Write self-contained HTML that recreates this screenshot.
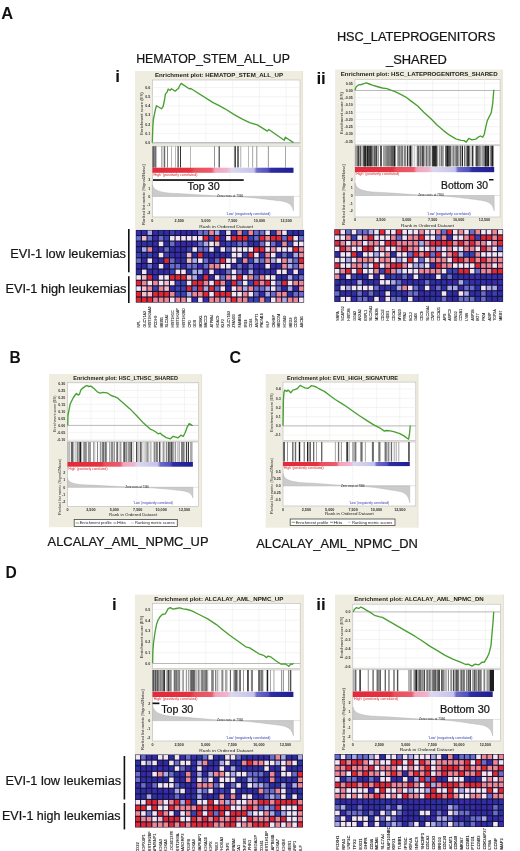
<!DOCTYPE html>
<html><head><meta charset="utf-8"><style>
html,body{margin:0;padding:0;background:#fff;}
body{width:520px;height:851px;overflow:hidden;}
svg{display:block;font-family:"Liberation Sans", sans-serif;filter:blur(0.35px);}
</style></head><body>
<svg width="520" height="851" viewBox="0 0 520 851" font-family='"Liberation Sans", sans-serif'>
<text x="1.3" y="18.8" font-size="16.5" text-anchor="start" font-weight="bold" fill="#111" textLength="11.9" lengthAdjust="spacingAndGlyphs">A</text>
<text x="9.6" y="363.0" font-size="16.5" text-anchor="start" font-weight="bold" fill="#111" textLength="11.2" lengthAdjust="spacingAndGlyphs">B</text>
<text x="229.6" y="363.0" font-size="16.5" text-anchor="start" font-weight="bold" fill="#111" textLength="11.6" lengthAdjust="spacingAndGlyphs">C</text>
<text x="5.4" y="577.9" font-size="16.5" text-anchor="start" font-weight="bold" fill="#111" textLength="11.3" lengthAdjust="spacingAndGlyphs">D</text>
<text x="115.2" y="82.1" font-size="17" text-anchor="start" font-weight="bold" fill="#111">i</text>
<text x="316.4" y="84.2" font-size="17" text-anchor="start" font-weight="bold" fill="#111">ii</text>
<text x="112.1" y="609.7" font-size="17" text-anchor="start" font-weight="bold" fill="#111">i</text>
<text x="316.2" y="609.6" font-size="17" text-anchor="start" font-weight="bold" fill="#111">ii</text>
<text x="136.2" y="62.9" font-size="12.5" text-anchor="start" font-weight="normal" fill="#151515" textLength="153.7" lengthAdjust="spacingAndGlyphs" stroke="#151515" stroke-width="0.22">HEMATOP_STEM_ALL_UP</text>
<text x="336.9" y="40.9" font-size="12.5" text-anchor="start" font-weight="normal" fill="#151515" textLength="158.5" lengthAdjust="spacingAndGlyphs" stroke="#151515" stroke-width="0.22">HSC_LATEPROGENITORS</text>
<text x="386.0" y="63.5" font-size="12.5" text-anchor="start" font-weight="normal" fill="#151515" textLength="60.9" lengthAdjust="spacingAndGlyphs" stroke="#151515" stroke-width="0.22">_SHARED</text>
<text x="47.6" y="546.0" font-size="13" text-anchor="start" font-weight="normal" fill="#151515" textLength="160.9" lengthAdjust="spacingAndGlyphs" stroke="#151515" stroke-width="0.22">ALCALAY_AML_NPMC_UP</text>
<text x="256.2" y="547.8" font-size="13" text-anchor="start" font-weight="normal" fill="#151515" textLength="161.6" lengthAdjust="spacingAndGlyphs" stroke="#151515" stroke-width="0.22">ALCALAY_AML_NPMC_DN</text>
<text x="10.2" y="257.8" font-size="12.5" text-anchor="start" font-weight="normal" fill="#151515" textLength="115.8" lengthAdjust="spacingAndGlyphs" stroke="#151515" stroke-width="0.22">EVI-1 low leukemias</text>
<text x="5.4" y="293.2" font-size="12.5" text-anchor="start" font-weight="normal" fill="#151515" textLength="121.1" lengthAdjust="spacingAndGlyphs" stroke="#151515" stroke-width="0.22">EVI-1 high leukemias</text>
<text x="5.4" y="785.0" font-size="12.5" text-anchor="start" font-weight="normal" fill="#151515" textLength="115.8" lengthAdjust="spacingAndGlyphs" stroke="#151515" stroke-width="0.22">EVI-1 low leukemias</text>
<text x="2.0" y="819.5" font-size="12.5" text-anchor="start" font-weight="normal" fill="#151515" textLength="118.5" lengthAdjust="spacingAndGlyphs" stroke="#151515" stroke-width="0.22">EVI-1 high leukemias</text>
<rect x="128.00" y="229.00" width="1.60" height="43.30" fill="#111"/>
<rect x="128.00" y="276.20" width="1.60" height="26.80" fill="#111"/>
<rect x="123.60" y="756.00" width="1.60" height="43.50" fill="#111"/>
<rect x="123.60" y="803.00" width="1.60" height="26.40" fill="#111"/>
<rect x="135.00" y="71.00" width="167.80" height="158.20" fill="#EFEDE0"/>
<line x1="302.40" y1="71.00" x2="302.40" y2="229.20" stroke="#e2dfd2" stroke-width="0.8"/>
<text x="155.0" y="77.3" font-size="6.2" text-anchor="start" font-weight="bold" fill="#1a1a1a" textLength="128.0" lengthAdjust="spacingAndGlyphs">Enrichment plot: HEMATOP_STEM_ALL_UP</text>
<rect x="152.40" y="80.00" width="147.60" height="63.80" fill="#ffffff" stroke="#b8b8b8" stroke-width="0.6"/>
<rect x="152.40" y="146.20" width="147.60" height="70.80" fill="#ffffff" stroke="#b8b8b8" stroke-width="0.6"/>
<line x1="179.15" y1="80.00" x2="179.15" y2="143.80" stroke="#ececec" stroke-width="0.6"/>
<line x1="205.90" y1="80.00" x2="205.90" y2="143.80" stroke="#ececec" stroke-width="0.6"/>
<line x1="232.65" y1="80.00" x2="232.65" y2="143.80" stroke="#ececec" stroke-width="0.6"/>
<line x1="259.40" y1="80.00" x2="259.40" y2="143.80" stroke="#ececec" stroke-width="0.6"/>
<line x1="286.15" y1="80.00" x2="286.15" y2="143.80" stroke="#ececec" stroke-width="0.6"/>
<line x1="152.40" y1="142.60" x2="300.00" y2="142.60" stroke="#ececec" stroke-width="0.6"/>
<line x1="152.40" y1="133.42" x2="300.00" y2="133.42" stroke="#ececec" stroke-width="0.6"/>
<line x1="152.40" y1="124.24" x2="300.00" y2="124.24" stroke="#ececec" stroke-width="0.6"/>
<line x1="152.40" y1="115.06" x2="300.00" y2="115.06" stroke="#ececec" stroke-width="0.6"/>
<line x1="152.40" y1="105.88" x2="300.00" y2="105.88" stroke="#ececec" stroke-width="0.6"/>
<line x1="152.40" y1="96.70" x2="300.00" y2="96.70" stroke="#ececec" stroke-width="0.6"/>
<line x1="152.40" y1="87.52" x2="300.00" y2="87.52" stroke="#ececec" stroke-width="0.6"/>
<line x1="152.40" y1="142.60" x2="300.00" y2="142.60" stroke="#a0a0a0" stroke-width="0.7"/>
<text x="150.2" y="143.9" font-size="3.6" text-anchor="end" font-weight="bold" fill="#333">0.0</text>
<text x="150.2" y="134.7" font-size="3.6" text-anchor="end" font-weight="bold" fill="#333">0.1</text>
<text x="150.2" y="125.5" font-size="3.6" text-anchor="end" font-weight="bold" fill="#333">0.2</text>
<text x="150.2" y="116.4" font-size="3.6" text-anchor="end" font-weight="bold" fill="#333">0.3</text>
<text x="150.2" y="107.2" font-size="3.6" text-anchor="end" font-weight="bold" fill="#333">0.4</text>
<text x="150.2" y="98.0" font-size="3.6" text-anchor="end" font-weight="bold" fill="#333">0.5</text>
<text x="150.2" y="88.8" font-size="3.6" text-anchor="end" font-weight="bold" fill="#333">0.6</text>
<text x="0" y="0" font-size="4.4" fill="#2a2a2a" textLength="42.4" lengthAdjust="spacingAndGlyphs" transform="translate(142.6,134.8) rotate(-90)">Enrichment score (ES)</text>
<text x="0" y="0" font-size="4.4" fill="#2a2a2a" textLength="61.0" lengthAdjust="spacingAndGlyphs" transform="translate(144.6,225.0) rotate(-90)">Ranked list metric (Signal2Noise)</text>
<path d="M152.3,142.6 L152.8,127.2 L153.4,119.5 L154.6,113.4 L155.4,109.5 L156.5,105.7 L161.5,108.8 L163.1,106.5 L164.6,99.5 L165.4,94.2 L167.2,91.8 L168.2,89.1 L170.0,90.3 L171.5,88.8 L173.8,90.3 L175.4,91.1 L176.9,89.5 L178.5,88.5 L179.2,86.5 L181.2,83.4 L189.2,88.8 L190.8,88.5 L213.1,102.6 L219.2,105.7 L225.0,108.8 L234.2,114.6 L241.9,118.8 L249.6,122.6 L257.3,124.9 L267.3,131.1 L268.8,129.5 L284.2,140.3 L285.3,137.2 L293.5,142.6" fill="none" stroke="#48a030" stroke-width="1.35" stroke-linejoin="round"/>
<rect x="152.30" y="146.20" width="4.20" height="21.40" fill="#828282"/>
<rect x="152.80" y="146.20" width="0.80" height="21.40" fill="#505050"/>
<rect x="155.00" y="146.20" width="0.70" height="21.40" fill="#696969"/>
<rect x="161.50" y="146.20" width="0.80" height="21.40" fill="#696969"/>
<rect x="163.70" y="146.20" width="1.50" height="21.40" fill="#696969"/>
<rect x="167.00" y="146.20" width="0.80" height="21.40" fill="#696969"/>
<rect x="171.10" y="146.20" width="0.70" height="21.40" fill="#9b9b9b"/>
<rect x="175.00" y="146.20" width="0.70" height="21.40" fill="#9b9b9b"/>
<rect x="177.40" y="146.20" width="1.50" height="21.40" fill="#696969"/>
<rect x="180.00" y="146.20" width="0.90" height="21.40" fill="#1e1e1e"/>
<rect x="190.10" y="146.20" width="0.70" height="21.40" fill="#9b9b9b"/>
<rect x="214.30" y="146.20" width="0.70" height="21.40" fill="#696969"/>
<rect x="218.50" y="146.20" width="1.50" height="21.40" fill="#696969"/>
<rect x="233.90" y="146.20" width="0.80" height="21.40" fill="#9b9b9b"/>
<rect x="234.70" y="146.20" width="1.20" height="21.40" fill="#1e1e1e"/>
<rect x="235.90" y="146.20" width="0.40" height="21.40" fill="#ffffff"/>
<rect x="237.20" y="146.20" width="1.60" height="21.40" fill="#505050"/>
<rect x="240.40" y="146.20" width="0.80" height="21.40" fill="#9b9b9b"/>
<rect x="248.30" y="146.20" width="0.70" height="21.40" fill="#9b9b9b"/>
<rect x="252.40" y="146.20" width="0.70" height="21.40" fill="#828282"/>
<rect x="256.50" y="146.20" width="0.70" height="21.40" fill="#696969"/>
<rect x="267.90" y="146.20" width="0.70" height="21.40" fill="#696969"/>
<rect x="285.10" y="146.20" width="0.70" height="21.40" fill="#828282"/>
<defs><linearGradient id="g1" x1="0" x2="1" y1="0" y2="0"><stop offset="0" stop-color="#e22a3c"/><stop offset="0.27" stop-color="#e4323f"/><stop offset="0.30" stop-color="#e9505e"/><stop offset="0.42" stop-color="#ec5a6a"/><stop offset="0.445" stop-color="#f0a4bc"/><stop offset="0.53" stop-color="#f0b4cc"/><stop offset="0.56" stop-color="#dcd6f0"/><stop offset="0.72" stop-color="#c4c2ec"/><stop offset="0.74" stop-color="#6c6ac8"/><stop offset="0.82" stop-color="#5250bc"/><stop offset="0.84" stop-color="#2e2ca2"/><stop offset="1" stop-color="#201e92"/></linearGradient></defs>
<rect x="152.40" y="167.70" width="141.10" height="5.10" fill="url(#g1)"/>
<text x="152.9" y="175.6" font-size="3.2" text-anchor="start" font-weight="normal" fill="#d42020" textLength="44.5" lengthAdjust="spacingAndGlyphs">'High' (positively correlated)</text>
<path d="M152.4,196.4 L152.4,185.0 C153.9,190.1 158.4,192.1 170.4,193.2 C192.4,194.1 210.0,195.7 230.0,196.4 C255.0,197.3 265.5,199.3 279.5,200.8 C288.5,201.9 292.0,204.4 293.5,211.0 L293.5,196.4 Z" fill="#cbcbcb" stroke="#a8a8a8" stroke-width="0.35"/>
<line x1="152.40" y1="196.40" x2="300.00" y2="196.40" stroke="#bdbdbd" stroke-width="0.4"/>
<line x1="230.00" y1="173.00" x2="230.00" y2="217.00" stroke="#d0d0d0" stroke-width="0.4" stroke-dasharray="1,1"/>
<text x="217.0" y="197.2" font-size="3.0" text-anchor="start" font-weight="normal" fill="#1a1a1a" textLength="26.2" lengthAdjust="spacingAndGlyphs">Zero cross at 7366</text>
<text x="226.0" y="214.8" font-size="3.2" text-anchor="start" font-weight="normal" fill="#2838b0" textLength="44.4" lengthAdjust="spacingAndGlyphs">'Low' (negatively correlated)</text>
<text x="150.2" y="181.3" font-size="3.6" text-anchor="end" font-weight="bold" fill="#333">3</text>
<text x="150.2" y="189.5" font-size="3.6" text-anchor="end" font-weight="bold" fill="#333">1</text>
<text x="150.2" y="197.7" font-size="3.6" text-anchor="end" font-weight="bold" fill="#333">0</text>
<text x="150.2" y="205.9" font-size="3.6" text-anchor="end" font-weight="bold" fill="#333">-1</text>
<text x="150.2" y="214.1" font-size="3.6" text-anchor="end" font-weight="bold" fill="#333">-2</text>
<text x="152.4" y="221.6" font-size="3.7" text-anchor="middle" font-weight="bold" fill="#2a2a2a">0</text>
<text x="179.2" y="221.6" font-size="3.7" text-anchor="middle" font-weight="bold" fill="#2a2a2a">2,500</text>
<text x="205.9" y="221.6" font-size="3.7" text-anchor="middle" font-weight="bold" fill="#2a2a2a">5,000</text>
<text x="232.7" y="221.6" font-size="3.7" text-anchor="middle" font-weight="bold" fill="#2a2a2a">7,500</text>
<text x="259.4" y="221.6" font-size="3.7" text-anchor="middle" font-weight="bold" fill="#2a2a2a">10,000</text>
<text x="286.1" y="221.6" font-size="3.7" text-anchor="middle" font-weight="bold" fill="#2a2a2a">12,500</text>
<text x="199.2" y="227.6" font-size="4.0" text-anchor="start" font-weight="normal" fill="#1a1a1a" textLength="54.0" lengthAdjust="spacingAndGlyphs">Rank in Ordered Dataset</text>
<rect x="153.00" y="179.20" width="90.70" height="1.70" fill="#111"/>
<text x="187.4" y="189.9" font-size="10.4" text-anchor="start" font-weight="normal" fill="#151515" textLength="32.3" lengthAdjust="spacingAndGlyphs" stroke="#151515" stroke-width="0.22">Top 30</text>
<rect x="335.20" y="69.60" width="167.40" height="159.60" fill="#EFEDE0"/>
<line x1="502.20" y1="69.60" x2="502.20" y2="229.20" stroke="#e2dfd2" stroke-width="0.8"/>
<text x="340.7" y="76.2" font-size="6.2" text-anchor="start" font-weight="bold" fill="#1a1a1a" textLength="156.9" lengthAdjust="spacingAndGlyphs">Enrichment plot: HSC_LATEPROGENITORS_SHARED</text>
<rect x="355.00" y="79.30" width="145.10" height="65.50" fill="#ffffff" stroke="#b8b8b8" stroke-width="0.6"/>
<rect x="355.00" y="145.80" width="145.10" height="71.20" fill="#ffffff" stroke="#b8b8b8" stroke-width="0.6"/>
<line x1="380.90" y1="79.30" x2="380.90" y2="144.80" stroke="#ececec" stroke-width="0.6"/>
<line x1="406.80" y1="79.30" x2="406.80" y2="144.80" stroke="#ececec" stroke-width="0.6"/>
<line x1="432.70" y1="79.30" x2="432.70" y2="144.80" stroke="#ececec" stroke-width="0.6"/>
<line x1="458.60" y1="79.30" x2="458.60" y2="144.80" stroke="#ececec" stroke-width="0.6"/>
<line x1="484.50" y1="79.30" x2="484.50" y2="144.80" stroke="#ececec" stroke-width="0.6"/>
<line x1="355.00" y1="83.25" x2="500.10" y2="83.25" stroke="#ececec" stroke-width="0.6"/>
<line x1="355.00" y1="90.50" x2="500.10" y2="90.50" stroke="#ececec" stroke-width="0.6"/>
<line x1="355.00" y1="97.75" x2="500.10" y2="97.75" stroke="#ececec" stroke-width="0.6"/>
<line x1="355.00" y1="105.00" x2="500.10" y2="105.00" stroke="#ececec" stroke-width="0.6"/>
<line x1="355.00" y1="112.25" x2="500.10" y2="112.25" stroke="#ececec" stroke-width="0.6"/>
<line x1="355.00" y1="119.50" x2="500.10" y2="119.50" stroke="#ececec" stroke-width="0.6"/>
<line x1="355.00" y1="126.75" x2="500.10" y2="126.75" stroke="#ececec" stroke-width="0.6"/>
<line x1="355.00" y1="134.00" x2="500.10" y2="134.00" stroke="#ececec" stroke-width="0.6"/>
<line x1="355.00" y1="141.25" x2="500.10" y2="141.25" stroke="#ececec" stroke-width="0.6"/>
<line x1="355.00" y1="90.50" x2="500.10" y2="90.50" stroke="#a0a0a0" stroke-width="0.7"/>
<text x="352.8" y="84.5" font-size="3.6" text-anchor="end" font-weight="bold" fill="#333">0.05</text>
<text x="352.8" y="91.8" font-size="3.6" text-anchor="end" font-weight="bold" fill="#333">0.00</text>
<text x="352.8" y="99.0" font-size="3.6" text-anchor="end" font-weight="bold" fill="#333">-0.05</text>
<text x="352.8" y="106.3" font-size="3.6" text-anchor="end" font-weight="bold" fill="#333">-0.10</text>
<text x="352.8" y="113.5" font-size="3.6" text-anchor="end" font-weight="bold" fill="#333">-0.15</text>
<text x="352.8" y="120.8" font-size="3.6" text-anchor="end" font-weight="bold" fill="#333">-0.20</text>
<text x="352.8" y="128.1" font-size="3.6" text-anchor="end" font-weight="bold" fill="#333">-0.25</text>
<text x="352.8" y="135.3" font-size="3.6" text-anchor="end" font-weight="bold" fill="#333">-0.30</text>
<text x="352.8" y="142.6" font-size="3.6" text-anchor="end" font-weight="bold" fill="#333">-0.35</text>
<text x="0" y="0" font-size="4.4" fill="#2a2a2a" textLength="42.0" lengthAdjust="spacingAndGlyphs" transform="translate(343.1,134.0) rotate(-90)">Enrichment score (ES)</text>
<text x="0" y="0" font-size="4.4" fill="#2a2a2a" textLength="61.0" lengthAdjust="spacingAndGlyphs" transform="translate(345.1,225.0) rotate(-90)">Ranked list metric (Signal2Noise)</text>
<path d="M354.9,90.2 L356.2,86.8 L358.5,84.9 L361.5,84.5 L363.8,83.7 L366.2,82.9 L369.2,84.0 L372.3,85.2 L376.9,86.5 L382.3,88.0 L386.9,88.6 L390.8,90.2 L394.6,91.4 L399.2,93.7 L405.4,96.8 L411.5,101.4 L417.7,106.0 L423.8,112.2 L431.2,119.1 L437.3,125.2 L443.5,130.6 L449.6,135.2 L455.8,138.8 L461.2,140.3 L464.2,140.6 L466.2,142.2 L468.8,138.3 L471.9,139.8 L475.8,139.1 L478.8,136.8 L480.4,136.0 L482.7,137.2 L484.2,134.5 L485.8,126.8 L487.3,120.6 L489.6,116.0 L491.2,112.9 L492.7,103.7 L493.8,89.8" fill="none" stroke="#48a030" stroke-width="1.35" stroke-linejoin="round"/>
<rect x="355.20" y="145.80" width="0.60" height="20.60" fill="#8e8e8e"/>
<rect x="355.80" y="145.80" width="0.80" height="20.60" fill="#5c5c5c"/>
<rect x="356.60" y="145.80" width="0.80" height="20.60" fill="#a7a7a7"/>
<rect x="357.40" y="145.80" width="0.80" height="20.60" fill="#2a2a2a"/>
<rect x="358.20" y="145.80" width="1.00" height="20.60" fill="#1e1e1e"/>
<rect x="359.20" y="145.80" width="0.60" height="20.60" fill="#a7a7a7"/>
<rect x="359.80" y="145.80" width="1.00" height="20.60" fill="#2a2a2a"/>
<rect x="360.80" y="145.80" width="0.70" height="20.60" fill="#757575"/>
<rect x="362.50" y="145.80" width="0.60" height="20.60" fill="#757575"/>
<rect x="363.10" y="145.80" width="0.80" height="20.60" fill="#434343"/>
<rect x="363.90" y="145.80" width="0.80" height="20.60" fill="#1e1e1e"/>
<rect x="364.70" y="145.80" width="1.00" height="20.60" fill="#434343"/>
<rect x="365.70" y="145.80" width="1.20" height="20.60" fill="#757575"/>
<rect x="366.90" y="145.80" width="1.20" height="20.60" fill="#1e1e1e"/>
<rect x="368.10" y="145.80" width="0.80" height="20.60" fill="#1e1e1e"/>
<rect x="368.90" y="145.80" width="1.20" height="20.60" fill="#434343"/>
<rect x="370.10" y="145.80" width="1.20" height="20.60" fill="#1e1e1e"/>
<rect x="371.30" y="145.80" width="1.20" height="20.60" fill="#1e1e1e"/>
<rect x="372.50" y="145.80" width="1.00" height="20.60" fill="#757575"/>
<rect x="373.50" y="145.80" width="0.10" height="20.60" fill="#1e1e1e"/>
<rect x="374.60" y="145.80" width="1.20" height="20.60" fill="#5c5c5c"/>
<rect x="375.80" y="145.80" width="1.20" height="20.60" fill="#434343"/>
<rect x="377.00" y="145.80" width="0.60" height="20.60" fill="#434343"/>
<rect x="377.60" y="145.80" width="0.80" height="20.60" fill="#ffffff"/>
<rect x="378.40" y="145.80" width="0.60" height="20.60" fill="#5c5c5c"/>
<rect x="380.00" y="145.80" width="0.60" height="20.60" fill="#757575"/>
<rect x="380.60" y="145.80" width="0.80" height="20.60" fill="#5c5c5c"/>
<rect x="381.40" y="145.80" width="0.60" height="20.60" fill="#2a2a2a"/>
<rect x="383.00" y="145.80" width="0.60" height="20.60" fill="#a7a7a7"/>
<rect x="383.60" y="145.80" width="0.80" height="20.60" fill="#5c5c5c"/>
<rect x="384.40" y="145.80" width="0.60" height="20.60" fill="#8e8e8e"/>
<rect x="385.00" y="145.80" width="0.60" height="20.60" fill="#a7a7a7"/>
<rect x="385.60" y="145.80" width="0.60" height="20.60" fill="#434343"/>
<rect x="386.20" y="145.80" width="0.80" height="20.60" fill="#757575"/>
<rect x="387.00" y="145.80" width="0.60" height="20.60" fill="#2a2a2a"/>
<rect x="387.60" y="145.80" width="0.80" height="20.60" fill="#757575"/>
<rect x="388.40" y="145.80" width="0.60" height="20.60" fill="#434343"/>
<rect x="389.00" y="145.80" width="0.60" height="20.60" fill="#5c5c5c"/>
<rect x="389.60" y="145.80" width="0.60" height="20.60" fill="#5c5c5c"/>
<rect x="390.20" y="145.80" width="0.60" height="20.60" fill="#5c5c5c"/>
<rect x="390.80" y="145.80" width="0.80" height="20.60" fill="#1e1e1e"/>
<rect x="391.60" y="145.80" width="0.60" height="20.60" fill="#434343"/>
<rect x="392.20" y="145.80" width="0.60" height="20.60" fill="#1e1e1e"/>
<rect x="392.80" y="145.80" width="0.80" height="20.60" fill="#2a2a2a"/>
<rect x="393.60" y="145.80" width="1.00" height="20.60" fill="#757575"/>
<rect x="394.60" y="145.80" width="1.00" height="20.60" fill="#5c5c5c"/>
<rect x="395.60" y="145.80" width="0.30" height="20.60" fill="#a7a7a7"/>
<rect x="396.90" y="145.80" width="0.80" height="20.60" fill="#a7a7a7"/>
<rect x="397.70" y="145.80" width="0.80" height="20.60" fill="#757575"/>
<rect x="398.50" y="145.80" width="1.20" height="20.60" fill="#5c5c5c"/>
<rect x="399.70" y="145.80" width="0.60" height="20.60" fill="#5c5c5c"/>
<rect x="400.30" y="145.80" width="1.20" height="20.60" fill="#8e8e8e"/>
<rect x="401.50" y="145.80" width="0.80" height="20.60" fill="#434343"/>
<rect x="402.30" y="145.80" width="1.20" height="20.60" fill="#5c5c5c"/>
<rect x="403.50" y="145.80" width="0.60" height="20.60" fill="#ffffff"/>
<rect x="404.10" y="145.80" width="1.20" height="20.60" fill="#757575"/>
<rect x="405.30" y="145.80" width="0.60" height="20.60" fill="#5c5c5c"/>
<rect x="405.90" y="145.80" width="0.60" height="20.60" fill="#757575"/>
<rect x="406.50" y="145.80" width="0.60" height="20.60" fill="#ffffff"/>
<rect x="407.10" y="145.80" width="1.20" height="20.60" fill="#1e1e1e"/>
<rect x="409.30" y="145.80" width="1.20" height="20.60" fill="#5c5c5c"/>
<rect x="410.50" y="145.80" width="0.80" height="20.60" fill="#2a2a2a"/>
<rect x="411.30" y="145.80" width="0.60" height="20.60" fill="#a7a7a7"/>
<rect x="411.90" y="145.80" width="0.80" height="20.60" fill="#8e8e8e"/>
<rect x="412.70" y="145.80" width="1.20" height="20.60" fill="#ffffff"/>
<rect x="413.90" y="145.80" width="0.60" height="20.60" fill="#434343"/>
<rect x="414.50" y="145.80" width="1.00" height="20.60" fill="#ffffff"/>
<rect x="415.50" y="145.80" width="0.10" height="20.60" fill="#8e8e8e"/>
<rect x="416.60" y="145.80" width="0.80" height="20.60" fill="#a7a7a7"/>
<rect x="417.40" y="145.80" width="0.60" height="20.60" fill="#2a2a2a"/>
<rect x="418.00" y="145.80" width="1.20" height="20.60" fill="#5c5c5c"/>
<rect x="419.20" y="145.80" width="0.60" height="20.60" fill="#a7a7a7"/>
<rect x="419.80" y="145.80" width="1.00" height="20.60" fill="#5c5c5c"/>
<rect x="420.80" y="145.80" width="0.60" height="20.60" fill="#5c5c5c"/>
<rect x="421.40" y="145.80" width="0.80" height="20.60" fill="#8e8e8e"/>
<rect x="422.20" y="145.80" width="1.20" height="20.60" fill="#1e1e1e"/>
<rect x="423.40" y="145.80" width="1.00" height="20.60" fill="#2a2a2a"/>
<rect x="425.40" y="145.80" width="1.00" height="20.60" fill="#8e8e8e"/>
<rect x="426.40" y="145.80" width="1.00" height="20.60" fill="#2a2a2a"/>
<rect x="427.40" y="145.80" width="0.60" height="20.60" fill="#a7a7a7"/>
<rect x="428.00" y="145.80" width="1.20" height="20.60" fill="#a7a7a7"/>
<rect x="429.20" y="145.80" width="1.20" height="20.60" fill="#5c5c5c"/>
<rect x="430.40" y="145.80" width="0.40" height="20.60" fill="#757575"/>
<rect x="431.80" y="145.80" width="1.00" height="20.60" fill="#1e1e1e"/>
<rect x="432.80" y="145.80" width="1.20" height="20.60" fill="#2a2a2a"/>
<rect x="434.00" y="145.80" width="1.00" height="20.60" fill="#2a2a2a"/>
<rect x="435.00" y="145.80" width="1.20" height="20.60" fill="#5c5c5c"/>
<rect x="436.20" y="145.80" width="0.60" height="20.60" fill="#8e8e8e"/>
<rect x="436.80" y="145.80" width="0.80" height="20.60" fill="#757575"/>
<rect x="437.60" y="145.80" width="0.60" height="20.60" fill="#8e8e8e"/>
<rect x="439.20" y="145.80" width="0.60" height="20.60" fill="#757575"/>
<rect x="439.80" y="145.80" width="0.60" height="20.60" fill="#5c5c5c"/>
<rect x="441.40" y="145.80" width="1.00" height="20.60" fill="#1e1e1e"/>
<rect x="442.40" y="145.80" width="1.00" height="20.60" fill="#8e8e8e"/>
<rect x="443.40" y="145.80" width="0.60" height="20.60" fill="#8e8e8e"/>
<rect x="445.00" y="145.80" width="0.80" height="20.60" fill="#5c5c5c"/>
<rect x="445.80" y="145.80" width="0.80" height="20.60" fill="#1e1e1e"/>
<rect x="446.60" y="145.80" width="0.80" height="20.60" fill="#2a2a2a"/>
<rect x="447.40" y="145.80" width="1.00" height="20.60" fill="#757575"/>
<rect x="448.40" y="145.80" width="0.60" height="20.60" fill="#2a2a2a"/>
<rect x="449.00" y="145.80" width="0.80" height="20.60" fill="#2a2a2a"/>
<rect x="449.80" y="145.80" width="1.20" height="20.60" fill="#5c5c5c"/>
<rect x="451.00" y="145.80" width="0.30" height="20.60" fill="#1e1e1e"/>
<rect x="452.30" y="145.80" width="1.00" height="20.60" fill="#8e8e8e"/>
<rect x="453.30" y="145.80" width="0.80" height="20.60" fill="#5c5c5c"/>
<rect x="454.10" y="145.80" width="1.20" height="20.60" fill="#a7a7a7"/>
<rect x="455.30" y="145.80" width="1.20" height="20.60" fill="#757575"/>
<rect x="456.50" y="145.80" width="0.60" height="20.60" fill="#2a2a2a"/>
<rect x="457.10" y="145.80" width="1.20" height="20.60" fill="#5c5c5c"/>
<rect x="458.30" y="145.80" width="0.30" height="20.60" fill="#2a2a2a"/>
<rect x="459.60" y="145.80" width="0.80" height="20.60" fill="#5c5c5c"/>
<rect x="460.40" y="145.80" width="0.80" height="20.60" fill="#1e1e1e"/>
<rect x="461.20" y="145.80" width="0.80" height="20.60" fill="#a7a7a7"/>
<rect x="462.00" y="145.80" width="1.00" height="20.60" fill="#1e1e1e"/>
<rect x="464.00" y="145.80" width="0.80" height="20.60" fill="#1e1e1e"/>
<rect x="464.80" y="145.80" width="0.60" height="20.60" fill="#ffffff"/>
<rect x="465.40" y="145.80" width="1.20" height="20.60" fill="#8e8e8e"/>
<rect x="466.60" y="145.80" width="1.20" height="20.60" fill="#434343"/>
<rect x="467.80" y="145.80" width="1.20" height="20.60" fill="#a7a7a7"/>
<rect x="469.00" y="145.80" width="1.00" height="20.60" fill="#757575"/>
<rect x="470.00" y="145.80" width="0.30" height="20.60" fill="#5c5c5c"/>
<rect x="471.30" y="145.80" width="0.80" height="20.60" fill="#a7a7a7"/>
<rect x="472.10" y="145.80" width="1.20" height="20.60" fill="#1e1e1e"/>
<rect x="473.30" y="145.80" width="0.70" height="20.60" fill="#a7a7a7"/>
<rect x="475.00" y="145.80" width="1.20" height="20.60" fill="#a7a7a7"/>
<rect x="476.20" y="145.80" width="1.20" height="20.60" fill="#1e1e1e"/>
<rect x="477.40" y="145.80" width="1.00" height="20.60" fill="#1e1e1e"/>
<rect x="478.40" y="145.80" width="1.20" height="20.60" fill="#5c5c5c"/>
<rect x="479.60" y="145.80" width="1.00" height="20.60" fill="#5c5c5c"/>
<rect x="480.60" y="145.80" width="0.00" height="20.60" fill="#2a2a2a"/>
<rect x="481.60" y="145.80" width="0.60" height="20.60" fill="#5c5c5c"/>
<rect x="482.20" y="145.80" width="0.80" height="20.60" fill="#8e8e8e"/>
<rect x="483.00" y="145.80" width="0.50" height="20.60" fill="#1e1e1e"/>
<rect x="484.50" y="145.80" width="1.00" height="20.60" fill="#a7a7a7"/>
<rect x="485.50" y="145.80" width="0.60" height="20.60" fill="#2a2a2a"/>
<rect x="486.10" y="145.80" width="0.80" height="20.60" fill="#434343"/>
<rect x="486.90" y="145.80" width="1.00" height="20.60" fill="#1e1e1e"/>
<rect x="487.90" y="145.80" width="1.20" height="20.60" fill="#1e1e1e"/>
<rect x="489.10" y="145.80" width="0.20" height="20.60" fill="#757575"/>
<rect x="490.30" y="145.80" width="1.20" height="20.60" fill="#5c5c5c"/>
<rect x="491.50" y="145.80" width="1.00" height="20.60" fill="#757575"/>
<rect x="492.50" y="145.80" width="0.80" height="20.60" fill="#1e1e1e"/>
<rect x="493.30" y="145.80" width="0.50" height="20.60" fill="#757575"/>
<rect x="364.40" y="145.80" width="1.50" height="20.60" fill="#1e1e1e"/>
<rect x="373.90" y="145.80" width="0.70" height="20.60" fill="#1e1e1e"/>
<rect x="380.50" y="145.80" width="0.70" height="20.60" fill="#1e1e1e"/>
<rect x="393.70" y="145.80" width="1.40" height="20.60" fill="#1e1e1e"/>
<rect x="409.70" y="145.80" width="1.50" height="20.60" fill="#1e1e1e"/>
<rect x="435.20" y="145.80" width="1.50" height="20.60" fill="#1e1e1e"/>
<rect x="446.90" y="145.80" width="1.50" height="20.60" fill="#1e1e1e"/>
<rect x="467.40" y="145.80" width="1.50" height="20.60" fill="#1e1e1e"/>
<rect x="484.50" y="145.80" width="1.90" height="20.60" fill="#1e1e1e"/>
<rect x="491.50" y="145.80" width="1.50" height="20.60" fill="#1e1e1e"/>
<defs><linearGradient id="g2" x1="0" x2="1" y1="0" y2="0"><stop offset="0" stop-color="#e22a3c"/><stop offset="0.27" stop-color="#e4323f"/><stop offset="0.30" stop-color="#e9505e"/><stop offset="0.42" stop-color="#ec5a6a"/><stop offset="0.445" stop-color="#f0a4bc"/><stop offset="0.53" stop-color="#f0b4cc"/><stop offset="0.56" stop-color="#dcd6f0"/><stop offset="0.72" stop-color="#c4c2ec"/><stop offset="0.74" stop-color="#6c6ac8"/><stop offset="0.82" stop-color="#5250bc"/><stop offset="0.84" stop-color="#2e2ca2"/><stop offset="1" stop-color="#201e92"/></linearGradient></defs>
<rect x="355.00" y="167.00" width="139.20" height="5.20" fill="url(#g2)"/>
<text x="355.5" y="175.0" font-size="3.2" text-anchor="start" font-weight="normal" fill="#d42020" textLength="43.7" lengthAdjust="spacingAndGlyphs">'High' (positively correlated)</text>
<path d="M355.0,195.5 L355.0,183.0 C356.5,188.6 360.9,190.8 372.7,192.0 C394.3,193.0 411.3,194.8 431.0,195.5 C455.6,196.4 466.7,198.6 480.4,200.2 C489.3,201.4 492.7,204.0 494.2,211.0 L494.2,195.5 Z" fill="#cbcbcb" stroke="#a8a8a8" stroke-width="0.35"/>
<line x1="355.00" y1="195.50" x2="500.10" y2="195.50" stroke="#bdbdbd" stroke-width="0.4"/>
<line x1="431.00" y1="173.00" x2="431.00" y2="217.00" stroke="#d0d0d0" stroke-width="0.4" stroke-dasharray="1,1"/>
<text x="418.2" y="196.3" font-size="3.0" text-anchor="start" font-weight="normal" fill="#1a1a1a" textLength="25.8" lengthAdjust="spacingAndGlyphs">Zero cross at 7366</text>
<text x="427.1" y="214.8" font-size="3.2" text-anchor="start" font-weight="normal" fill="#2838b0" textLength="43.6" lengthAdjust="spacingAndGlyphs">'Low' (negatively correlated)</text>
<text x="352.8" y="181.3" font-size="3.6" text-anchor="end" font-weight="bold" fill="#333">2</text>
<text x="352.8" y="189.0" font-size="3.6" text-anchor="end" font-weight="bold" fill="#333">1</text>
<text x="352.8" y="196.8" font-size="3.6" text-anchor="end" font-weight="bold" fill="#333">0</text>
<text x="352.8" y="204.6" font-size="3.6" text-anchor="end" font-weight="bold" fill="#333">-1</text>
<text x="352.8" y="212.3" font-size="3.6" text-anchor="end" font-weight="bold" fill="#333">-2</text>
<text x="355.0" y="221.3" font-size="3.7" text-anchor="middle" font-weight="bold" fill="#2a2a2a">0</text>
<text x="380.9" y="221.3" font-size="3.7" text-anchor="middle" font-weight="bold" fill="#2a2a2a">2,500</text>
<text x="406.8" y="221.3" font-size="3.7" text-anchor="middle" font-weight="bold" fill="#2a2a2a">5,000</text>
<text x="432.7" y="221.3" font-size="3.7" text-anchor="middle" font-weight="bold" fill="#2a2a2a">7,500</text>
<text x="458.6" y="221.3" font-size="3.7" text-anchor="middle" font-weight="bold" fill="#2a2a2a">10,000</text>
<text x="484.5" y="221.3" font-size="3.7" text-anchor="middle" font-weight="bold" fill="#2a2a2a">12,500</text>
<text x="401.0" y="226.8" font-size="4.0" text-anchor="start" font-weight="normal" fill="#1a1a1a" textLength="53.1" lengthAdjust="spacingAndGlyphs">Rank in Ordered Dataset</text>
<rect x="489.00" y="179.00" width="4.50" height="1.50" fill="#111"/>
<text x="441.0" y="188.8" font-size="10.4" text-anchor="start" font-weight="normal" fill="#151515" textLength="47.1" lengthAdjust="spacingAndGlyphs" stroke="#151515" stroke-width="0.22">Bottom 30</text>
<rect x="49.00" y="374.00" width="153.00" height="153.20" fill="#EFEDE0"/>
<line x1="201.60" y1="374.00" x2="201.60" y2="527.20" stroke="#e2dfd2" stroke-width="0.8"/>
<text x="73.3" y="380.3" font-size="6.2" text-anchor="start" font-weight="bold" fill="#1a1a1a" textLength="104.6" lengthAdjust="spacingAndGlyphs">Enrichment plot: HSC_LTHSC_SHARED</text>
<rect x="67.50" y="382.50" width="131.10" height="58.50" fill="#ffffff" stroke="#b8b8b8" stroke-width="0.6"/>
<rect x="67.50" y="442.00" width="131.10" height="64.40" fill="#ffffff" stroke="#b8b8b8" stroke-width="0.6"/>
<line x1="90.90" y1="382.50" x2="90.90" y2="441.00" stroke="#ececec" stroke-width="0.6"/>
<line x1="114.30" y1="382.50" x2="114.30" y2="441.00" stroke="#ececec" stroke-width="0.6"/>
<line x1="137.70" y1="382.50" x2="137.70" y2="441.00" stroke="#ececec" stroke-width="0.6"/>
<line x1="161.10" y1="382.50" x2="161.10" y2="441.00" stroke="#ececec" stroke-width="0.6"/>
<line x1="184.50" y1="382.50" x2="184.50" y2="441.00" stroke="#ececec" stroke-width="0.6"/>
<line x1="67.50" y1="383.40" x2="198.60" y2="383.40" stroke="#ececec" stroke-width="0.6"/>
<line x1="67.50" y1="390.40" x2="198.60" y2="390.40" stroke="#ececec" stroke-width="0.6"/>
<line x1="67.50" y1="397.40" x2="198.60" y2="397.40" stroke="#ececec" stroke-width="0.6"/>
<line x1="67.50" y1="404.40" x2="198.60" y2="404.40" stroke="#ececec" stroke-width="0.6"/>
<line x1="67.50" y1="411.40" x2="198.60" y2="411.40" stroke="#ececec" stroke-width="0.6"/>
<line x1="67.50" y1="418.40" x2="198.60" y2="418.40" stroke="#ececec" stroke-width="0.6"/>
<line x1="67.50" y1="425.40" x2="198.60" y2="425.40" stroke="#ececec" stroke-width="0.6"/>
<line x1="67.50" y1="432.40" x2="198.60" y2="432.40" stroke="#ececec" stroke-width="0.6"/>
<line x1="67.50" y1="439.40" x2="198.60" y2="439.40" stroke="#ececec" stroke-width="0.6"/>
<line x1="67.50" y1="425.40" x2="198.60" y2="425.40" stroke="#a0a0a0" stroke-width="0.7"/>
<text x="65.3" y="384.7" font-size="3.6" text-anchor="end" font-weight="bold" fill="#333">0.30</text>
<text x="65.3" y="391.7" font-size="3.6" text-anchor="end" font-weight="bold" fill="#333">0.25</text>
<text x="65.3" y="398.7" font-size="3.6" text-anchor="end" font-weight="bold" fill="#333">0.20</text>
<text x="65.3" y="405.7" font-size="3.6" text-anchor="end" font-weight="bold" fill="#333">0.15</text>
<text x="65.3" y="412.7" font-size="3.6" text-anchor="end" font-weight="bold" fill="#333">0.10</text>
<text x="65.3" y="419.7" font-size="3.6" text-anchor="end" font-weight="bold" fill="#333">0.05</text>
<text x="65.3" y="426.7" font-size="3.6" text-anchor="end" font-weight="bold" fill="#333">0.00</text>
<text x="65.3" y="433.7" font-size="3.6" text-anchor="end" font-weight="bold" fill="#333">-0.05</text>
<text x="65.3" y="440.7" font-size="3.6" text-anchor="end" font-weight="bold" fill="#333">-0.10</text>
<text x="0" y="0" font-size="4.4" fill="#2a2a2a" textLength="36.2" lengthAdjust="spacingAndGlyphs" transform="translate(56.2,431.8) rotate(-90)">Enrichment score (ES)</text>
<text x="0" y="0" font-size="4.4" fill="#2a2a2a" textLength="55.9" lengthAdjust="spacingAndGlyphs" transform="translate(61.1,514.9) rotate(-90)">Ranked list metric (Signal2Noise)</text>
<path d="M67.8,425.4 L67.9,420.0 L68.0,415.0 L69.1,409.6 L70.1,404.2 L71.4,401.5 L73.4,397.5 L74.8,395.5 L76.4,393.5 L78.1,395.1 L79.5,394.1 L80.8,390.1 L82.8,388.1 L85.5,386.1 L86.9,385.7 L88.9,386.5 L90.9,386.1 L94.3,388.7 L97.6,392.1 L100.3,393.1 L103.0,392.4 L107.1,392.8 L111.1,395.5 L115.1,396.8 L117.8,398.2 L124.6,404.2 L130.0,408.9 L136.7,415.7 L143.5,423.1 L150.2,429.1 L153.6,430.5 L158.3,433.8 L160.3,433.2 L162.3,435.2 L166.3,437.6 L170.4,438.8 L173.1,436.3 L175.8,437.2 L177.8,437.9 L180.9,435.2 L183.2,436.5 L185.2,432.5 L187.2,427.1 L189.2,423.7 L190.6,424.4 L192.6,425.8" fill="none" stroke="#48a030" stroke-width="1.35" stroke-linejoin="round"/>
<rect x="67.60" y="442.00" width="0.80" height="20.00" fill="#9b9b9b"/>
<rect x="68.40" y="442.00" width="1.20" height="20.00" fill="#b4b4b4"/>
<rect x="69.60" y="442.00" width="0.30" height="20.00" fill="#828282"/>
<rect x="70.90" y="442.00" width="0.80" height="20.00" fill="#373737"/>
<rect x="71.70" y="442.00" width="1.20" height="20.00" fill="#505050"/>
<rect x="72.90" y="442.00" width="0.80" height="20.00" fill="#828282"/>
<rect x="73.70" y="442.00" width="0.80" height="20.00" fill="#cdcdcd"/>
<rect x="75.50" y="442.00" width="0.60" height="20.00" fill="#9b9b9b"/>
<rect x="76.10" y="442.00" width="0.30" height="20.00" fill="#828282"/>
<rect x="77.40" y="442.00" width="1.00" height="20.00" fill="#373737"/>
<rect x="79.40" y="442.00" width="1.20" height="20.00" fill="#505050"/>
<rect x="80.60" y="442.00" width="1.20" height="20.00" fill="#9b9b9b"/>
<rect x="81.80" y="442.00" width="0.50" height="20.00" fill="#cdcdcd"/>
<rect x="83.30" y="442.00" width="0.80" height="20.00" fill="#828282"/>
<rect x="84.10" y="442.00" width="1.20" height="20.00" fill="#828282"/>
<rect x="85.30" y="442.00" width="1.20" height="20.00" fill="#696969"/>
<rect x="86.50" y="442.00" width="0.40" height="20.00" fill="#828282"/>
<rect x="87.90" y="442.00" width="0.60" height="20.00" fill="#828282"/>
<rect x="88.50" y="442.00" width="0.80" height="20.00" fill="#696969"/>
<rect x="89.30" y="442.00" width="0.60" height="20.00" fill="#828282"/>
<rect x="89.90" y="442.00" width="1.00" height="20.00" fill="#828282"/>
<rect x="90.90" y="442.00" width="0.60" height="20.00" fill="#ffffff"/>
<rect x="93.50" y="442.00" width="0.60" height="20.00" fill="#505050"/>
<rect x="94.10" y="442.00" width="0.60" height="20.00" fill="#828282"/>
<rect x="94.70" y="442.00" width="1.20" height="20.00" fill="#ffffff"/>
<rect x="95.90" y="442.00" width="0.10" height="20.00" fill="#505050"/>
<rect x="97.00" y="442.00" width="1.00" height="20.00" fill="#828282"/>
<rect x="98.00" y="442.00" width="0.60" height="20.00" fill="#ffffff"/>
<rect x="99.60" y="442.00" width="0.60" height="20.00" fill="#cdcdcd"/>
<rect x="100.20" y="442.00" width="1.20" height="20.00" fill="#828282"/>
<rect x="101.40" y="442.00" width="0.80" height="20.00" fill="#cdcdcd"/>
<rect x="102.20" y="442.00" width="1.00" height="20.00" fill="#696969"/>
<rect x="103.20" y="442.00" width="0.80" height="20.00" fill="#505050"/>
<rect x="104.00" y="442.00" width="1.20" height="20.00" fill="#b4b4b4"/>
<rect x="105.20" y="442.00" width="1.00" height="20.00" fill="#505050"/>
<rect x="106.20" y="442.00" width="0.80" height="20.00" fill="#828282"/>
<rect x="107.00" y="442.00" width="0.10" height="20.00" fill="#828282"/>
<rect x="109.10" y="442.00" width="0.60" height="20.00" fill="#505050"/>
<rect x="109.70" y="442.00" width="1.00" height="20.00" fill="#cdcdcd"/>
<rect x="110.70" y="442.00" width="0.80" height="20.00" fill="#cdcdcd"/>
<rect x="111.50" y="442.00" width="1.00" height="20.00" fill="#373737"/>
<rect x="112.50" y="442.00" width="1.00" height="20.00" fill="#828282"/>
<rect x="113.50" y="442.00" width="0.60" height="20.00" fill="#cdcdcd"/>
<rect x="114.10" y="442.00" width="0.60" height="20.00" fill="#696969"/>
<rect x="114.70" y="442.00" width="0.30" height="20.00" fill="#828282"/>
<rect x="116.00" y="442.00" width="1.00" height="20.00" fill="#9b9b9b"/>
<rect x="117.00" y="442.00" width="1.00" height="20.00" fill="#696969"/>
<rect x="118.00" y="442.00" width="0.20" height="20.00" fill="#828282"/>
<rect x="119.20" y="442.00" width="0.60" height="20.00" fill="#cdcdcd"/>
<rect x="119.80" y="442.00" width="0.80" height="20.00" fill="#828282"/>
<rect x="120.60" y="442.00" width="1.00" height="20.00" fill="#828282"/>
<rect x="121.60" y="442.00" width="0.60" height="20.00" fill="#ffffff"/>
<rect x="123.20" y="442.00" width="1.00" height="20.00" fill="#696969"/>
<rect x="124.20" y="442.00" width="0.80" height="20.00" fill="#373737"/>
<rect x="125.00" y="442.00" width="0.80" height="20.00" fill="#b4b4b4"/>
<rect x="125.80" y="442.00" width="0.80" height="20.00" fill="#373737"/>
<rect x="126.60" y="442.00" width="0.10" height="20.00" fill="#cdcdcd"/>
<rect x="127.70" y="442.00" width="0.80" height="20.00" fill="#696969"/>
<rect x="128.50" y="442.00" width="0.80" height="20.00" fill="#828282"/>
<rect x="129.30" y="442.00" width="0.60" height="20.00" fill="#696969"/>
<rect x="129.90" y="442.00" width="1.20" height="20.00" fill="#828282"/>
<rect x="131.10" y="442.00" width="1.00" height="20.00" fill="#373737"/>
<rect x="132.10" y="442.00" width="0.10" height="20.00" fill="#828282"/>
<rect x="133.20" y="442.00" width="1.20" height="20.00" fill="#cdcdcd"/>
<rect x="134.40" y="442.00" width="0.80" height="20.00" fill="#ffffff"/>
<rect x="135.20" y="442.00" width="1.20" height="20.00" fill="#ffffff"/>
<rect x="136.40" y="442.00" width="1.20" height="20.00" fill="#828282"/>
<rect x="137.60" y="442.00" width="0.80" height="20.00" fill="#b4b4b4"/>
<rect x="138.40" y="442.00" width="1.00" height="20.00" fill="#b4b4b4"/>
<rect x="139.40" y="442.00" width="0.60" height="20.00" fill="#cdcdcd"/>
<rect x="140.00" y="442.00" width="0.80" height="20.00" fill="#505050"/>
<rect x="140.80" y="442.00" width="0.60" height="20.00" fill="#373737"/>
<rect x="141.40" y="442.00" width="0.80" height="20.00" fill="#828282"/>
<rect x="142.20" y="442.00" width="0.60" height="20.00" fill="#ffffff"/>
<rect x="142.80" y="442.00" width="0.40" height="20.00" fill="#696969"/>
<rect x="144.20" y="442.00" width="1.20" height="20.00" fill="#cdcdcd"/>
<rect x="145.40" y="442.00" width="0.80" height="20.00" fill="#b4b4b4"/>
<rect x="146.20" y="442.00" width="0.60" height="20.00" fill="#9b9b9b"/>
<rect x="146.80" y="442.00" width="1.00" height="20.00" fill="#9b9b9b"/>
<rect x="147.80" y="442.00" width="0.60" height="20.00" fill="#373737"/>
<rect x="148.40" y="442.00" width="0.40" height="20.00" fill="#cdcdcd"/>
<rect x="149.80" y="442.00" width="0.80" height="20.00" fill="#828282"/>
<rect x="150.60" y="442.00" width="1.20" height="20.00" fill="#cdcdcd"/>
<rect x="151.80" y="442.00" width="0.60" height="20.00" fill="#cdcdcd"/>
<rect x="152.40" y="442.00" width="0.60" height="20.00" fill="#ffffff"/>
<rect x="153.00" y="442.00" width="1.20" height="20.00" fill="#cdcdcd"/>
<rect x="154.20" y="442.00" width="0.60" height="20.00" fill="#373737"/>
<rect x="154.80" y="442.00" width="1.00" height="20.00" fill="#b4b4b4"/>
<rect x="155.80" y="442.00" width="1.20" height="20.00" fill="#828282"/>
<rect x="157.00" y="442.00" width="0.80" height="20.00" fill="#696969"/>
<rect x="157.80" y="442.00" width="0.00" height="20.00" fill="#cdcdcd"/>
<rect x="158.80" y="442.00" width="1.20" height="20.00" fill="#b4b4b4"/>
<rect x="160.00" y="442.00" width="0.60" height="20.00" fill="#696969"/>
<rect x="160.60" y="442.00" width="0.60" height="20.00" fill="#cdcdcd"/>
<rect x="162.20" y="442.00" width="1.20" height="20.00" fill="#cdcdcd"/>
<rect x="163.40" y="442.00" width="1.20" height="20.00" fill="#696969"/>
<rect x="164.60" y="442.00" width="1.20" height="20.00" fill="#ffffff"/>
<rect x="165.80" y="442.00" width="0.80" height="20.00" fill="#828282"/>
<rect x="166.60" y="442.00" width="0.60" height="20.00" fill="#505050"/>
<rect x="167.20" y="442.00" width="0.80" height="20.00" fill="#cdcdcd"/>
<rect x="168.00" y="442.00" width="1.00" height="20.00" fill="#828282"/>
<rect x="169.00" y="442.00" width="0.60" height="20.00" fill="#505050"/>
<rect x="169.60" y="442.00" width="1.00" height="20.00" fill="#b4b4b4"/>
<rect x="170.60" y="442.00" width="0.60" height="20.00" fill="#373737"/>
<rect x="171.20" y="442.00" width="1.20" height="20.00" fill="#cdcdcd"/>
<rect x="172.40" y="442.00" width="0.60" height="20.00" fill="#505050"/>
<rect x="173.00" y="442.00" width="0.60" height="20.00" fill="#696969"/>
<rect x="173.60" y="442.00" width="0.10" height="20.00" fill="#cdcdcd"/>
<rect x="174.70" y="442.00" width="1.10" height="20.00" fill="#828282"/>
<rect x="176.80" y="442.00" width="0.60" height="20.00" fill="#cdcdcd"/>
<rect x="177.40" y="442.00" width="0.80" height="20.00" fill="#b4b4b4"/>
<rect x="178.20" y="442.00" width="0.60" height="20.00" fill="#cdcdcd"/>
<rect x="178.80" y="442.00" width="0.80" height="20.00" fill="#b4b4b4"/>
<rect x="179.60" y="442.00" width="0.40" height="20.00" fill="#828282"/>
<rect x="181.00" y="442.00" width="1.20" height="20.00" fill="#828282"/>
<rect x="182.20" y="442.00" width="1.20" height="20.00" fill="#696969"/>
<rect x="183.40" y="442.00" width="0.60" height="20.00" fill="#505050"/>
<rect x="184.00" y="442.00" width="0.80" height="20.00" fill="#9b9b9b"/>
<rect x="185.80" y="442.00" width="1.20" height="20.00" fill="#9b9b9b"/>
<rect x="187.00" y="442.00" width="0.80" height="20.00" fill="#ffffff"/>
<rect x="187.80" y="442.00" width="1.20" height="20.00" fill="#373737"/>
<rect x="190.00" y="442.00" width="0.80" height="20.00" fill="#9b9b9b"/>
<rect x="190.80" y="442.00" width="0.80" height="20.00" fill="#9b9b9b"/>
<rect x="191.60" y="442.00" width="0.80" height="20.00" fill="#828282"/>
<rect x="79.70" y="442.00" width="1.30" height="20.00" fill="#1e1e1e"/>
<rect x="136.30" y="442.00" width="0.70" height="20.00" fill="#1e1e1e"/>
<rect x="159.20" y="442.00" width="0.70" height="20.00" fill="#1e1e1e"/>
<rect x="168.60" y="442.00" width="0.70" height="20.00" fill="#1e1e1e"/>
<rect x="171.30" y="442.00" width="0.70" height="20.00" fill="#1e1e1e"/>
<rect x="186.00" y="442.00" width="0.70" height="20.00" fill="#1e1e1e"/>
<defs><linearGradient id="g3" x1="0" x2="1" y1="0" y2="0"><stop offset="0" stop-color="#e22a3c"/><stop offset="0.27" stop-color="#e4323f"/><stop offset="0.30" stop-color="#e9505e"/><stop offset="0.42" stop-color="#ec5a6a"/><stop offset="0.445" stop-color="#f0a4bc"/><stop offset="0.53" stop-color="#f0b4cc"/><stop offset="0.56" stop-color="#dcd6f0"/><stop offset="0.72" stop-color="#c4c2ec"/><stop offset="0.74" stop-color="#6c6ac8"/><stop offset="0.82" stop-color="#5250bc"/><stop offset="0.84" stop-color="#2e2ca2"/><stop offset="1" stop-color="#201e92"/></linearGradient></defs>
<rect x="67.50" y="462.00" width="125.40" height="4.70" fill="url(#g3)"/>
<text x="68.0" y="469.5" font-size="3.2" text-anchor="start" font-weight="normal" fill="#d42020" textLength="39.5" lengthAdjust="spacingAndGlyphs">'High' (positively correlated)</text>
<path d="M67.5,487.3 L67.5,478.5 C68.8,482.5 72.8,484.0 83.5,484.8 C103.0,485.5 119.2,486.8 137.0,487.3 C159.2,487.9 168.0,489.4 180.5,490.5 C188.5,491.4 191.6,493.2 192.9,498.0 L192.9,487.3 Z" fill="#cbcbcb" stroke="#a8a8a8" stroke-width="0.35"/>
<line x1="67.50" y1="487.30" x2="198.60" y2="487.30" stroke="#bdbdbd" stroke-width="0.4"/>
<line x1="137.00" y1="467.00" x2="137.00" y2="506.40" stroke="#d0d0d0" stroke-width="0.4" stroke-dasharray="1,1"/>
<text x="125.5" y="488.1" font-size="3.0" text-anchor="start" font-weight="normal" fill="#1a1a1a" textLength="23.3" lengthAdjust="spacingAndGlyphs">Zero cross at 7366</text>
<text x="133.4" y="504.4" font-size="3.2" text-anchor="start" font-weight="normal" fill="#2838b0" textLength="39.4" lengthAdjust="spacingAndGlyphs">'Low' (negatively correlated)</text>
<text x="65.3" y="474.3" font-size="3.6" text-anchor="end" font-weight="bold" fill="#333">2</text>
<text x="65.3" y="481.3" font-size="3.6" text-anchor="end" font-weight="bold" fill="#333">1</text>
<text x="65.3" y="488.6" font-size="3.6" text-anchor="end" font-weight="bold" fill="#333">0</text>
<text x="65.3" y="495.8" font-size="3.6" text-anchor="end" font-weight="bold" fill="#333">-1</text>
<text x="65.3" y="502.8" font-size="3.6" text-anchor="end" font-weight="bold" fill="#333">-2</text>
<text x="67.5" y="511.0" font-size="3.7" text-anchor="middle" font-weight="bold" fill="#2a2a2a">0</text>
<text x="90.9" y="511.0" font-size="3.7" text-anchor="middle" font-weight="bold" fill="#2a2a2a">2,500</text>
<text x="114.3" y="511.0" font-size="3.7" text-anchor="middle" font-weight="bold" fill="#2a2a2a">5,000</text>
<text x="137.7" y="511.0" font-size="3.7" text-anchor="middle" font-weight="bold" fill="#2a2a2a">7,500</text>
<text x="161.1" y="511.0" font-size="3.7" text-anchor="middle" font-weight="bold" fill="#2a2a2a">10,000</text>
<text x="184.5" y="511.0" font-size="3.7" text-anchor="middle" font-weight="bold" fill="#2a2a2a">12,500</text>
<text x="109.1" y="515.8" font-size="4.0" text-anchor="start" font-weight="normal" fill="#1a1a1a" textLength="48.0" lengthAdjust="spacingAndGlyphs">Rank in Ordered Dataset</text>
<rect x="74.20" y="519.60" width="103.10" height="6.80" fill="#ffffff" stroke="#444" stroke-width="0.8"/>
<line x1="75.70" y1="523.00" x2="79.20" y2="523.00" stroke="#4e9c32" stroke-width="0.8"/>
<text x="79.7" y="524.2" font-size="3.4" text-anchor="start" font-weight="normal" fill="#222" textLength="32.0" lengthAdjust="spacingAndGlyphs">Enrichment profile</text>
<line x1="113.38" y1="523.00" x2="116.38" y2="523.00" stroke="#333" stroke-width="0.6"/>
<text x="116.9" y="524.2" font-size="3.4" text-anchor="start" font-weight="normal" fill="#222" textLength="8.8" lengthAdjust="spacingAndGlyphs">Hits</text>
<line x1="130.91" y1="523.00" x2="133.91" y2="523.00" stroke="#aaa" stroke-width="0.6"/>
<text x="135.0" y="524.2" font-size="3.4" text-anchor="start" font-weight="normal" fill="#222" textLength="39.7" lengthAdjust="spacingAndGlyphs">Ranking metric scores</text>
<rect x="265.70" y="374.00" width="152.60" height="153.70" fill="#EFEDE0"/>
<line x1="417.90" y1="374.00" x2="417.90" y2="527.70" stroke="#e2dfd2" stroke-width="0.8"/>
<text x="287.0" y="379.6" font-size="6.2" text-anchor="start" font-weight="bold" fill="#1a1a1a" textLength="111.0" lengthAdjust="spacingAndGlyphs">Enrichment plot: EVI1_HIGH_SIGNATURE</text>
<rect x="283.00" y="382.10" width="132.80" height="58.50" fill="#ffffff" stroke="#b8b8b8" stroke-width="0.6"/>
<rect x="283.00" y="442.00" width="132.80" height="64.00" fill="#ffffff" stroke="#b8b8b8" stroke-width="0.6"/>
<line x1="306.35" y1="382.10" x2="306.35" y2="440.60" stroke="#ececec" stroke-width="0.6"/>
<line x1="329.70" y1="382.10" x2="329.70" y2="440.60" stroke="#ececec" stroke-width="0.6"/>
<line x1="353.05" y1="382.10" x2="353.05" y2="440.60" stroke="#ececec" stroke-width="0.6"/>
<line x1="376.40" y1="382.10" x2="376.40" y2="440.60" stroke="#ececec" stroke-width="0.6"/>
<line x1="399.75" y1="382.10" x2="399.75" y2="440.60" stroke="#ececec" stroke-width="0.6"/>
<line x1="283.00" y1="389.10" x2="415.80" y2="389.10" stroke="#ececec" stroke-width="0.6"/>
<line x1="283.00" y1="398.30" x2="415.80" y2="398.30" stroke="#ececec" stroke-width="0.6"/>
<line x1="283.00" y1="407.50" x2="415.80" y2="407.50" stroke="#ececec" stroke-width="0.6"/>
<line x1="283.00" y1="416.70" x2="415.80" y2="416.70" stroke="#ececec" stroke-width="0.6"/>
<line x1="283.00" y1="425.90" x2="415.80" y2="425.90" stroke="#ececec" stroke-width="0.6"/>
<line x1="283.00" y1="435.10" x2="415.80" y2="435.10" stroke="#ececec" stroke-width="0.6"/>
<line x1="283.00" y1="425.90" x2="415.80" y2="425.90" stroke="#a0a0a0" stroke-width="0.7"/>
<text x="280.8" y="390.4" font-size="3.6" text-anchor="end" font-weight="bold" fill="#333">0.4</text>
<text x="280.8" y="399.6" font-size="3.6" text-anchor="end" font-weight="bold" fill="#333">0.3</text>
<text x="280.8" y="408.8" font-size="3.6" text-anchor="end" font-weight="bold" fill="#333">0.2</text>
<text x="280.8" y="418.0" font-size="3.6" text-anchor="end" font-weight="bold" fill="#333">0.1</text>
<text x="280.8" y="427.2" font-size="3.6" text-anchor="end" font-weight="bold" fill="#333">0.0</text>
<text x="280.8" y="436.4" font-size="3.6" text-anchor="end" font-weight="bold" fill="#333">-0.1</text>
<text x="0" y="0" font-size="4.4" fill="#2a2a2a" textLength="38.6" lengthAdjust="spacingAndGlyphs" transform="translate(273.0,431.8) rotate(-90)">Enrichment score (ES)</text>
<text x="0" y="0" font-size="4.4" fill="#2a2a2a" textLength="56.0" lengthAdjust="spacingAndGlyphs" transform="translate(273.0,514.0) rotate(-90)">Ranked list metric (Signal2Noise)</text>
<path d="M283.0,425.8 L283.4,400.2 L284.0,392.1 L284.7,390.1 L286.7,391.4 L288.1,390.1 L290.8,392.8 L292.8,390.1 L295.5,389.4 L297.5,388.3 L300.2,385.4 L302.2,386.5 L304.9,387.8 L307.6,388.3 L309.6,387.4 L311.2,385.7 L313.6,386.1 L316.3,387.0 L319.0,388.7 L321.7,390.1 L324.4,391.4 L329.8,395.5 L335.2,399.5 L341.9,403.6 L346.0,406.2 L352.7,411.0 L359.5,415.7 L366.2,420.1 L372.9,424.4 L379.6,427.8 L384.4,431.1 L386.4,430.5 L390.4,430.9 L394.5,431.8 L399.8,433.6 L403.9,435.9 L408.6,439.2 L409.5,433.8 L410.3,425.5" fill="none" stroke="#48a030" stroke-width="1.35" stroke-linejoin="round"/>
<rect x="283.40" y="442.00" width="1.30" height="19.60" fill="#1e1e1e"/>
<rect x="287.10" y="442.00" width="0.70" height="19.60" fill="#696969"/>
<rect x="292.10" y="442.00" width="1.40" height="19.60" fill="#696969"/>
<rect x="294.80" y="442.00" width="1.40" height="19.60" fill="#696969"/>
<rect x="298.80" y="442.00" width="1.40" height="19.60" fill="#1e1e1e"/>
<rect x="303.60" y="442.00" width="1.30" height="19.60" fill="#828282"/>
<rect x="306.20" y="442.00" width="0.80" height="19.60" fill="#ffffff"/>
<rect x="307.00" y="442.00" width="1.20" height="19.60" fill="#1e1e1e"/>
<rect x="308.20" y="442.00" width="0.60" height="19.60" fill="#9b9b9b"/>
<rect x="308.80" y="442.00" width="1.00" height="19.60" fill="#9b9b9b"/>
<rect x="309.80" y="442.00" width="1.00" height="19.60" fill="#505050"/>
<rect x="310.80" y="442.00" width="0.20" height="19.60" fill="#505050"/>
<rect x="313.00" y="442.00" width="1.30" height="19.60" fill="#696969"/>
<rect x="316.00" y="442.00" width="0.70" height="19.60" fill="#828282"/>
<rect x="321.00" y="442.00" width="1.40" height="19.60" fill="#696969"/>
<rect x="334.90" y="442.00" width="0.70" height="19.60" fill="#828282"/>
<rect x="337.90" y="442.00" width="1.30" height="19.60" fill="#696969"/>
<rect x="340.90" y="442.00" width="0.70" height="19.60" fill="#696969"/>
<rect x="346.30" y="442.00" width="1.70" height="19.60" fill="#373737"/>
<rect x="348.70" y="442.00" width="0.70" height="19.60" fill="#696969"/>
<rect x="352.40" y="442.00" width="0.60" height="19.60" fill="#828282"/>
<rect x="353.00" y="442.00" width="0.80" height="19.60" fill="#9b9b9b"/>
<rect x="353.80" y="442.00" width="1.00" height="19.60" fill="#b4b4b4"/>
<rect x="354.80" y="442.00" width="1.00" height="19.60" fill="#505050"/>
<rect x="355.80" y="442.00" width="0.60" height="19.60" fill="#828282"/>
<rect x="359.80" y="442.00" width="0.60" height="19.60" fill="#ffffff"/>
<rect x="360.40" y="442.00" width="1.00" height="19.60" fill="#696969"/>
<rect x="361.40" y="442.00" width="0.80" height="19.60" fill="#373737"/>
<rect x="362.20" y="442.00" width="0.30" height="19.60" fill="#373737"/>
<rect x="364.90" y="442.00" width="0.70" height="19.60" fill="#828282"/>
<rect x="371.90" y="442.00" width="2.00" height="19.60" fill="#696969"/>
<rect x="378.00" y="442.00" width="0.80" height="19.60" fill="#696969"/>
<rect x="378.80" y="442.00" width="0.60" height="19.60" fill="#ffffff"/>
<rect x="379.40" y="442.00" width="1.00" height="19.60" fill="#1e1e1e"/>
<rect x="380.40" y="442.00" width="0.30" height="19.60" fill="#ffffff"/>
<rect x="384.70" y="442.00" width="0.80" height="19.60" fill="#373737"/>
<rect x="385.50" y="442.00" width="1.00" height="19.60" fill="#505050"/>
<rect x="386.50" y="442.00" width="1.00" height="19.60" fill="#828282"/>
<rect x="387.50" y="442.00" width="0.60" height="19.60" fill="#cdcdcd"/>
<rect x="388.10" y="442.00" width="1.00" height="19.60" fill="#828282"/>
<rect x="389.10" y="442.00" width="0.30" height="19.60" fill="#828282"/>
<rect x="390.80" y="442.00" width="1.30" height="19.60" fill="#696969"/>
<rect x="393.80" y="442.00" width="0.70" height="19.60" fill="#828282"/>
<rect x="395.80" y="442.00" width="0.70" height="19.60" fill="#828282"/>
<rect x="398.50" y="442.00" width="0.70" height="19.60" fill="#828282"/>
<rect x="408.30" y="442.00" width="1.30" height="19.60" fill="#1e1e1e"/>
<defs><linearGradient id="g4" x1="0" x2="1" y1="0" y2="0"><stop offset="0" stop-color="#e22a3c"/><stop offset="0.27" stop-color="#e4323f"/><stop offset="0.30" stop-color="#e9505e"/><stop offset="0.42" stop-color="#ec5a6a"/><stop offset="0.445" stop-color="#f0a4bc"/><stop offset="0.53" stop-color="#f0b4cc"/><stop offset="0.56" stop-color="#dcd6f0"/><stop offset="0.72" stop-color="#c4c2ec"/><stop offset="0.74" stop-color="#6c6ac8"/><stop offset="0.82" stop-color="#5250bc"/><stop offset="0.84" stop-color="#2e2ca2"/><stop offset="1" stop-color="#201e92"/></linearGradient></defs>
<rect x="283.00" y="462.00" width="126.80" height="4.10" fill="url(#g4)"/>
<text x="283.5" y="468.9" font-size="3.2" text-anchor="start" font-weight="normal" fill="#d42020" textLength="40.0" lengthAdjust="spacingAndGlyphs">'High' (positively correlated)</text>
<path d="M283.0,485.8 L283.0,473.5 C284.3,479.0 288.4,481.1 299.2,482.4 C319.0,483.3 334.8,485.1 352.8,485.8 C375.3,486.8 384.6,489.2 397.2,491.0 C405.3,492.3 408.5,495.3 409.8,503.0 L409.8,485.8 Z" fill="#cbcbcb" stroke="#a8a8a8" stroke-width="0.35"/>
<line x1="283.00" y1="485.80" x2="415.80" y2="485.80" stroke="#bdbdbd" stroke-width="0.4"/>
<line x1="352.80" y1="467.00" x2="352.80" y2="506.00" stroke="#d0d0d0" stroke-width="0.4" stroke-dasharray="1,1"/>
<text x="341.1" y="486.6" font-size="3.0" text-anchor="start" font-weight="normal" fill="#1a1a1a" textLength="23.6" lengthAdjust="spacingAndGlyphs">Zero cross at 7366</text>
<text x="349.2" y="504.0" font-size="3.2" text-anchor="start" font-weight="normal" fill="#2838b0" textLength="39.9" lengthAdjust="spacingAndGlyphs">'Low' (negatively correlated)</text>
<text x="280.8" y="473.3" font-size="3.6" text-anchor="end" font-weight="bold" fill="#333">0.5</text>
<text x="280.8" y="480.3" font-size="3.6" text-anchor="end" font-weight="bold" fill="#333">0.25</text>
<text x="280.8" y="487.1" font-size="3.6" text-anchor="end" font-weight="bold" fill="#333">0.0</text>
<text x="280.8" y="494.0" font-size="3.6" text-anchor="end" font-weight="bold" fill="#333">-0.25</text>
<text x="280.8" y="500.8" font-size="3.6" text-anchor="end" font-weight="bold" fill="#333">-0.5</text>
<text x="283.0" y="510.6" font-size="3.7" text-anchor="middle" font-weight="bold" fill="#2a2a2a">0</text>
<text x="306.4" y="510.6" font-size="3.7" text-anchor="middle" font-weight="bold" fill="#2a2a2a">2,500</text>
<text x="329.7" y="510.6" font-size="3.7" text-anchor="middle" font-weight="bold" fill="#2a2a2a">5,000</text>
<text x="353.1" y="510.6" font-size="3.7" text-anchor="middle" font-weight="bold" fill="#2a2a2a">7,500</text>
<text x="376.4" y="510.6" font-size="3.7" text-anchor="middle" font-weight="bold" fill="#2a2a2a">10,000</text>
<text x="399.8" y="510.6" font-size="3.7" text-anchor="middle" font-weight="bold" fill="#2a2a2a">12,500</text>
<text x="325.1" y="515.3" font-size="4.0" text-anchor="start" font-weight="normal" fill="#1a1a1a" textLength="48.6" lengthAdjust="spacingAndGlyphs">Rank in Ordered Dataset</text>
<rect x="290.20" y="519.00" width="104.80" height="6.60" fill="#ffffff" stroke="#444" stroke-width="0.8"/>
<line x1="291.70" y1="522.30" x2="295.20" y2="522.30" stroke="#4e9c32" stroke-width="0.8"/>
<text x="295.7" y="523.5" font-size="3.4" text-anchor="start" font-weight="normal" fill="#222" textLength="32.5" lengthAdjust="spacingAndGlyphs">Enrichment profile</text>
<line x1="330.02" y1="522.30" x2="333.02" y2="522.30" stroke="#333" stroke-width="0.6"/>
<text x="333.5" y="523.5" font-size="3.4" text-anchor="start" font-weight="normal" fill="#222" textLength="8.9" lengthAdjust="spacingAndGlyphs">Hits</text>
<line x1="347.84" y1="522.30" x2="350.84" y2="522.30" stroke="#aaa" stroke-width="0.6"/>
<text x="352.0" y="523.5" font-size="3.4" text-anchor="start" font-weight="normal" fill="#222" textLength="40.3" lengthAdjust="spacingAndGlyphs">Ranking metric scores</text>
<rect x="134.90" y="594.60" width="168.60" height="159.40" fill="#EFEDE0"/>
<line x1="303.10" y1="594.60" x2="303.10" y2="754.00" stroke="#e2dfd2" stroke-width="0.8"/>
<text x="154.2" y="601.3" font-size="6.2" text-anchor="start" font-weight="bold" fill="#1a1a1a" textLength="129.1" lengthAdjust="spacingAndGlyphs">Enrichment plot: ALCALAY_AML_NPMC_UP</text>
<rect x="152.50" y="603.50" width="147.70" height="65.10" fill="#ffffff" stroke="#b8b8b8" stroke-width="0.6"/>
<rect x="152.50" y="670.00" width="147.70" height="71.00" fill="#ffffff" stroke="#b8b8b8" stroke-width="0.6"/>
<line x1="179.10" y1="603.50" x2="179.10" y2="668.60" stroke="#ececec" stroke-width="0.6"/>
<line x1="205.70" y1="603.50" x2="205.70" y2="668.60" stroke="#ececec" stroke-width="0.6"/>
<line x1="232.30" y1="603.50" x2="232.30" y2="668.60" stroke="#ececec" stroke-width="0.6"/>
<line x1="258.90" y1="603.50" x2="258.90" y2="668.60" stroke="#ececec" stroke-width="0.6"/>
<line x1="285.50" y1="603.50" x2="285.50" y2="668.60" stroke="#ececec" stroke-width="0.6"/>
<line x1="152.50" y1="663.50" x2="300.20" y2="663.50" stroke="#ececec" stroke-width="0.6"/>
<line x1="152.50" y1="652.70" x2="300.20" y2="652.70" stroke="#ececec" stroke-width="0.6"/>
<line x1="152.50" y1="641.90" x2="300.20" y2="641.90" stroke="#ececec" stroke-width="0.6"/>
<line x1="152.50" y1="631.10" x2="300.20" y2="631.10" stroke="#ececec" stroke-width="0.6"/>
<line x1="152.50" y1="620.30" x2="300.20" y2="620.30" stroke="#ececec" stroke-width="0.6"/>
<line x1="152.50" y1="609.50" x2="300.20" y2="609.50" stroke="#ececec" stroke-width="0.6"/>
<line x1="152.50" y1="663.50" x2="300.20" y2="663.50" stroke="#a0a0a0" stroke-width="0.7"/>
<text x="150.3" y="664.8" font-size="3.6" text-anchor="end" font-weight="bold" fill="#333">0.0</text>
<text x="150.3" y="654.0" font-size="3.6" text-anchor="end" font-weight="bold" fill="#333">0.1</text>
<text x="150.3" y="643.2" font-size="3.6" text-anchor="end" font-weight="bold" fill="#333">0.2</text>
<text x="150.3" y="632.4" font-size="3.6" text-anchor="end" font-weight="bold" fill="#333">0.3</text>
<text x="150.3" y="621.6" font-size="3.6" text-anchor="end" font-weight="bold" fill="#333">0.4</text>
<text x="150.3" y="610.8" font-size="3.6" text-anchor="end" font-weight="bold" fill="#333">0.5</text>
<text x="0" y="0" font-size="4.4" fill="#2a2a2a" textLength="42.3" lengthAdjust="spacingAndGlyphs" transform="translate(142.6,658.2) rotate(-90)">Enrichment score (ES)</text>
<text x="0" y="0" font-size="4.4" fill="#2a2a2a" textLength="61.0" lengthAdjust="spacingAndGlyphs" transform="translate(144.1,750.0) rotate(-90)">Ranked list metric (Signal2Noise)</text>
<path d="M152.6,663.3 L152.9,650.6 L153.6,642.0 L155.1,631.9 L156.5,624.6 L157.9,620.3 L160.1,616.7 L162.3,614.5 L165.2,613.8 L166.6,611.7 L168.0,608.8 L170.2,607.6 L173.1,609.1 L176.0,608.5 L179.6,607.8 L183.2,608.8 L187.5,609.5 L191.8,610.9 L199.1,614.5 L207.7,618.9 L216.4,624.6 L222.0,629.2 L229.7,635.3 L237.4,640.7 L245.8,646.8 L249.7,647.9 L258.9,653.8 L263.5,655.3 L266.6,657.6 L268.2,656.1 L271.2,657.2 L275.8,660.7 L281.2,664.2 L285.1,663.8 L287.4,665.3 L288.9,666.4 L290.9,663.8 L292.0,664.5 L293.5,663.3" fill="none" stroke="#48a030" stroke-width="1.35" stroke-linejoin="round"/>
<rect x="152.60" y="670.00" width="1.00" height="21.40" fill="#1e1e1e"/>
<rect x="153.60" y="670.00" width="0.60" height="21.40" fill="#1e1e1e"/>
<rect x="154.20" y="670.00" width="0.80" height="21.40" fill="#828282"/>
<rect x="155.00" y="670.00" width="0.60" height="21.40" fill="#1e1e1e"/>
<rect x="155.60" y="670.00" width="0.80" height="21.40" fill="#1e1e1e"/>
<rect x="156.40" y="670.00" width="0.80" height="21.40" fill="#828282"/>
<rect x="157.20" y="670.00" width="0.80" height="21.40" fill="#373737"/>
<rect x="158.00" y="670.00" width="1.20" height="21.40" fill="#828282"/>
<rect x="159.20" y="670.00" width="0.60" height="21.40" fill="#828282"/>
<rect x="159.80" y="670.00" width="1.20" height="21.40" fill="#828282"/>
<rect x="161.00" y="670.00" width="0.60" height="21.40" fill="#696969"/>
<rect x="161.60" y="670.00" width="0.80" height="21.40" fill="#828282"/>
<rect x="162.40" y="670.00" width="0.80" height="21.40" fill="#696969"/>
<rect x="163.20" y="670.00" width="0.80" height="21.40" fill="#373737"/>
<rect x="164.00" y="670.00" width="1.00" height="21.40" fill="#373737"/>
<rect x="165.00" y="670.00" width="0.80" height="21.40" fill="#ffffff"/>
<rect x="165.80" y="670.00" width="1.00" height="21.40" fill="#b4b4b4"/>
<rect x="166.80" y="670.00" width="1.00" height="21.40" fill="#9b9b9b"/>
<rect x="167.80" y="670.00" width="1.00" height="21.40" fill="#1e1e1e"/>
<rect x="168.80" y="670.00" width="0.80" height="21.40" fill="#1e1e1e"/>
<rect x="169.60" y="670.00" width="0.80" height="21.40" fill="#b4b4b4"/>
<rect x="170.40" y="670.00" width="0.60" height="21.40" fill="#505050"/>
<rect x="171.00" y="670.00" width="0.40" height="21.40" fill="#373737"/>
<rect x="172.40" y="670.00" width="0.60" height="21.40" fill="#ffffff"/>
<rect x="173.00" y="670.00" width="0.80" height="21.40" fill="#ffffff"/>
<rect x="173.80" y="670.00" width="0.80" height="21.40" fill="#1e1e1e"/>
<rect x="174.60" y="670.00" width="1.00" height="21.40" fill="#696969"/>
<rect x="175.60" y="670.00" width="0.60" height="21.40" fill="#505050"/>
<rect x="176.20" y="670.00" width="0.60" height="21.40" fill="#373737"/>
<rect x="176.80" y="670.00" width="0.60" height="21.40" fill="#696969"/>
<rect x="177.40" y="670.00" width="1.00" height="21.40" fill="#828282"/>
<rect x="178.40" y="670.00" width="0.60" height="21.40" fill="#696969"/>
<rect x="179.00" y="670.00" width="1.00" height="21.40" fill="#828282"/>
<rect x="180.00" y="670.00" width="0.10" height="21.40" fill="#696969"/>
<rect x="181.10" y="670.00" width="0.80" height="21.40" fill="#ffffff"/>
<rect x="181.90" y="670.00" width="1.20" height="21.40" fill="#b4b4b4"/>
<rect x="183.10" y="670.00" width="0.60" height="21.40" fill="#696969"/>
<rect x="184.70" y="670.00" width="1.20" height="21.40" fill="#ffffff"/>
<rect x="185.90" y="670.00" width="0.60" height="21.40" fill="#373737"/>
<rect x="186.50" y="670.00" width="0.80" height="21.40" fill="#9b9b9b"/>
<rect x="187.30" y="670.00" width="0.80" height="21.40" fill="#ffffff"/>
<rect x="188.10" y="670.00" width="0.60" height="21.40" fill="#696969"/>
<rect x="189.70" y="670.00" width="1.20" height="21.40" fill="#828282"/>
<rect x="190.90" y="670.00" width="0.80" height="21.40" fill="#373737"/>
<rect x="191.70" y="670.00" width="1.00" height="21.40" fill="#373737"/>
<rect x="192.70" y="670.00" width="1.20" height="21.40" fill="#505050"/>
<rect x="193.90" y="670.00" width="0.60" height="21.40" fill="#505050"/>
<rect x="194.50" y="670.00" width="0.80" height="21.40" fill="#373737"/>
<rect x="195.30" y="670.00" width="0.80" height="21.40" fill="#b4b4b4"/>
<rect x="196.10" y="670.00" width="1.00" height="21.40" fill="#b4b4b4"/>
<rect x="197.10" y="670.00" width="1.00" height="21.40" fill="#cdcdcd"/>
<rect x="198.10" y="670.00" width="1.00" height="21.40" fill="#828282"/>
<rect x="199.10" y="670.00" width="0.50" height="21.40" fill="#828282"/>
<rect x="200.60" y="670.00" width="1.00" height="21.40" fill="#9b9b9b"/>
<rect x="201.60" y="670.00" width="0.60" height="21.40" fill="#373737"/>
<rect x="202.20" y="670.00" width="1.00" height="21.40" fill="#696969"/>
<rect x="203.20" y="670.00" width="1.20" height="21.40" fill="#828282"/>
<rect x="204.40" y="670.00" width="1.00" height="21.40" fill="#696969"/>
<rect x="205.40" y="670.00" width="1.00" height="21.40" fill="#505050"/>
<rect x="206.40" y="670.00" width="0.80" height="21.40" fill="#373737"/>
<rect x="207.20" y="670.00" width="1.00" height="21.40" fill="#9b9b9b"/>
<rect x="211.00" y="670.00" width="0.80" height="21.40" fill="#828282"/>
<rect x="211.80" y="670.00" width="1.20" height="21.40" fill="#828282"/>
<rect x="213.00" y="670.00" width="1.00" height="21.40" fill="#9b9b9b"/>
<rect x="215.00" y="670.00" width="1.20" height="21.40" fill="#828282"/>
<rect x="216.20" y="670.00" width="1.00" height="21.40" fill="#cdcdcd"/>
<rect x="217.20" y="670.00" width="1.10" height="21.40" fill="#9b9b9b"/>
<rect x="219.30" y="670.00" width="0.80" height="21.40" fill="#e6e6e6"/>
<rect x="220.10" y="670.00" width="0.80" height="21.40" fill="#ffffff"/>
<rect x="220.90" y="670.00" width="0.80" height="21.40" fill="#cdcdcd"/>
<rect x="221.70" y="670.00" width="0.80" height="21.40" fill="#505050"/>
<rect x="222.50" y="670.00" width="0.60" height="21.40" fill="#696969"/>
<rect x="223.10" y="670.00" width="1.20" height="21.40" fill="#cdcdcd"/>
<rect x="224.30" y="670.00" width="0.80" height="21.40" fill="#ffffff"/>
<rect x="225.10" y="670.00" width="1.20" height="21.40" fill="#9b9b9b"/>
<rect x="226.30" y="670.00" width="0.60" height="21.40" fill="#828282"/>
<rect x="226.90" y="670.00" width="0.90" height="21.40" fill="#cdcdcd"/>
<rect x="229.90" y="670.00" width="0.80" height="21.40" fill="#1e1e1e"/>
<rect x="233.50" y="670.00" width="1.00" height="21.40" fill="#828282"/>
<rect x="234.50" y="670.00" width="0.80" height="21.40" fill="#505050"/>
<rect x="235.30" y="670.00" width="1.00" height="21.40" fill="#373737"/>
<rect x="236.30" y="670.00" width="1.20" height="21.40" fill="#373737"/>
<rect x="237.50" y="670.00" width="0.80" height="21.40" fill="#b4b4b4"/>
<rect x="238.30" y="670.00" width="0.60" height="21.40" fill="#ffffff"/>
<rect x="238.90" y="670.00" width="0.80" height="21.40" fill="#696969"/>
<rect x="239.70" y="670.00" width="1.10" height="21.40" fill="#505050"/>
<rect x="243.30" y="670.00" width="0.70" height="21.40" fill="#696969"/>
<rect x="247.20" y="670.00" width="1.50" height="21.40" fill="#1e1e1e"/>
<rect x="250.90" y="670.00" width="2.10" height="21.40" fill="#828282"/>
<rect x="258.00" y="670.00" width="0.80" height="21.40" fill="#505050"/>
<rect x="258.80" y="670.00" width="1.20" height="21.40" fill="#696969"/>
<rect x="260.00" y="670.00" width="0.80" height="21.40" fill="#9b9b9b"/>
<rect x="260.80" y="670.00" width="1.00" height="21.40" fill="#505050"/>
<rect x="261.80" y="670.00" width="0.60" height="21.40" fill="#828282"/>
<rect x="262.40" y="670.00" width="1.00" height="21.40" fill="#505050"/>
<rect x="263.40" y="670.00" width="0.40" height="21.40" fill="#ffffff"/>
<rect x="266.70" y="670.00" width="1.50" height="21.40" fill="#1e1e1e"/>
<rect x="270.00" y="670.00" width="0.70" height="21.40" fill="#828282"/>
<rect x="273.60" y="670.00" width="0.70" height="21.40" fill="#828282"/>
<rect x="281.20" y="670.00" width="1.20" height="21.40" fill="#828282"/>
<rect x="282.40" y="670.00" width="0.80" height="21.40" fill="#ffffff"/>
<rect x="283.20" y="670.00" width="0.80" height="21.40" fill="#828282"/>
<rect x="288.10" y="670.00" width="0.70" height="21.40" fill="#696969"/>
<rect x="289.80" y="670.00" width="1.50" height="21.40" fill="#505050"/>
<defs><linearGradient id="g5" x1="0" x2="1" y1="0" y2="0"><stop offset="0" stop-color="#e22a3c"/><stop offset="0.27" stop-color="#e4323f"/><stop offset="0.30" stop-color="#e9505e"/><stop offset="0.42" stop-color="#ec5a6a"/><stop offset="0.445" stop-color="#f0a4bc"/><stop offset="0.53" stop-color="#f0b4cc"/><stop offset="0.56" stop-color="#dcd6f0"/><stop offset="0.72" stop-color="#c4c2ec"/><stop offset="0.74" stop-color="#6c6ac8"/><stop offset="0.82" stop-color="#5250bc"/><stop offset="0.84" stop-color="#2e2ca2"/><stop offset="1" stop-color="#201e92"/></linearGradient></defs>
<rect x="152.50" y="691.80" width="140.90" height="5.20" fill="url(#g5)"/>
<text x="153.0" y="699.8" font-size="3.2" text-anchor="start" font-weight="normal" fill="#d42020" textLength="44.5" lengthAdjust="spacingAndGlyphs">'High' (positively correlated)</text>
<path d="M152.5,720.6 L152.5,705.0 C154.0,712.0 158.5,714.7 170.5,716.2 C192.5,717.5 210.0,719.7 230.0,720.6 C255.0,721.5 265.4,723.7 279.4,725.2 C288.4,726.5 291.9,729.1 293.4,736.0 L293.4,720.6 Z" fill="#cbcbcb" stroke="#a8a8a8" stroke-width="0.35"/>
<line x1="152.50" y1="720.60" x2="300.20" y2="720.60" stroke="#bdbdbd" stroke-width="0.4"/>
<line x1="230.00" y1="697.50" x2="230.00" y2="741.00" stroke="#d0d0d0" stroke-width="0.4" stroke-dasharray="1,1"/>
<text x="217.0" y="721.4" font-size="3.0" text-anchor="start" font-weight="normal" fill="#1a1a1a" textLength="26.2" lengthAdjust="spacingAndGlyphs">Zero cross at 7366</text>
<text x="226.0" y="738.8" font-size="3.2" text-anchor="start" font-weight="normal" fill="#2838b0" textLength="44.4" lengthAdjust="spacingAndGlyphs">'Low' (negatively correlated)</text>
<text x="150.3" y="705.3" font-size="3.6" text-anchor="end" font-weight="bold" fill="#333">2</text>
<text x="150.3" y="713.6" font-size="3.6" text-anchor="end" font-weight="bold" fill="#333">1</text>
<text x="150.3" y="721.9" font-size="3.6" text-anchor="end" font-weight="bold" fill="#333">0</text>
<text x="150.3" y="730.3" font-size="3.6" text-anchor="end" font-weight="bold" fill="#333">-1</text>
<text x="150.3" y="738.6" font-size="3.6" text-anchor="end" font-weight="bold" fill="#333">-2</text>
<text x="152.5" y="745.6" font-size="3.7" text-anchor="middle" font-weight="bold" fill="#2a2a2a">0</text>
<text x="179.1" y="745.6" font-size="3.7" text-anchor="middle" font-weight="bold" fill="#2a2a2a">2,500</text>
<text x="205.7" y="745.6" font-size="3.7" text-anchor="middle" font-weight="bold" fill="#2a2a2a">5,000</text>
<text x="232.3" y="745.6" font-size="3.7" text-anchor="middle" font-weight="bold" fill="#2a2a2a">7,500</text>
<text x="258.9" y="745.6" font-size="3.7" text-anchor="middle" font-weight="bold" fill="#2a2a2a">10,000</text>
<text x="285.5" y="745.6" font-size="3.7" text-anchor="middle" font-weight="bold" fill="#2a2a2a">12,500</text>
<text x="199.3" y="752.0" font-size="4.0" text-anchor="start" font-weight="normal" fill="#1a1a1a" textLength="54.0" lengthAdjust="spacingAndGlyphs">Rank in Ordered Dataset</text>
<rect x="152.50" y="702.50" width="6.90" height="1.70" fill="#111"/>
<text x="161.2" y="713.0" font-size="10.4" text-anchor="start" font-weight="normal" fill="#151515" textLength="32.1" lengthAdjust="spacingAndGlyphs" stroke="#151515" stroke-width="0.22">Top 30</text>
<rect x="335.00" y="594.60" width="168.80" height="159.00" fill="#EFEDE0"/>
<line x1="503.40" y1="594.60" x2="503.40" y2="753.60" stroke="#e2dfd2" stroke-width="0.8"/>
<text x="354.2" y="601.3" font-size="6.2" text-anchor="start" font-weight="bold" fill="#1a1a1a" textLength="129.6" lengthAdjust="spacingAndGlyphs">Enrichment plot: ALCALAY_AML_NPMC_DN</text>
<rect x="352.80" y="604.20" width="147.80" height="64.60" fill="#ffffff" stroke="#b8b8b8" stroke-width="0.6"/>
<rect x="352.80" y="669.80" width="147.80" height="71.20" fill="#ffffff" stroke="#b8b8b8" stroke-width="0.6"/>
<line x1="379.30" y1="604.20" x2="379.30" y2="668.80" stroke="#ececec" stroke-width="0.6"/>
<line x1="405.80" y1="604.20" x2="405.80" y2="668.80" stroke="#ececec" stroke-width="0.6"/>
<line x1="432.30" y1="604.20" x2="432.30" y2="668.80" stroke="#ececec" stroke-width="0.6"/>
<line x1="458.80" y1="604.20" x2="458.80" y2="668.80" stroke="#ececec" stroke-width="0.6"/>
<line x1="485.30" y1="604.20" x2="485.30" y2="668.80" stroke="#ececec" stroke-width="0.6"/>
<line x1="352.80" y1="611.90" x2="500.60" y2="611.90" stroke="#ececec" stroke-width="0.6"/>
<line x1="352.80" y1="621.10" x2="500.60" y2="621.10" stroke="#ececec" stroke-width="0.6"/>
<line x1="352.80" y1="630.30" x2="500.60" y2="630.30" stroke="#ececec" stroke-width="0.6"/>
<line x1="352.80" y1="639.50" x2="500.60" y2="639.50" stroke="#ececec" stroke-width="0.6"/>
<line x1="352.80" y1="648.70" x2="500.60" y2="648.70" stroke="#ececec" stroke-width="0.6"/>
<line x1="352.80" y1="657.90" x2="500.60" y2="657.90" stroke="#ececec" stroke-width="0.6"/>
<line x1="352.80" y1="667.10" x2="500.60" y2="667.10" stroke="#ececec" stroke-width="0.6"/>
<line x1="352.80" y1="611.90" x2="500.60" y2="611.90" stroke="#a0a0a0" stroke-width="0.7"/>
<text x="350.6" y="613.2" font-size="3.6" text-anchor="end" font-weight="bold" fill="#333">0.0</text>
<text x="350.6" y="622.4" font-size="3.6" text-anchor="end" font-weight="bold" fill="#333">-0.1</text>
<text x="350.6" y="631.6" font-size="3.6" text-anchor="end" font-weight="bold" fill="#333">-0.2</text>
<text x="350.6" y="640.8" font-size="3.6" text-anchor="end" font-weight="bold" fill="#333">-0.3</text>
<text x="350.6" y="650.0" font-size="3.6" text-anchor="end" font-weight="bold" fill="#333">-0.4</text>
<text x="350.6" y="659.2" font-size="3.6" text-anchor="end" font-weight="bold" fill="#333">-0.5</text>
<text x="350.6" y="668.4" font-size="3.6" text-anchor="end" font-weight="bold" fill="#333">-0.6</text>
<text x="0" y="0" font-size="4.4" fill="#2a2a2a" textLength="41.4" lengthAdjust="spacingAndGlyphs" transform="translate(342.6,658.2) rotate(-90)">Enrichment score (ES)</text>
<text x="0" y="0" font-size="4.4" fill="#2a2a2a" textLength="62.0" lengthAdjust="spacingAndGlyphs" transform="translate(345.3,750.0) rotate(-90)">Ranked list metric (Signal2Noise)</text>
<path d="M353.2,611.9 L354.3,609.5 L356.5,607.6 L358.7,608.5 L360.8,607.0 L363.0,608.1 L365.9,609.9 L370.2,612.4 L374.5,615.3 L378.9,616.7 L382.5,617.4 L387.5,620.3 L396.2,625.4 L404.8,630.4 L414.9,636.2 L422.0,640.7 L429.7,646.1 L437.4,650.7 L445.1,655.3 L452.8,659.2 L460.5,662.2 L465.8,664.5 L468.2,664.2 L472.0,666.1 L475.1,664.2 L478.9,664.8 L482.0,662.2 L484.3,662.2 L486.6,658.4 L488.9,653.8 L490.9,646.1 L492.0,633.8 L493.1,621.5 L493.7,611.9" fill="none" stroke="#48a030" stroke-width="1.35" stroke-linejoin="round"/>
<rect x="353.60" y="669.80" width="0.60" height="21.40" fill="#373737"/>
<rect x="354.20" y="669.80" width="0.60" height="21.40" fill="#cdcdcd"/>
<rect x="354.80" y="669.80" width="1.20" height="21.40" fill="#696969"/>
<rect x="356.00" y="669.80" width="0.50" height="21.40" fill="#828282"/>
<rect x="359.40" y="669.80" width="1.40" height="21.40" fill="#1e1e1e"/>
<rect x="367.80" y="669.80" width="0.80" height="21.40" fill="#696969"/>
<rect x="372.40" y="669.80" width="1.40" height="21.40" fill="#696969"/>
<rect x="376.70" y="669.80" width="0.80" height="21.40" fill="#1e1e1e"/>
<rect x="377.50" y="669.80" width="0.60" height="21.40" fill="#505050"/>
<rect x="378.10" y="669.80" width="1.00" height="21.40" fill="#828282"/>
<rect x="379.10" y="669.80" width="1.00" height="21.40" fill="#828282"/>
<rect x="380.10" y="669.80" width="0.90" height="21.40" fill="#505050"/>
<rect x="384.60" y="669.80" width="1.40" height="21.40" fill="#696969"/>
<rect x="388.20" y="669.80" width="1.50" height="21.40" fill="#828282"/>
<rect x="393.30" y="669.80" width="1.40" height="21.40" fill="#696969"/>
<rect x="396.90" y="669.80" width="1.40" height="21.40" fill="#505050"/>
<rect x="408.40" y="669.80" width="0.60" height="21.40" fill="#828282"/>
<rect x="409.00" y="669.80" width="1.00" height="21.40" fill="#b4b4b4"/>
<rect x="410.00" y="669.80" width="0.80" height="21.40" fill="#696969"/>
<rect x="410.80" y="669.80" width="0.80" height="21.40" fill="#cdcdcd"/>
<rect x="411.60" y="669.80" width="0.40" height="21.40" fill="#505050"/>
<rect x="413.50" y="669.80" width="0.60" height="21.40" fill="#828282"/>
<rect x="414.10" y="669.80" width="0.80" height="21.40" fill="#828282"/>
<rect x="414.90" y="669.80" width="1.00" height="21.40" fill="#505050"/>
<rect x="415.90" y="669.80" width="1.20" height="21.40" fill="#1e1e1e"/>
<rect x="417.10" y="669.80" width="0.80" height="21.40" fill="#9b9b9b"/>
<rect x="417.90" y="669.80" width="0.80" height="21.40" fill="#9b9b9b"/>
<rect x="418.70" y="669.80" width="1.00" height="21.40" fill="#373737"/>
<rect x="419.70" y="669.80" width="1.20" height="21.40" fill="#505050"/>
<rect x="420.90" y="669.80" width="1.20" height="21.40" fill="#9b9b9b"/>
<rect x="422.10" y="669.80" width="1.20" height="21.40" fill="#828282"/>
<rect x="423.30" y="669.80" width="0.80" height="21.40" fill="#828282"/>
<rect x="424.10" y="669.80" width="0.80" height="21.40" fill="#1e1e1e"/>
<rect x="425.90" y="669.80" width="1.20" height="21.40" fill="#9b9b9b"/>
<rect x="427.10" y="669.80" width="1.20" height="21.40" fill="#696969"/>
<rect x="428.30" y="669.80" width="1.20" height="21.40" fill="#9b9b9b"/>
<rect x="429.50" y="669.80" width="1.00" height="21.40" fill="#1e1e1e"/>
<rect x="430.50" y="669.80" width="0.10" height="21.40" fill="#ffffff"/>
<rect x="431.60" y="669.80" width="0.60" height="21.40" fill="#696969"/>
<rect x="432.20" y="669.80" width="1.00" height="21.40" fill="#696969"/>
<rect x="433.20" y="669.80" width="1.20" height="21.40" fill="#505050"/>
<rect x="434.40" y="669.80" width="1.00" height="21.40" fill="#373737"/>
<rect x="435.40" y="669.80" width="1.00" height="21.40" fill="#1e1e1e"/>
<rect x="437.40" y="669.80" width="1.20" height="21.40" fill="#1e1e1e"/>
<rect x="438.60" y="669.80" width="1.20" height="21.40" fill="#1e1e1e"/>
<rect x="439.80" y="669.80" width="0.20" height="21.40" fill="#505050"/>
<rect x="441.00" y="669.80" width="0.80" height="21.40" fill="#373737"/>
<rect x="441.80" y="669.80" width="1.00" height="21.40" fill="#505050"/>
<rect x="442.80" y="669.80" width="1.20" height="21.40" fill="#828282"/>
<rect x="444.00" y="669.80" width="1.00" height="21.40" fill="#b4b4b4"/>
<rect x="445.00" y="669.80" width="0.60" height="21.40" fill="#ffffff"/>
<rect x="445.60" y="669.80" width="0.60" height="21.40" fill="#505050"/>
<rect x="446.20" y="669.80" width="1.00" height="21.40" fill="#b4b4b4"/>
<rect x="448.20" y="669.80" width="0.80" height="21.40" fill="#696969"/>
<rect x="449.00" y="669.80" width="1.20" height="21.40" fill="#ffffff"/>
<rect x="450.20" y="669.80" width="0.80" height="21.40" fill="#9b9b9b"/>
<rect x="451.00" y="669.80" width="0.80" height="21.40" fill="#696969"/>
<rect x="451.80" y="669.80" width="0.80" height="21.40" fill="#b4b4b4"/>
<rect x="452.60" y="669.80" width="0.60" height="21.40" fill="#ffffff"/>
<rect x="453.20" y="669.80" width="1.20" height="21.40" fill="#1e1e1e"/>
<rect x="454.40" y="669.80" width="0.60" height="21.40" fill="#b4b4b4"/>
<rect x="455.00" y="669.80" width="0.80" height="21.40" fill="#9b9b9b"/>
<rect x="455.80" y="669.80" width="1.00" height="21.40" fill="#1e1e1e"/>
<rect x="456.80" y="669.80" width="0.60" height="21.40" fill="#828282"/>
<rect x="457.40" y="669.80" width="0.80" height="21.40" fill="#1e1e1e"/>
<rect x="458.20" y="669.80" width="0.50" height="21.40" fill="#1e1e1e"/>
<rect x="459.70" y="669.80" width="1.20" height="21.40" fill="#9b9b9b"/>
<rect x="460.90" y="669.80" width="1.00" height="21.40" fill="#505050"/>
<rect x="461.90" y="669.80" width="0.60" height="21.40" fill="#9b9b9b"/>
<rect x="462.50" y="669.80" width="1.00" height="21.40" fill="#696969"/>
<rect x="463.50" y="669.80" width="1.20" height="21.40" fill="#373737"/>
<rect x="464.70" y="669.80" width="0.50" height="21.40" fill="#b4b4b4"/>
<rect x="466.20" y="669.80" width="0.80" height="21.40" fill="#696969"/>
<rect x="467.00" y="669.80" width="0.60" height="21.40" fill="#828282"/>
<rect x="467.60" y="669.80" width="0.60" height="21.40" fill="#b4b4b4"/>
<rect x="468.20" y="669.80" width="0.80" height="21.40" fill="#373737"/>
<rect x="469.00" y="669.80" width="0.60" height="21.40" fill="#828282"/>
<rect x="469.60" y="669.80" width="0.60" height="21.40" fill="#373737"/>
<rect x="470.20" y="669.80" width="0.80" height="21.40" fill="#1e1e1e"/>
<rect x="472.00" y="669.80" width="0.80" height="21.40" fill="#9b9b9b"/>
<rect x="472.80" y="669.80" width="0.60" height="21.40" fill="#828282"/>
<rect x="473.40" y="669.80" width="0.80" height="21.40" fill="#828282"/>
<rect x="474.20" y="669.80" width="0.80" height="21.40" fill="#373737"/>
<rect x="475.00" y="669.80" width="0.80" height="21.40" fill="#828282"/>
<rect x="475.80" y="669.80" width="0.80" height="21.40" fill="#505050"/>
<rect x="476.60" y="669.80" width="0.10" height="21.40" fill="#373737"/>
<rect x="477.70" y="669.80" width="1.00" height="21.40" fill="#373737"/>
<rect x="478.70" y="669.80" width="0.60" height="21.40" fill="#373737"/>
<rect x="479.30" y="669.80" width="0.80" height="21.40" fill="#696969"/>
<rect x="480.10" y="669.80" width="1.00" height="21.40" fill="#696969"/>
<rect x="481.10" y="669.80" width="0.80" height="21.40" fill="#828282"/>
<rect x="481.90" y="669.80" width="0.10" height="21.40" fill="#ffffff"/>
<rect x="483.00" y="669.80" width="0.60" height="21.40" fill="#b4b4b4"/>
<rect x="483.60" y="669.80" width="0.60" height="21.40" fill="#9b9b9b"/>
<rect x="484.20" y="669.80" width="0.60" height="21.40" fill="#505050"/>
<rect x="484.80" y="669.80" width="0.60" height="21.40" fill="#696969"/>
<rect x="485.40" y="669.80" width="0.80" height="21.40" fill="#ffffff"/>
<rect x="486.20" y="669.80" width="0.60" height="21.40" fill="#b4b4b4"/>
<rect x="486.80" y="669.80" width="1.20" height="21.40" fill="#9b9b9b"/>
<rect x="488.00" y="669.80" width="0.80" height="21.40" fill="#b4b4b4"/>
<rect x="488.80" y="669.80" width="0.60" height="21.40" fill="#373737"/>
<rect x="489.40" y="669.80" width="0.60" height="21.40" fill="#696969"/>
<rect x="490.00" y="669.80" width="4.00" height="21.40" fill="#1e1e1e"/>
<defs><linearGradient id="g6" x1="0" x2="1" y1="0" y2="0"><stop offset="0" stop-color="#e22a3c"/><stop offset="0.27" stop-color="#e4323f"/><stop offset="0.30" stop-color="#e9505e"/><stop offset="0.42" stop-color="#ec5a6a"/><stop offset="0.445" stop-color="#f0a4bc"/><stop offset="0.53" stop-color="#f0b4cc"/><stop offset="0.56" stop-color="#dcd6f0"/><stop offset="0.72" stop-color="#c4c2ec"/><stop offset="0.74" stop-color="#6c6ac8"/><stop offset="0.82" stop-color="#5250bc"/><stop offset="0.84" stop-color="#2e2ca2"/><stop offset="1" stop-color="#201e92"/></linearGradient></defs>
<rect x="352.80" y="691.40" width="139.90" height="5.60" fill="url(#g6)"/>
<text x="353.3" y="699.8" font-size="3.2" text-anchor="start" font-weight="normal" fill="#d42020" textLength="44.6" lengthAdjust="spacingAndGlyphs">'High' (positively correlated)</text>
<path d="M352.8,719.5 L352.8,707.0 C354.3,712.6 358.8,714.8 370.8,716.0 C392.9,717.0 412.0,718.8 432.0,719.5 C457.0,720.5 464.7,722.8 478.7,724.5 C487.7,725.8 491.2,728.6 492.7,736.0 L492.7,719.5 Z" fill="#cbcbcb" stroke="#a8a8a8" stroke-width="0.35"/>
<line x1="352.80" y1="719.50" x2="500.60" y2="719.50" stroke="#bdbdbd" stroke-width="0.4"/>
<line x1="432.00" y1="697.50" x2="432.00" y2="741.00" stroke="#d0d0d0" stroke-width="0.4" stroke-dasharray="1,1"/>
<text x="419.0" y="720.3" font-size="3.0" text-anchor="start" font-weight="normal" fill="#1a1a1a" textLength="26.2" lengthAdjust="spacingAndGlyphs">Zero cross at 7366</text>
<text x="428.0" y="738.8" font-size="3.2" text-anchor="start" font-weight="normal" fill="#2838b0" textLength="44.5" lengthAdjust="spacingAndGlyphs">'Low' (negatively correlated)</text>
<text x="350.6" y="704.3" font-size="3.6" text-anchor="end" font-weight="bold" fill="#333">2</text>
<text x="350.6" y="712.6" font-size="3.6" text-anchor="end" font-weight="bold" fill="#333">1</text>
<text x="350.6" y="720.8" font-size="3.6" text-anchor="end" font-weight="bold" fill="#333">0</text>
<text x="350.6" y="729.3" font-size="3.6" text-anchor="end" font-weight="bold" fill="#333">-1</text>
<text x="350.6" y="737.6" font-size="3.6" text-anchor="end" font-weight="bold" fill="#333">-2</text>
<text x="352.8" y="745.6" font-size="3.7" text-anchor="middle" font-weight="bold" fill="#2a2a2a">0</text>
<text x="379.3" y="745.6" font-size="3.7" text-anchor="middle" font-weight="bold" fill="#2a2a2a">2,500</text>
<text x="405.8" y="745.6" font-size="3.7" text-anchor="middle" font-weight="bold" fill="#2a2a2a">5,000</text>
<text x="432.3" y="745.6" font-size="3.7" text-anchor="middle" font-weight="bold" fill="#2a2a2a">7,500</text>
<text x="458.8" y="745.6" font-size="3.7" text-anchor="middle" font-weight="bold" fill="#2a2a2a">10,000</text>
<text x="485.3" y="745.6" font-size="3.7" text-anchor="middle" font-weight="bold" fill="#2a2a2a">12,500</text>
<text x="399.7" y="751.2" font-size="4.0" text-anchor="start" font-weight="normal" fill="#1a1a1a" textLength="54.1" lengthAdjust="spacingAndGlyphs">Rank in Ordered Dataset</text>
<text x="440.0" y="712.6" font-size="10.4" text-anchor="start" font-weight="normal" fill="#151515" textLength="49.9" lengthAdjust="spacingAndGlyphs" stroke="#151515" stroke-width="0.22">Bottom 30</text>
<rect x="135.80" y="229.90" width="168.30" height="72.70" fill="#141238"/>
<rect x="136.35" y="230.45" width="4.51" height="4.49" fill="#382cab"/>
<rect x="141.96" y="230.45" width="4.51" height="4.49" fill="#382cab"/>
<rect x="147.57" y="230.45" width="4.51" height="4.49" fill="#aaaae4"/>
<rect x="153.18" y="230.45" width="4.51" height="4.49" fill="#3529a6"/>
<rect x="158.79" y="230.45" width="4.51" height="4.49" fill="#2c33a0"/>
<rect x="164.40" y="230.45" width="4.51" height="4.49" fill="#3529a6"/>
<rect x="170.01" y="230.45" width="4.51" height="4.49" fill="#3a42b2"/>
<rect x="175.62" y="230.45" width="4.51" height="4.49" fill="#3529a6"/>
<rect x="181.23" y="230.45" width="4.51" height="4.49" fill="#3529a6"/>
<rect x="186.84" y="230.45" width="4.51" height="4.49" fill="#3529a6"/>
<rect x="192.45" y="230.45" width="4.51" height="4.49" fill="#3028a0"/>
<rect x="198.06" y="230.45" width="4.51" height="4.49" fill="#6a6cca"/>
<rect x="203.67" y="230.45" width="4.51" height="4.49" fill="#6a6cca"/>
<rect x="209.28" y="230.45" width="4.51" height="4.49" fill="#ee8890"/>
<rect x="214.89" y="230.45" width="4.51" height="4.49" fill="#aaaae4"/>
<rect x="220.50" y="230.45" width="4.51" height="4.49" fill="#2d2ea2"/>
<rect x="226.11" y="230.45" width="4.51" height="4.49" fill="#f4e6f0"/>
<rect x="231.72" y="230.45" width="4.51" height="4.49" fill="#382cab"/>
<rect x="237.33" y="230.45" width="4.51" height="4.49" fill="#ee8890"/>
<rect x="242.94" y="230.45" width="4.51" height="4.49" fill="#3a42b2"/>
<rect x="248.55" y="230.45" width="4.51" height="4.49" fill="#ee8890"/>
<rect x="254.16" y="230.45" width="4.51" height="4.49" fill="#6a6cca"/>
<rect x="259.77" y="230.45" width="4.51" height="4.49" fill="#6a6cca"/>
<rect x="265.38" y="230.45" width="4.51" height="4.49" fill="#f4e6f0"/>
<rect x="270.99" y="230.45" width="4.51" height="4.49" fill="#2c33a0"/>
<rect x="276.60" y="230.45" width="4.51" height="4.49" fill="#ee8890"/>
<rect x="282.21" y="230.45" width="4.51" height="4.49" fill="#f4e6f0"/>
<rect x="287.82" y="230.45" width="4.51" height="4.49" fill="#2c33a0"/>
<rect x="293.43" y="230.45" width="4.51" height="4.49" fill="#3028a0"/>
<rect x="299.04" y="230.45" width="4.51" height="4.49" fill="#2c33a0"/>
<rect x="136.35" y="236.04" width="4.51" height="4.49" fill="#6a6cca"/>
<rect x="141.96" y="236.04" width="4.51" height="4.49" fill="#f4c0c8"/>
<rect x="147.57" y="236.04" width="4.51" height="4.49" fill="#6a6cca"/>
<rect x="153.18" y="236.04" width="4.51" height="4.49" fill="#382cab"/>
<rect x="158.79" y="236.04" width="4.51" height="4.49" fill="#6a6cca"/>
<rect x="164.40" y="236.04" width="4.51" height="4.49" fill="#3a42b2"/>
<rect x="170.01" y="236.04" width="4.51" height="4.49" fill="#f4e6f0"/>
<rect x="175.62" y="236.04" width="4.51" height="4.49" fill="#f4e6f0"/>
<rect x="181.23" y="236.04" width="4.51" height="4.49" fill="#f4e6f0"/>
<rect x="186.84" y="236.04" width="4.51" height="4.49" fill="#f4e6f0"/>
<rect x="192.45" y="236.04" width="4.51" height="4.49" fill="#f4e6f0"/>
<rect x="198.06" y="236.04" width="4.51" height="4.49" fill="#f4e6f0"/>
<rect x="203.67" y="236.04" width="4.51" height="4.49" fill="#e0282e"/>
<rect x="209.28" y="236.04" width="4.51" height="4.49" fill="#3a42b2"/>
<rect x="214.89" y="236.04" width="4.51" height="4.49" fill="#e0282e"/>
<rect x="220.50" y="236.04" width="4.51" height="4.49" fill="#3529a6"/>
<rect x="226.11" y="236.04" width="4.51" height="4.49" fill="#f4e6f0"/>
<rect x="231.72" y="236.04" width="4.51" height="4.49" fill="#e0282e"/>
<rect x="237.33" y="236.04" width="4.51" height="4.49" fill="#e0282e"/>
<rect x="242.94" y="236.04" width="4.51" height="4.49" fill="#e0282e"/>
<rect x="248.55" y="236.04" width="4.51" height="4.49" fill="#3a42b2"/>
<rect x="254.16" y="236.04" width="4.51" height="4.49" fill="#6a6cca"/>
<rect x="259.77" y="236.04" width="4.51" height="4.49" fill="#e0282e"/>
<rect x="265.38" y="236.04" width="4.51" height="4.49" fill="#ee8890"/>
<rect x="270.99" y="236.04" width="4.51" height="4.49" fill="#e0282e"/>
<rect x="276.60" y="236.04" width="4.51" height="4.49" fill="#e0282e"/>
<rect x="282.21" y="236.04" width="4.51" height="4.49" fill="#6a6cca"/>
<rect x="287.82" y="236.04" width="4.51" height="4.49" fill="#e0282e"/>
<rect x="293.43" y="236.04" width="4.51" height="4.49" fill="#f4e6f0"/>
<rect x="299.04" y="236.04" width="4.51" height="4.49" fill="#6a6cca"/>
<rect x="136.35" y="241.63" width="4.51" height="4.49" fill="#382cab"/>
<rect x="141.96" y="241.63" width="4.51" height="4.49" fill="#2c33a0"/>
<rect x="147.57" y="241.63" width="4.51" height="4.49" fill="#2c33a0"/>
<rect x="153.18" y="241.63" width="4.51" height="4.49" fill="#3529a6"/>
<rect x="158.79" y="241.63" width="4.51" height="4.49" fill="#f4e6f0"/>
<rect x="164.40" y="241.63" width="4.51" height="4.49" fill="#2d2ea2"/>
<rect x="170.01" y="241.63" width="4.51" height="4.49" fill="#6a6cca"/>
<rect x="175.62" y="241.63" width="4.51" height="4.49" fill="#382cab"/>
<rect x="181.23" y="241.63" width="4.51" height="4.49" fill="#3529a6"/>
<rect x="186.84" y="241.63" width="4.51" height="4.49" fill="#3529a6"/>
<rect x="192.45" y="241.63" width="4.51" height="4.49" fill="#382cab"/>
<rect x="198.06" y="241.63" width="4.51" height="4.49" fill="#6a6cca"/>
<rect x="203.67" y="241.63" width="4.51" height="4.49" fill="#aaaae4"/>
<rect x="209.28" y="241.63" width="4.51" height="4.49" fill="#f4e6f0"/>
<rect x="214.89" y="241.63" width="4.51" height="4.49" fill="#f4c0c8"/>
<rect x="220.50" y="241.63" width="4.51" height="4.49" fill="#3529a6"/>
<rect x="226.11" y="241.63" width="4.51" height="4.49" fill="#3a42b2"/>
<rect x="231.72" y="241.63" width="4.51" height="4.49" fill="#3a42b2"/>
<rect x="237.33" y="241.63" width="4.51" height="4.49" fill="#6a6cca"/>
<rect x="242.94" y="241.63" width="4.51" height="4.49" fill="#6a6cca"/>
<rect x="248.55" y="241.63" width="4.51" height="4.49" fill="#2c33a0"/>
<rect x="254.16" y="241.63" width="4.51" height="4.49" fill="#2d2ea2"/>
<rect x="259.77" y="241.63" width="4.51" height="4.49" fill="#6a6cca"/>
<rect x="265.38" y="241.63" width="4.51" height="4.49" fill="#f4e6f0"/>
<rect x="270.99" y="241.63" width="4.51" height="4.49" fill="#6a6cca"/>
<rect x="276.60" y="241.63" width="4.51" height="4.49" fill="#3028a0"/>
<rect x="282.21" y="241.63" width="4.51" height="4.49" fill="#ee8890"/>
<rect x="287.82" y="241.63" width="4.51" height="4.49" fill="#3a42b2"/>
<rect x="293.43" y="241.63" width="4.51" height="4.49" fill="#f4e6f0"/>
<rect x="299.04" y="241.63" width="4.51" height="4.49" fill="#f4e6f0"/>
<rect x="136.35" y="247.23" width="4.51" height="4.49" fill="#2c33a0"/>
<rect x="141.96" y="247.23" width="4.51" height="4.49" fill="#aaaae4"/>
<rect x="147.57" y="247.23" width="4.51" height="4.49" fill="#ee8890"/>
<rect x="153.18" y="247.23" width="4.51" height="4.49" fill="#3028a0"/>
<rect x="158.79" y="247.23" width="4.51" height="4.49" fill="#382cab"/>
<rect x="164.40" y="247.23" width="4.51" height="4.49" fill="#6a6cca"/>
<rect x="170.01" y="247.23" width="4.51" height="4.49" fill="#2d2ea2"/>
<rect x="175.62" y="247.23" width="4.51" height="4.49" fill="#382cab"/>
<rect x="181.23" y="247.23" width="4.51" height="4.49" fill="#3028a0"/>
<rect x="186.84" y="247.23" width="4.51" height="4.49" fill="#3a42b2"/>
<rect x="192.45" y="247.23" width="4.51" height="4.49" fill="#f4e6f0"/>
<rect x="198.06" y="247.23" width="4.51" height="4.49" fill="#6a6cca"/>
<rect x="203.67" y="247.23" width="4.51" height="4.49" fill="#6a6cca"/>
<rect x="209.28" y="247.23" width="4.51" height="4.49" fill="#f4e6f0"/>
<rect x="214.89" y="247.23" width="4.51" height="4.49" fill="#2d2ea2"/>
<rect x="220.50" y="247.23" width="4.51" height="4.49" fill="#f4e6f0"/>
<rect x="226.11" y="247.23" width="4.51" height="4.49" fill="#6a6cca"/>
<rect x="231.72" y="247.23" width="4.51" height="4.49" fill="#f4e6f0"/>
<rect x="237.33" y="247.23" width="4.51" height="4.49" fill="#f4e6f0"/>
<rect x="242.94" y="247.23" width="4.51" height="4.49" fill="#f4e6f0"/>
<rect x="248.55" y="247.23" width="4.51" height="4.49" fill="#f4e6f0"/>
<rect x="254.16" y="247.23" width="4.51" height="4.49" fill="#e0282e"/>
<rect x="259.77" y="247.23" width="4.51" height="4.49" fill="#e0282e"/>
<rect x="265.38" y="247.23" width="4.51" height="4.49" fill="#f4e6f0"/>
<rect x="270.99" y="247.23" width="4.51" height="4.49" fill="#ee8890"/>
<rect x="276.60" y="247.23" width="4.51" height="4.49" fill="#f4e6f0"/>
<rect x="282.21" y="247.23" width="4.51" height="4.49" fill="#f4e6f0"/>
<rect x="287.82" y="247.23" width="4.51" height="4.49" fill="#f4e6f0"/>
<rect x="293.43" y="247.23" width="4.51" height="4.49" fill="#e0282e"/>
<rect x="299.04" y="247.23" width="4.51" height="4.49" fill="#ee8890"/>
<rect x="136.35" y="252.82" width="4.51" height="4.49" fill="#3a42b2"/>
<rect x="141.96" y="252.82" width="4.51" height="4.49" fill="#2c33a0"/>
<rect x="147.57" y="252.82" width="4.51" height="4.49" fill="#3a42b2"/>
<rect x="153.18" y="252.82" width="4.51" height="4.49" fill="#3028a0"/>
<rect x="158.79" y="252.82" width="4.51" height="4.49" fill="#f4e6f0"/>
<rect x="164.40" y="252.82" width="4.51" height="4.49" fill="#3a42b2"/>
<rect x="170.01" y="252.82" width="4.51" height="4.49" fill="#382cab"/>
<rect x="175.62" y="252.82" width="4.51" height="4.49" fill="#3529a6"/>
<rect x="181.23" y="252.82" width="4.51" height="4.49" fill="#2d2ea2"/>
<rect x="186.84" y="252.82" width="4.51" height="4.49" fill="#f4c0c8"/>
<rect x="192.45" y="252.82" width="4.51" height="4.49" fill="#2c33a0"/>
<rect x="198.06" y="252.82" width="4.51" height="4.49" fill="#e0282e"/>
<rect x="203.67" y="252.82" width="4.51" height="4.49" fill="#3028a0"/>
<rect x="209.28" y="252.82" width="4.51" height="4.49" fill="#382cab"/>
<rect x="214.89" y="252.82" width="4.51" height="4.49" fill="#2c33a0"/>
<rect x="220.50" y="252.82" width="4.51" height="4.49" fill="#3529a6"/>
<rect x="226.11" y="252.82" width="4.51" height="4.49" fill="#2c33a0"/>
<rect x="231.72" y="252.82" width="4.51" height="4.49" fill="#f4e6f0"/>
<rect x="237.33" y="252.82" width="4.51" height="4.49" fill="#f4e6f0"/>
<rect x="242.94" y="252.82" width="4.51" height="4.49" fill="#3a42b2"/>
<rect x="248.55" y="252.82" width="4.51" height="4.49" fill="#e0282e"/>
<rect x="254.16" y="252.82" width="4.51" height="4.49" fill="#f4e6f0"/>
<rect x="259.77" y="252.82" width="4.51" height="4.49" fill="#382cab"/>
<rect x="265.38" y="252.82" width="4.51" height="4.49" fill="#ee8890"/>
<rect x="270.99" y="252.82" width="4.51" height="4.49" fill="#f4e6f0"/>
<rect x="276.60" y="252.82" width="4.51" height="4.49" fill="#3028a0"/>
<rect x="282.21" y="252.82" width="4.51" height="4.49" fill="#6a6cca"/>
<rect x="287.82" y="252.82" width="4.51" height="4.49" fill="#2d2ea2"/>
<rect x="293.43" y="252.82" width="4.51" height="4.49" fill="#aaaae4"/>
<rect x="299.04" y="252.82" width="4.51" height="4.49" fill="#ee8890"/>
<rect x="136.35" y="258.41" width="4.51" height="4.49" fill="#6a6cca"/>
<rect x="141.96" y="258.41" width="4.51" height="4.49" fill="#3529a6"/>
<rect x="147.57" y="258.41" width="4.51" height="4.49" fill="#f4e6f0"/>
<rect x="153.18" y="258.41" width="4.51" height="4.49" fill="#3529a6"/>
<rect x="158.79" y="258.41" width="4.51" height="4.49" fill="#3529a6"/>
<rect x="164.40" y="258.41" width="4.51" height="4.49" fill="#e0282e"/>
<rect x="170.01" y="258.41" width="4.51" height="4.49" fill="#6a6cca"/>
<rect x="175.62" y="258.41" width="4.51" height="4.49" fill="#382cab"/>
<rect x="181.23" y="258.41" width="4.51" height="4.49" fill="#2c33a0"/>
<rect x="186.84" y="258.41" width="4.51" height="4.49" fill="#f4c0c8"/>
<rect x="192.45" y="258.41" width="4.51" height="4.49" fill="#aaaae4"/>
<rect x="198.06" y="258.41" width="4.51" height="4.49" fill="#f4e6f0"/>
<rect x="203.67" y="258.41" width="4.51" height="4.49" fill="#6a6cca"/>
<rect x="209.28" y="258.41" width="4.51" height="4.49" fill="#3529a6"/>
<rect x="214.89" y="258.41" width="4.51" height="4.49" fill="#6a6cca"/>
<rect x="220.50" y="258.41" width="4.51" height="4.49" fill="#e0282e"/>
<rect x="226.11" y="258.41" width="4.51" height="4.49" fill="#f4e6f0"/>
<rect x="231.72" y="258.41" width="4.51" height="4.49" fill="#f4e6f0"/>
<rect x="237.33" y="258.41" width="4.51" height="4.49" fill="#2c33a0"/>
<rect x="242.94" y="258.41" width="4.51" height="4.49" fill="#ee8890"/>
<rect x="248.55" y="258.41" width="4.51" height="4.49" fill="#3a42b2"/>
<rect x="254.16" y="258.41" width="4.51" height="4.49" fill="#aaaae4"/>
<rect x="259.77" y="258.41" width="4.51" height="4.49" fill="#6a6cca"/>
<rect x="265.38" y="258.41" width="4.51" height="4.49" fill="#ee8890"/>
<rect x="270.99" y="258.41" width="4.51" height="4.49" fill="#aaaae4"/>
<rect x="276.60" y="258.41" width="4.51" height="4.49" fill="#f4e6f0"/>
<rect x="282.21" y="258.41" width="4.51" height="4.49" fill="#ee8890"/>
<rect x="287.82" y="258.41" width="4.51" height="4.49" fill="#aaaae4"/>
<rect x="293.43" y="258.41" width="4.51" height="4.49" fill="#6a6cca"/>
<rect x="299.04" y="258.41" width="4.51" height="4.49" fill="#e0282e"/>
<rect x="136.35" y="264.00" width="4.51" height="4.49" fill="#3529a6"/>
<rect x="141.96" y="264.00" width="4.51" height="4.49" fill="#3028a0"/>
<rect x="147.57" y="264.00" width="4.51" height="4.49" fill="#6a6cca"/>
<rect x="153.18" y="264.00" width="4.51" height="4.49" fill="#3028a0"/>
<rect x="158.79" y="264.00" width="4.51" height="4.49" fill="#f4e6f0"/>
<rect x="164.40" y="264.00" width="4.51" height="4.49" fill="#3028a0"/>
<rect x="170.01" y="264.00" width="4.51" height="4.49" fill="#6a6cca"/>
<rect x="175.62" y="264.00" width="4.51" height="4.49" fill="#6a6cca"/>
<rect x="181.23" y="264.00" width="4.51" height="4.49" fill="#3529a6"/>
<rect x="186.84" y="264.00" width="4.51" height="4.49" fill="#6a6cca"/>
<rect x="192.45" y="264.00" width="4.51" height="4.49" fill="#6a6cca"/>
<rect x="198.06" y="264.00" width="4.51" height="4.49" fill="#382cab"/>
<rect x="203.67" y="264.00" width="4.51" height="4.49" fill="#6a6cca"/>
<rect x="209.28" y="264.00" width="4.51" height="4.49" fill="#ee8890"/>
<rect x="214.89" y="264.00" width="4.51" height="4.49" fill="#ee8890"/>
<rect x="220.50" y="264.00" width="4.51" height="4.49" fill="#f4e6f0"/>
<rect x="226.11" y="264.00" width="4.51" height="4.49" fill="#f4e6f0"/>
<rect x="231.72" y="264.00" width="4.51" height="4.49" fill="#382cab"/>
<rect x="237.33" y="264.00" width="4.51" height="4.49" fill="#6a6cca"/>
<rect x="242.94" y="264.00" width="4.51" height="4.49" fill="#3028a0"/>
<rect x="248.55" y="264.00" width="4.51" height="4.49" fill="#6a6cca"/>
<rect x="254.16" y="264.00" width="4.51" height="4.49" fill="#382cab"/>
<rect x="259.77" y="264.00" width="4.51" height="4.49" fill="#3028a0"/>
<rect x="265.38" y="264.00" width="4.51" height="4.49" fill="#f4e6f0"/>
<rect x="270.99" y="264.00" width="4.51" height="4.49" fill="#3529a6"/>
<rect x="276.60" y="264.00" width="4.51" height="4.49" fill="#2d2ea2"/>
<rect x="282.21" y="264.00" width="4.51" height="4.49" fill="#ee8890"/>
<rect x="287.82" y="264.00" width="4.51" height="4.49" fill="#aaaae4"/>
<rect x="293.43" y="264.00" width="4.51" height="4.49" fill="#6a6cca"/>
<rect x="299.04" y="264.00" width="4.51" height="4.49" fill="#ee8890"/>
<rect x="136.35" y="269.60" width="4.51" height="4.49" fill="#2c33a0"/>
<rect x="141.96" y="269.60" width="4.51" height="4.49" fill="#f4e6f0"/>
<rect x="147.57" y="269.60" width="4.51" height="4.49" fill="#3028a0"/>
<rect x="153.18" y="269.60" width="4.51" height="4.49" fill="#382cab"/>
<rect x="158.79" y="269.60" width="4.51" height="4.49" fill="#2d2ea2"/>
<rect x="164.40" y="269.60" width="4.51" height="4.49" fill="#3529a6"/>
<rect x="170.01" y="269.60" width="4.51" height="4.49" fill="#3a42b2"/>
<rect x="175.62" y="269.60" width="4.51" height="4.49" fill="#f4e6f0"/>
<rect x="181.23" y="269.60" width="4.51" height="4.49" fill="#f4e6f0"/>
<rect x="186.84" y="269.60" width="4.51" height="4.49" fill="#2c33a0"/>
<rect x="192.45" y="269.60" width="4.51" height="4.49" fill="#aaaae4"/>
<rect x="198.06" y="269.60" width="4.51" height="4.49" fill="#aaaae4"/>
<rect x="203.67" y="269.60" width="4.51" height="4.49" fill="#382cab"/>
<rect x="209.28" y="269.60" width="4.51" height="4.49" fill="#f4e6f0"/>
<rect x="214.89" y="269.60" width="4.51" height="4.49" fill="#3529a6"/>
<rect x="220.50" y="269.60" width="4.51" height="4.49" fill="#3028a0"/>
<rect x="226.11" y="269.60" width="4.51" height="4.49" fill="#6a6cca"/>
<rect x="231.72" y="269.60" width="4.51" height="4.49" fill="#f4e6f0"/>
<rect x="237.33" y="269.60" width="4.51" height="4.49" fill="#6a6cca"/>
<rect x="242.94" y="269.60" width="4.51" height="4.49" fill="#3529a6"/>
<rect x="248.55" y="269.60" width="4.51" height="4.49" fill="#aaaae4"/>
<rect x="254.16" y="269.60" width="4.51" height="4.49" fill="#382cab"/>
<rect x="259.77" y="269.60" width="4.51" height="4.49" fill="#2d2ea2"/>
<rect x="265.38" y="269.60" width="4.51" height="4.49" fill="#2c33a0"/>
<rect x="270.99" y="269.60" width="4.51" height="4.49" fill="#382cab"/>
<rect x="276.60" y="269.60" width="4.51" height="4.49" fill="#f4e6f0"/>
<rect x="282.21" y="269.60" width="4.51" height="4.49" fill="#f4e6f0"/>
<rect x="287.82" y="269.60" width="4.51" height="4.49" fill="#3529a6"/>
<rect x="293.43" y="269.60" width="4.51" height="4.49" fill="#f4e6f0"/>
<rect x="299.04" y="269.60" width="4.51" height="4.49" fill="#2d2ea2"/>
<rect x="136.35" y="275.19" width="4.51" height="4.49" fill="#f4e6f0"/>
<rect x="141.96" y="275.19" width="4.51" height="4.49" fill="#f4c0c8"/>
<rect x="147.57" y="275.19" width="4.51" height="4.49" fill="#e0282e"/>
<rect x="153.18" y="275.19" width="4.51" height="4.49" fill="#382cab"/>
<rect x="158.79" y="275.19" width="4.51" height="4.49" fill="#f4e6f0"/>
<rect x="164.40" y="275.19" width="4.51" height="4.49" fill="#f4e6f0"/>
<rect x="170.01" y="275.19" width="4.51" height="4.49" fill="#e0282e"/>
<rect x="175.62" y="275.19" width="4.51" height="4.49" fill="#e0282e"/>
<rect x="181.23" y="275.19" width="4.51" height="4.49" fill="#e0282e"/>
<rect x="186.84" y="275.19" width="4.51" height="4.49" fill="#f4c0c8"/>
<rect x="192.45" y="275.19" width="4.51" height="4.49" fill="#aaaae4"/>
<rect x="198.06" y="275.19" width="4.51" height="4.49" fill="#3028a0"/>
<rect x="203.67" y="275.19" width="4.51" height="4.49" fill="#e0282e"/>
<rect x="209.28" y="275.19" width="4.51" height="4.49" fill="#3529a6"/>
<rect x="214.89" y="275.19" width="4.51" height="4.49" fill="#f4e6f0"/>
<rect x="220.50" y="275.19" width="4.51" height="4.49" fill="#6a6cca"/>
<rect x="226.11" y="275.19" width="4.51" height="4.49" fill="#ee8890"/>
<rect x="231.72" y="275.19" width="4.51" height="4.49" fill="#f4e6f0"/>
<rect x="237.33" y="275.19" width="4.51" height="4.49" fill="#e0282e"/>
<rect x="242.94" y="275.19" width="4.51" height="4.49" fill="#f4e6f0"/>
<rect x="248.55" y="275.19" width="4.51" height="4.49" fill="#ee8890"/>
<rect x="254.16" y="275.19" width="4.51" height="4.49" fill="#6a6cca"/>
<rect x="259.77" y="275.19" width="4.51" height="4.49" fill="#ee8890"/>
<rect x="265.38" y="275.19" width="4.51" height="4.49" fill="#f4e6f0"/>
<rect x="270.99" y="275.19" width="4.51" height="4.49" fill="#f4e6f0"/>
<rect x="276.60" y="275.19" width="4.51" height="4.49" fill="#2c33a0"/>
<rect x="282.21" y="275.19" width="4.51" height="4.49" fill="#3529a6"/>
<rect x="287.82" y="275.19" width="4.51" height="4.49" fill="#aaaae4"/>
<rect x="293.43" y="275.19" width="4.51" height="4.49" fill="#3a42b2"/>
<rect x="299.04" y="275.19" width="4.51" height="4.49" fill="#6a6cca"/>
<rect x="136.35" y="280.78" width="4.51" height="4.49" fill="#e0282e"/>
<rect x="141.96" y="280.78" width="4.51" height="4.49" fill="#ee8890"/>
<rect x="147.57" y="280.78" width="4.51" height="4.49" fill="#f4e6f0"/>
<rect x="153.18" y="280.78" width="4.51" height="4.49" fill="#ee8890"/>
<rect x="158.79" y="280.78" width="4.51" height="4.49" fill="#f4e6f0"/>
<rect x="164.40" y="280.78" width="4.51" height="4.49" fill="#f4c0c8"/>
<rect x="170.01" y="280.78" width="4.51" height="4.49" fill="#f4e6f0"/>
<rect x="175.62" y="280.78" width="4.51" height="4.49" fill="#3a42b2"/>
<rect x="181.23" y="280.78" width="4.51" height="4.49" fill="#3a42b2"/>
<rect x="186.84" y="280.78" width="4.51" height="4.49" fill="#f4e6f0"/>
<rect x="192.45" y="280.78" width="4.51" height="4.49" fill="#e0282e"/>
<rect x="198.06" y="280.78" width="4.51" height="4.49" fill="#e0282e"/>
<rect x="203.67" y="280.78" width="4.51" height="4.49" fill="#ee8890"/>
<rect x="209.28" y="280.78" width="4.51" height="4.49" fill="#f4e6f0"/>
<rect x="214.89" y="280.78" width="4.51" height="4.49" fill="#e0282e"/>
<rect x="220.50" y="280.78" width="4.51" height="4.49" fill="#ee8890"/>
<rect x="226.11" y="280.78" width="4.51" height="4.49" fill="#2c33a0"/>
<rect x="231.72" y="280.78" width="4.51" height="4.49" fill="#e0282e"/>
<rect x="237.33" y="280.78" width="4.51" height="4.49" fill="#6a6cca"/>
<rect x="242.94" y="280.78" width="4.51" height="4.49" fill="#f4e6f0"/>
<rect x="248.55" y="280.78" width="4.51" height="4.49" fill="#3a42b2"/>
<rect x="254.16" y="280.78" width="4.51" height="4.49" fill="#e0282e"/>
<rect x="259.77" y="280.78" width="4.51" height="4.49" fill="#ee8890"/>
<rect x="265.38" y="280.78" width="4.51" height="4.49" fill="#e0282e"/>
<rect x="270.99" y="280.78" width="4.51" height="4.49" fill="#f4e6f0"/>
<rect x="276.60" y="280.78" width="4.51" height="4.49" fill="#6a6cca"/>
<rect x="282.21" y="280.78" width="4.51" height="4.49" fill="#e0282e"/>
<rect x="287.82" y="280.78" width="4.51" height="4.49" fill="#f4e6f0"/>
<rect x="293.43" y="280.78" width="4.51" height="4.49" fill="#ee8890"/>
<rect x="299.04" y="280.78" width="4.51" height="4.49" fill="#ee8890"/>
<rect x="136.35" y="286.37" width="4.51" height="4.49" fill="#f4e6f0"/>
<rect x="141.96" y="286.37" width="4.51" height="4.49" fill="#f4c0c8"/>
<rect x="147.57" y="286.37" width="4.51" height="4.49" fill="#ee8890"/>
<rect x="153.18" y="286.37" width="4.51" height="4.49" fill="#3a42b2"/>
<rect x="158.79" y="286.37" width="4.51" height="4.49" fill="#ee8890"/>
<rect x="164.40" y="286.37" width="4.51" height="4.49" fill="#f4c0c8"/>
<rect x="170.01" y="286.37" width="4.51" height="4.49" fill="#382cab"/>
<rect x="175.62" y="286.37" width="4.51" height="4.49" fill="#3a42b2"/>
<rect x="181.23" y="286.37" width="4.51" height="4.49" fill="#3a42b2"/>
<rect x="186.84" y="286.37" width="4.51" height="4.49" fill="#e0282e"/>
<rect x="192.45" y="286.37" width="4.51" height="4.49" fill="#6a6cca"/>
<rect x="198.06" y="286.37" width="4.51" height="4.49" fill="#e0282e"/>
<rect x="203.67" y="286.37" width="4.51" height="4.49" fill="#aaaae4"/>
<rect x="209.28" y="286.37" width="4.51" height="4.49" fill="#e0282e"/>
<rect x="214.89" y="286.37" width="4.51" height="4.49" fill="#6a6cca"/>
<rect x="220.50" y="286.37" width="4.51" height="4.49" fill="#f4e6f0"/>
<rect x="226.11" y="286.37" width="4.51" height="4.49" fill="#3028a0"/>
<rect x="231.72" y="286.37" width="4.51" height="4.49" fill="#f4e6f0"/>
<rect x="237.33" y="286.37" width="4.51" height="4.49" fill="#ee8890"/>
<rect x="242.94" y="286.37" width="4.51" height="4.49" fill="#aaaae4"/>
<rect x="248.55" y="286.37" width="4.51" height="4.49" fill="#ee8890"/>
<rect x="254.16" y="286.37" width="4.51" height="4.49" fill="#6a6cca"/>
<rect x="259.77" y="286.37" width="4.51" height="4.49" fill="#6a6cca"/>
<rect x="265.38" y="286.37" width="4.51" height="4.49" fill="#aaaae4"/>
<rect x="270.99" y="286.37" width="4.51" height="4.49" fill="#f4e6f0"/>
<rect x="276.60" y="286.37" width="4.51" height="4.49" fill="#6a6cca"/>
<rect x="282.21" y="286.37" width="4.51" height="4.49" fill="#3028a0"/>
<rect x="287.82" y="286.37" width="4.51" height="4.49" fill="#aaaae4"/>
<rect x="293.43" y="286.37" width="4.51" height="4.49" fill="#3028a0"/>
<rect x="299.04" y="286.37" width="4.51" height="4.49" fill="#ee8890"/>
<rect x="136.35" y="291.97" width="4.51" height="4.49" fill="#e0282e"/>
<rect x="141.96" y="291.97" width="4.51" height="4.49" fill="#f4c0c8"/>
<rect x="147.57" y="291.97" width="4.51" height="4.49" fill="#f4c0c8"/>
<rect x="153.18" y="291.97" width="4.51" height="4.49" fill="#e0282e"/>
<rect x="158.79" y="291.97" width="4.51" height="4.49" fill="#e0282e"/>
<rect x="164.40" y="291.97" width="4.51" height="4.49" fill="#e0282e"/>
<rect x="170.01" y="291.97" width="4.51" height="4.49" fill="#ee8890"/>
<rect x="175.62" y="291.97" width="4.51" height="4.49" fill="#3a42b2"/>
<rect x="181.23" y="291.97" width="4.51" height="4.49" fill="#3a42b2"/>
<rect x="186.84" y="291.97" width="4.51" height="4.49" fill="#aaaae4"/>
<rect x="192.45" y="291.97" width="4.51" height="4.49" fill="#ee8890"/>
<rect x="198.06" y="291.97" width="4.51" height="4.49" fill="#ee8890"/>
<rect x="203.67" y="291.97" width="4.51" height="4.49" fill="#e0282e"/>
<rect x="209.28" y="291.97" width="4.51" height="4.49" fill="#f4e6f0"/>
<rect x="214.89" y="291.97" width="4.51" height="4.49" fill="#e0282e"/>
<rect x="220.50" y="291.97" width="4.51" height="4.49" fill="#e0282e"/>
<rect x="226.11" y="291.97" width="4.51" height="4.49" fill="#e0282e"/>
<rect x="231.72" y="291.97" width="4.51" height="4.49" fill="#f4e6f0"/>
<rect x="237.33" y="291.97" width="4.51" height="4.49" fill="#f4e6f0"/>
<rect x="242.94" y="291.97" width="4.51" height="4.49" fill="#ee8890"/>
<rect x="248.55" y="291.97" width="4.51" height="4.49" fill="#f4e6f0"/>
<rect x="254.16" y="291.97" width="4.51" height="4.49" fill="#6a6cca"/>
<rect x="259.77" y="291.97" width="4.51" height="4.49" fill="#3529a6"/>
<rect x="265.38" y="291.97" width="4.51" height="4.49" fill="#aaaae4"/>
<rect x="270.99" y="291.97" width="4.51" height="4.49" fill="#6a6cca"/>
<rect x="276.60" y="291.97" width="4.51" height="4.49" fill="#ee8890"/>
<rect x="282.21" y="291.97" width="4.51" height="4.49" fill="#ee8890"/>
<rect x="287.82" y="291.97" width="4.51" height="4.49" fill="#2d2ea2"/>
<rect x="293.43" y="291.97" width="4.51" height="4.49" fill="#6a6cca"/>
<rect x="299.04" y="291.97" width="4.51" height="4.49" fill="#6a6cca"/>
<rect x="136.35" y="297.56" width="4.51" height="4.49" fill="#e0282e"/>
<rect x="141.96" y="297.56" width="4.51" height="4.49" fill="#e0282e"/>
<rect x="147.57" y="297.56" width="4.51" height="4.49" fill="#e0282e"/>
<rect x="153.18" y="297.56" width="4.51" height="4.49" fill="#ee8890"/>
<rect x="158.79" y="297.56" width="4.51" height="4.49" fill="#ee8890"/>
<rect x="164.40" y="297.56" width="4.51" height="4.49" fill="#ee8890"/>
<rect x="170.01" y="297.56" width="4.51" height="4.49" fill="#f4e6f0"/>
<rect x="175.62" y="297.56" width="4.51" height="4.49" fill="#ee8890"/>
<rect x="181.23" y="297.56" width="4.51" height="4.49" fill="#ee8890"/>
<rect x="186.84" y="297.56" width="4.51" height="4.49" fill="#f4e6f0"/>
<rect x="192.45" y="297.56" width="4.51" height="4.49" fill="#3529a6"/>
<rect x="198.06" y="297.56" width="4.51" height="4.49" fill="#f4e6f0"/>
<rect x="203.67" y="297.56" width="4.51" height="4.49" fill="#3529a6"/>
<rect x="209.28" y="297.56" width="4.51" height="4.49" fill="#ee8890"/>
<rect x="214.89" y="297.56" width="4.51" height="4.49" fill="#ee8890"/>
<rect x="220.50" y="297.56" width="4.51" height="4.49" fill="#aaaae4"/>
<rect x="226.11" y="297.56" width="4.51" height="4.49" fill="#ee8890"/>
<rect x="231.72" y="297.56" width="4.51" height="4.49" fill="#e0282e"/>
<rect x="237.33" y="297.56" width="4.51" height="4.49" fill="#ee8890"/>
<rect x="242.94" y="297.56" width="4.51" height="4.49" fill="#ee8890"/>
<rect x="248.55" y="297.56" width="4.51" height="4.49" fill="#3a42b2"/>
<rect x="254.16" y="297.56" width="4.51" height="4.49" fill="#3a42b2"/>
<rect x="259.77" y="297.56" width="4.51" height="4.49" fill="#ee8890"/>
<rect x="265.38" y="297.56" width="4.51" height="4.49" fill="#3a42b2"/>
<rect x="270.99" y="297.56" width="4.51" height="4.49" fill="#f4e6f0"/>
<rect x="276.60" y="297.56" width="4.51" height="4.49" fill="#ee8890"/>
<rect x="282.21" y="297.56" width="4.51" height="4.49" fill="#aaaae4"/>
<rect x="287.82" y="297.56" width="4.51" height="4.49" fill="#ee8890"/>
<rect x="293.43" y="297.56" width="4.51" height="4.49" fill="#ee8890"/>
<rect x="299.04" y="297.56" width="4.51" height="4.49" fill="#f4e6f0"/>
<rect x="334.30" y="229.30" width="168.80" height="72.60" fill="#141238"/>
<rect x="334.85" y="229.85" width="4.53" height="4.48" fill="#e0282e"/>
<rect x="340.48" y="229.85" width="4.53" height="4.48" fill="#f4e6f0"/>
<rect x="346.10" y="229.85" width="4.53" height="4.48" fill="#6a6cca"/>
<rect x="351.73" y="229.85" width="4.53" height="4.48" fill="#f4e6f0"/>
<rect x="357.36" y="229.85" width="4.53" height="4.48" fill="#6a6cca"/>
<rect x="362.98" y="229.85" width="4.53" height="4.48" fill="#6a6cca"/>
<rect x="368.61" y="229.85" width="4.53" height="4.48" fill="#aaaae4"/>
<rect x="374.24" y="229.85" width="4.53" height="4.48" fill="#f4e6f0"/>
<rect x="379.86" y="229.85" width="4.53" height="4.48" fill="#e0282e"/>
<rect x="385.49" y="229.85" width="4.53" height="4.48" fill="#f4e6f0"/>
<rect x="391.12" y="229.85" width="4.53" height="4.48" fill="#f4e6f0"/>
<rect x="396.74" y="229.85" width="4.53" height="4.48" fill="#e0282e"/>
<rect x="402.37" y="229.85" width="4.53" height="4.48" fill="#f4e6f0"/>
<rect x="408.00" y="229.85" width="4.53" height="4.48" fill="#f4e6f0"/>
<rect x="413.62" y="229.85" width="4.53" height="4.48" fill="#f4e6f0"/>
<rect x="419.25" y="229.85" width="4.53" height="4.48" fill="#ee8890"/>
<rect x="424.88" y="229.85" width="4.53" height="4.48" fill="#f4e6f0"/>
<rect x="430.50" y="229.85" width="4.53" height="4.48" fill="#f4e6f0"/>
<rect x="436.13" y="229.85" width="4.53" height="4.48" fill="#ee8890"/>
<rect x="441.76" y="229.85" width="4.53" height="4.48" fill="#6a6cca"/>
<rect x="447.38" y="229.85" width="4.53" height="4.48" fill="#e0282e"/>
<rect x="453.01" y="229.85" width="4.53" height="4.48" fill="#f4e6f0"/>
<rect x="458.64" y="229.85" width="4.53" height="4.48" fill="#ee8890"/>
<rect x="464.26" y="229.85" width="4.53" height="4.48" fill="#f4e6f0"/>
<rect x="469.89" y="229.85" width="4.53" height="4.48" fill="#6a6cca"/>
<rect x="475.52" y="229.85" width="4.53" height="4.48" fill="#ee8890"/>
<rect x="481.14" y="229.85" width="4.53" height="4.48" fill="#f4e6f0"/>
<rect x="486.77" y="229.85" width="4.53" height="4.48" fill="#f4e6f0"/>
<rect x="492.40" y="229.85" width="4.53" height="4.48" fill="#ee8890"/>
<rect x="498.02" y="229.85" width="4.53" height="4.48" fill="#f4e6f0"/>
<rect x="334.85" y="235.43" width="4.53" height="4.48" fill="#f4e6f0"/>
<rect x="340.48" y="235.43" width="4.53" height="4.48" fill="#f4e6f0"/>
<rect x="346.10" y="235.43" width="4.53" height="4.48" fill="#ee8890"/>
<rect x="351.73" y="235.43" width="4.53" height="4.48" fill="#3a42b2"/>
<rect x="357.36" y="235.43" width="4.53" height="4.48" fill="#f4e6f0"/>
<rect x="362.98" y="235.43" width="4.53" height="4.48" fill="#ee8890"/>
<rect x="368.61" y="235.43" width="4.53" height="4.48" fill="#e0282e"/>
<rect x="374.24" y="235.43" width="4.53" height="4.48" fill="#f4e6f0"/>
<rect x="379.86" y="235.43" width="4.53" height="4.48" fill="#f4e6f0"/>
<rect x="385.49" y="235.43" width="4.53" height="4.48" fill="#f4e6f0"/>
<rect x="391.12" y="235.43" width="4.53" height="4.48" fill="#ee8890"/>
<rect x="396.74" y="235.43" width="4.53" height="4.48" fill="#6a6cca"/>
<rect x="402.37" y="235.43" width="4.53" height="4.48" fill="#f4e6f0"/>
<rect x="408.00" y="235.43" width="4.53" height="4.48" fill="#ee8890"/>
<rect x="413.62" y="235.43" width="4.53" height="4.48" fill="#ee8890"/>
<rect x="419.25" y="235.43" width="4.53" height="4.48" fill="#e0282e"/>
<rect x="424.88" y="235.43" width="4.53" height="4.48" fill="#f4e6f0"/>
<rect x="430.50" y="235.43" width="4.53" height="4.48" fill="#f4e6f0"/>
<rect x="436.13" y="235.43" width="4.53" height="4.48" fill="#6a6cca"/>
<rect x="441.76" y="235.43" width="4.53" height="4.48" fill="#ee8890"/>
<rect x="447.38" y="235.43" width="4.53" height="4.48" fill="#382cab"/>
<rect x="453.01" y="235.43" width="4.53" height="4.48" fill="#f4e6f0"/>
<rect x="458.64" y="235.43" width="4.53" height="4.48" fill="#f4e6f0"/>
<rect x="464.26" y="235.43" width="4.53" height="4.48" fill="#ee8890"/>
<rect x="469.89" y="235.43" width="4.53" height="4.48" fill="#e0282e"/>
<rect x="475.52" y="235.43" width="4.53" height="4.48" fill="#3a42b2"/>
<rect x="481.14" y="235.43" width="4.53" height="4.48" fill="#e0282e"/>
<rect x="486.77" y="235.43" width="4.53" height="4.48" fill="#e0282e"/>
<rect x="492.40" y="235.43" width="4.53" height="4.48" fill="#ee8890"/>
<rect x="498.02" y="235.43" width="4.53" height="4.48" fill="#e0282e"/>
<rect x="334.85" y="241.02" width="4.53" height="4.48" fill="#e0282e"/>
<rect x="340.48" y="241.02" width="4.53" height="4.48" fill="#ee8890"/>
<rect x="346.10" y="241.02" width="4.53" height="4.48" fill="#f4e6f0"/>
<rect x="351.73" y="241.02" width="4.53" height="4.48" fill="#ee8890"/>
<rect x="357.36" y="241.02" width="4.53" height="4.48" fill="#ee8890"/>
<rect x="362.98" y="241.02" width="4.53" height="4.48" fill="#f4e6f0"/>
<rect x="368.61" y="241.02" width="4.53" height="4.48" fill="#ee8890"/>
<rect x="374.24" y="241.02" width="4.53" height="4.48" fill="#ee8890"/>
<rect x="379.86" y="241.02" width="4.53" height="4.48" fill="#f4e6f0"/>
<rect x="385.49" y="241.02" width="4.53" height="4.48" fill="#e0282e"/>
<rect x="391.12" y="241.02" width="4.53" height="4.48" fill="#e0282e"/>
<rect x="396.74" y="241.02" width="4.53" height="4.48" fill="#ee8890"/>
<rect x="402.37" y="241.02" width="4.53" height="4.48" fill="#ee8890"/>
<rect x="408.00" y="241.02" width="4.53" height="4.48" fill="#ee8890"/>
<rect x="413.62" y="241.02" width="4.53" height="4.48" fill="#ee8890"/>
<rect x="419.25" y="241.02" width="4.53" height="4.48" fill="#aaaae4"/>
<rect x="424.88" y="241.02" width="4.53" height="4.48" fill="#ee8890"/>
<rect x="430.50" y="241.02" width="4.53" height="4.48" fill="#e0282e"/>
<rect x="436.13" y="241.02" width="4.53" height="4.48" fill="#e0282e"/>
<rect x="441.76" y="241.02" width="4.53" height="4.48" fill="#e0282e"/>
<rect x="447.38" y="241.02" width="4.53" height="4.48" fill="#e0282e"/>
<rect x="453.01" y="241.02" width="4.53" height="4.48" fill="#ee8890"/>
<rect x="458.64" y="241.02" width="4.53" height="4.48" fill="#e0282e"/>
<rect x="464.26" y="241.02" width="4.53" height="4.48" fill="#ee8890"/>
<rect x="469.89" y="241.02" width="4.53" height="4.48" fill="#e0282e"/>
<rect x="475.52" y="241.02" width="4.53" height="4.48" fill="#ee8890"/>
<rect x="481.14" y="241.02" width="4.53" height="4.48" fill="#ee8890"/>
<rect x="486.77" y="241.02" width="4.53" height="4.48" fill="#f4e6f0"/>
<rect x="492.40" y="241.02" width="4.53" height="4.48" fill="#ee8890"/>
<rect x="498.02" y="241.02" width="4.53" height="4.48" fill="#e0282e"/>
<rect x="334.85" y="246.60" width="4.53" height="4.48" fill="#f4e6f0"/>
<rect x="340.48" y="246.60" width="4.53" height="4.48" fill="#e0282e"/>
<rect x="346.10" y="246.60" width="4.53" height="4.48" fill="#ee8890"/>
<rect x="351.73" y="246.60" width="4.53" height="4.48" fill="#f4e6f0"/>
<rect x="357.36" y="246.60" width="4.53" height="4.48" fill="#f4e6f0"/>
<rect x="362.98" y="246.60" width="4.53" height="4.48" fill="#e0282e"/>
<rect x="368.61" y="246.60" width="4.53" height="4.48" fill="#e0282e"/>
<rect x="374.24" y="246.60" width="4.53" height="4.48" fill="#f4e6f0"/>
<rect x="379.86" y="246.60" width="4.53" height="4.48" fill="#ee8890"/>
<rect x="385.49" y="246.60" width="4.53" height="4.48" fill="#f4e6f0"/>
<rect x="391.12" y="246.60" width="4.53" height="4.48" fill="#f4e6f0"/>
<rect x="396.74" y="246.60" width="4.53" height="4.48" fill="#ee8890"/>
<rect x="402.37" y="246.60" width="4.53" height="4.48" fill="#e0282e"/>
<rect x="408.00" y="246.60" width="4.53" height="4.48" fill="#ee8890"/>
<rect x="413.62" y="246.60" width="4.53" height="4.48" fill="#ee8890"/>
<rect x="419.25" y="246.60" width="4.53" height="4.48" fill="#f4e6f0"/>
<rect x="424.88" y="246.60" width="4.53" height="4.48" fill="#f4e6f0"/>
<rect x="430.50" y="246.60" width="4.53" height="4.48" fill="#ee8890"/>
<rect x="436.13" y="246.60" width="4.53" height="4.48" fill="#aaaae4"/>
<rect x="441.76" y="246.60" width="4.53" height="4.48" fill="#f4e6f0"/>
<rect x="447.38" y="246.60" width="4.53" height="4.48" fill="#ee8890"/>
<rect x="453.01" y="246.60" width="4.53" height="4.48" fill="#f4e6f0"/>
<rect x="458.64" y="246.60" width="4.53" height="4.48" fill="#f4e6f0"/>
<rect x="464.26" y="246.60" width="4.53" height="4.48" fill="#ee8890"/>
<rect x="469.89" y="246.60" width="4.53" height="4.48" fill="#ee8890"/>
<rect x="475.52" y="246.60" width="4.53" height="4.48" fill="#f4e6f0"/>
<rect x="481.14" y="246.60" width="4.53" height="4.48" fill="#e0282e"/>
<rect x="486.77" y="246.60" width="4.53" height="4.48" fill="#ee8890"/>
<rect x="492.40" y="246.60" width="4.53" height="4.48" fill="#f4e6f0"/>
<rect x="498.02" y="246.60" width="4.53" height="4.48" fill="#6a6cca"/>
<rect x="334.85" y="252.19" width="4.53" height="4.48" fill="#3529a6"/>
<rect x="340.48" y="252.19" width="4.53" height="4.48" fill="#f4e6f0"/>
<rect x="346.10" y="252.19" width="4.53" height="4.48" fill="#f4e6f0"/>
<rect x="351.73" y="252.19" width="4.53" height="4.48" fill="#e0282e"/>
<rect x="357.36" y="252.19" width="4.53" height="4.48" fill="#3529a6"/>
<rect x="362.98" y="252.19" width="4.53" height="4.48" fill="#f4e6f0"/>
<rect x="368.61" y="252.19" width="4.53" height="4.48" fill="#f4e6f0"/>
<rect x="374.24" y="252.19" width="4.53" height="4.48" fill="#aaaae4"/>
<rect x="379.86" y="252.19" width="4.53" height="4.48" fill="#f4e6f0"/>
<rect x="385.49" y="252.19" width="4.53" height="4.48" fill="#ee8890"/>
<rect x="391.12" y="252.19" width="4.53" height="4.48" fill="#2c33a0"/>
<rect x="396.74" y="252.19" width="4.53" height="4.48" fill="#f4e6f0"/>
<rect x="402.37" y="252.19" width="4.53" height="4.48" fill="#f4e6f0"/>
<rect x="408.00" y="252.19" width="4.53" height="4.48" fill="#6a6cca"/>
<rect x="413.62" y="252.19" width="4.53" height="4.48" fill="#e0282e"/>
<rect x="419.25" y="252.19" width="4.53" height="4.48" fill="#ee8890"/>
<rect x="424.88" y="252.19" width="4.53" height="4.48" fill="#e0282e"/>
<rect x="430.50" y="252.19" width="4.53" height="4.48" fill="#6a6cca"/>
<rect x="436.13" y="252.19" width="4.53" height="4.48" fill="#e0282e"/>
<rect x="441.76" y="252.19" width="4.53" height="4.48" fill="#f4e6f0"/>
<rect x="447.38" y="252.19" width="4.53" height="4.48" fill="#ee8890"/>
<rect x="453.01" y="252.19" width="4.53" height="4.48" fill="#e0282e"/>
<rect x="458.64" y="252.19" width="4.53" height="4.48" fill="#aaaae4"/>
<rect x="464.26" y="252.19" width="4.53" height="4.48" fill="#3a42b2"/>
<rect x="469.89" y="252.19" width="4.53" height="4.48" fill="#3a42b2"/>
<rect x="475.52" y="252.19" width="4.53" height="4.48" fill="#ee8890"/>
<rect x="481.14" y="252.19" width="4.53" height="4.48" fill="#f4e6f0"/>
<rect x="486.77" y="252.19" width="4.53" height="4.48" fill="#f4e6f0"/>
<rect x="492.40" y="252.19" width="4.53" height="4.48" fill="#f4e6f0"/>
<rect x="498.02" y="252.19" width="4.53" height="4.48" fill="#f4e6f0"/>
<rect x="334.85" y="257.77" width="4.53" height="4.48" fill="#f4e6f0"/>
<rect x="340.48" y="257.77" width="4.53" height="4.48" fill="#f4e6f0"/>
<rect x="346.10" y="257.77" width="4.53" height="4.48" fill="#aaaae4"/>
<rect x="351.73" y="257.77" width="4.53" height="4.48" fill="#f4e6f0"/>
<rect x="357.36" y="257.77" width="4.53" height="4.48" fill="#ee8890"/>
<rect x="362.98" y="257.77" width="4.53" height="4.48" fill="#ee8890"/>
<rect x="368.61" y="257.77" width="4.53" height="4.48" fill="#ee8890"/>
<rect x="374.24" y="257.77" width="4.53" height="4.48" fill="#f4e6f0"/>
<rect x="379.86" y="257.77" width="4.53" height="4.48" fill="#ee8890"/>
<rect x="385.49" y="257.77" width="4.53" height="4.48" fill="#ee8890"/>
<rect x="391.12" y="257.77" width="4.53" height="4.48" fill="#f4e6f0"/>
<rect x="396.74" y="257.77" width="4.53" height="4.48" fill="#aaaae4"/>
<rect x="402.37" y="257.77" width="4.53" height="4.48" fill="#f4e6f0"/>
<rect x="408.00" y="257.77" width="4.53" height="4.48" fill="#e0282e"/>
<rect x="413.62" y="257.77" width="4.53" height="4.48" fill="#f4e6f0"/>
<rect x="419.25" y="257.77" width="4.53" height="4.48" fill="#6a6cca"/>
<rect x="424.88" y="257.77" width="4.53" height="4.48" fill="#f4e6f0"/>
<rect x="430.50" y="257.77" width="4.53" height="4.48" fill="#ee8890"/>
<rect x="436.13" y="257.77" width="4.53" height="4.48" fill="#ee8890"/>
<rect x="441.76" y="257.77" width="4.53" height="4.48" fill="#ee8890"/>
<rect x="447.38" y="257.77" width="4.53" height="4.48" fill="#f4e6f0"/>
<rect x="453.01" y="257.77" width="4.53" height="4.48" fill="#e0282e"/>
<rect x="458.64" y="257.77" width="4.53" height="4.48" fill="#e0282e"/>
<rect x="464.26" y="257.77" width="4.53" height="4.48" fill="#ee8890"/>
<rect x="469.89" y="257.77" width="4.53" height="4.48" fill="#e0282e"/>
<rect x="475.52" y="257.77" width="4.53" height="4.48" fill="#ee8890"/>
<rect x="481.14" y="257.77" width="4.53" height="4.48" fill="#e0282e"/>
<rect x="486.77" y="257.77" width="4.53" height="4.48" fill="#ee8890"/>
<rect x="492.40" y="257.77" width="4.53" height="4.48" fill="#ee8890"/>
<rect x="498.02" y="257.77" width="4.53" height="4.48" fill="#ee8890"/>
<rect x="334.85" y="263.36" width="4.53" height="4.48" fill="#e0282e"/>
<rect x="340.48" y="263.36" width="4.53" height="4.48" fill="#f4e6f0"/>
<rect x="346.10" y="263.36" width="4.53" height="4.48" fill="#f4e6f0"/>
<rect x="351.73" y="263.36" width="4.53" height="4.48" fill="#ee8890"/>
<rect x="357.36" y="263.36" width="4.53" height="4.48" fill="#ee8890"/>
<rect x="362.98" y="263.36" width="4.53" height="4.48" fill="#aaaae4"/>
<rect x="368.61" y="263.36" width="4.53" height="4.48" fill="#f4e6f0"/>
<rect x="374.24" y="263.36" width="4.53" height="4.48" fill="#e0282e"/>
<rect x="379.86" y="263.36" width="4.53" height="4.48" fill="#f4e6f0"/>
<rect x="385.49" y="263.36" width="4.53" height="4.48" fill="#ee8890"/>
<rect x="391.12" y="263.36" width="4.53" height="4.48" fill="#e0282e"/>
<rect x="396.74" y="263.36" width="4.53" height="4.48" fill="#e0282e"/>
<rect x="402.37" y="263.36" width="4.53" height="4.48" fill="#ee8890"/>
<rect x="408.00" y="263.36" width="4.53" height="4.48" fill="#f4e6f0"/>
<rect x="413.62" y="263.36" width="4.53" height="4.48" fill="#aaaae4"/>
<rect x="419.25" y="263.36" width="4.53" height="4.48" fill="#aaaae4"/>
<rect x="424.88" y="263.36" width="4.53" height="4.48" fill="#f4e6f0"/>
<rect x="430.50" y="263.36" width="4.53" height="4.48" fill="#2d2ea2"/>
<rect x="436.13" y="263.36" width="4.53" height="4.48" fill="#e0282e"/>
<rect x="441.76" y="263.36" width="4.53" height="4.48" fill="#ee8890"/>
<rect x="447.38" y="263.36" width="4.53" height="4.48" fill="#ee8890"/>
<rect x="453.01" y="263.36" width="4.53" height="4.48" fill="#f4e6f0"/>
<rect x="458.64" y="263.36" width="4.53" height="4.48" fill="#f4e6f0"/>
<rect x="464.26" y="263.36" width="4.53" height="4.48" fill="#f4e6f0"/>
<rect x="469.89" y="263.36" width="4.53" height="4.48" fill="#f4e6f0"/>
<rect x="475.52" y="263.36" width="4.53" height="4.48" fill="#e0282e"/>
<rect x="481.14" y="263.36" width="4.53" height="4.48" fill="#ee8890"/>
<rect x="486.77" y="263.36" width="4.53" height="4.48" fill="#ee8890"/>
<rect x="492.40" y="263.36" width="4.53" height="4.48" fill="#f4e6f0"/>
<rect x="498.02" y="263.36" width="4.53" height="4.48" fill="#ee8890"/>
<rect x="334.85" y="268.94" width="4.53" height="4.48" fill="#f4e6f0"/>
<rect x="340.48" y="268.94" width="4.53" height="4.48" fill="#ee8890"/>
<rect x="346.10" y="268.94" width="4.53" height="4.48" fill="#e0282e"/>
<rect x="351.73" y="268.94" width="4.53" height="4.48" fill="#f4e6f0"/>
<rect x="357.36" y="268.94" width="4.53" height="4.48" fill="#e0282e"/>
<rect x="362.98" y="268.94" width="4.53" height="4.48" fill="#f4e6f0"/>
<rect x="368.61" y="268.94" width="4.53" height="4.48" fill="#f4e6f0"/>
<rect x="374.24" y="268.94" width="4.53" height="4.48" fill="#ee8890"/>
<rect x="379.86" y="268.94" width="4.53" height="4.48" fill="#3a42b2"/>
<rect x="385.49" y="268.94" width="4.53" height="4.48" fill="#e0282e"/>
<rect x="391.12" y="268.94" width="4.53" height="4.48" fill="#ee8890"/>
<rect x="396.74" y="268.94" width="4.53" height="4.48" fill="#aaaae4"/>
<rect x="402.37" y="268.94" width="4.53" height="4.48" fill="#f4e6f0"/>
<rect x="408.00" y="268.94" width="4.53" height="4.48" fill="#f4e6f0"/>
<rect x="413.62" y="268.94" width="4.53" height="4.48" fill="#f4e6f0"/>
<rect x="419.25" y="268.94" width="4.53" height="4.48" fill="#ee8890"/>
<rect x="424.88" y="268.94" width="4.53" height="4.48" fill="#ee8890"/>
<rect x="430.50" y="268.94" width="4.53" height="4.48" fill="#ee8890"/>
<rect x="436.13" y="268.94" width="4.53" height="4.48" fill="#ee8890"/>
<rect x="441.76" y="268.94" width="4.53" height="4.48" fill="#f4e6f0"/>
<rect x="447.38" y="268.94" width="4.53" height="4.48" fill="#3a42b2"/>
<rect x="453.01" y="268.94" width="4.53" height="4.48" fill="#3a42b2"/>
<rect x="458.64" y="268.94" width="4.53" height="4.48" fill="#e0282e"/>
<rect x="464.26" y="268.94" width="4.53" height="4.48" fill="#e0282e"/>
<rect x="469.89" y="268.94" width="4.53" height="4.48" fill="#f4e6f0"/>
<rect x="475.52" y="268.94" width="4.53" height="4.48" fill="#6a6cca"/>
<rect x="481.14" y="268.94" width="4.53" height="4.48" fill="#ee8890"/>
<rect x="486.77" y="268.94" width="4.53" height="4.48" fill="#ee8890"/>
<rect x="492.40" y="268.94" width="4.53" height="4.48" fill="#e0282e"/>
<rect x="498.02" y="268.94" width="4.53" height="4.48" fill="#e0282e"/>
<rect x="334.85" y="274.53" width="4.53" height="4.48" fill="#ee8890"/>
<rect x="340.48" y="274.53" width="4.53" height="4.48" fill="#382cab"/>
<rect x="346.10" y="274.53" width="4.53" height="4.48" fill="#f4e6f0"/>
<rect x="351.73" y="274.53" width="4.53" height="4.48" fill="#3a42b2"/>
<rect x="357.36" y="274.53" width="4.53" height="4.48" fill="#3529a6"/>
<rect x="362.98" y="274.53" width="4.53" height="4.48" fill="#2d2ea2"/>
<rect x="368.61" y="274.53" width="4.53" height="4.48" fill="#f4e6f0"/>
<rect x="374.24" y="274.53" width="4.53" height="4.48" fill="#3028a0"/>
<rect x="379.86" y="274.53" width="4.53" height="4.48" fill="#f4e6f0"/>
<rect x="385.49" y="274.53" width="4.53" height="4.48" fill="#2d2ea2"/>
<rect x="391.12" y="274.53" width="4.53" height="4.48" fill="#3a42b2"/>
<rect x="396.74" y="274.53" width="4.53" height="4.48" fill="#3529a6"/>
<rect x="402.37" y="274.53" width="4.53" height="4.48" fill="#6a6cca"/>
<rect x="408.00" y="274.53" width="4.53" height="4.48" fill="#3028a0"/>
<rect x="413.62" y="274.53" width="4.53" height="4.48" fill="#f4e6f0"/>
<rect x="419.25" y="274.53" width="4.53" height="4.48" fill="#2c33a0"/>
<rect x="424.88" y="274.53" width="4.53" height="4.48" fill="#2d2ea2"/>
<rect x="430.50" y="274.53" width="4.53" height="4.48" fill="#3028a0"/>
<rect x="436.13" y="274.53" width="4.53" height="4.48" fill="#f4e6f0"/>
<rect x="441.76" y="274.53" width="4.53" height="4.48" fill="#2c33a0"/>
<rect x="447.38" y="274.53" width="4.53" height="4.48" fill="#6a6cca"/>
<rect x="453.01" y="274.53" width="4.53" height="4.48" fill="#3028a0"/>
<rect x="458.64" y="274.53" width="4.53" height="4.48" fill="#2d2ea2"/>
<rect x="464.26" y="274.53" width="4.53" height="4.48" fill="#3529a6"/>
<rect x="469.89" y="274.53" width="4.53" height="4.48" fill="#382cab"/>
<rect x="475.52" y="274.53" width="4.53" height="4.48" fill="#382cab"/>
<rect x="481.14" y="274.53" width="4.53" height="4.48" fill="#2d2ea2"/>
<rect x="486.77" y="274.53" width="4.53" height="4.48" fill="#382cab"/>
<rect x="492.40" y="274.53" width="4.53" height="4.48" fill="#382cab"/>
<rect x="498.02" y="274.53" width="4.53" height="4.48" fill="#382cab"/>
<rect x="334.85" y="280.11" width="4.53" height="4.48" fill="#2d2ea2"/>
<rect x="340.48" y="280.11" width="4.53" height="4.48" fill="#2c33a0"/>
<rect x="346.10" y="280.11" width="4.53" height="4.48" fill="#3028a0"/>
<rect x="351.73" y="280.11" width="4.53" height="4.48" fill="#3529a6"/>
<rect x="357.36" y="280.11" width="4.53" height="4.48" fill="#aaaae4"/>
<rect x="362.98" y="280.11" width="4.53" height="4.48" fill="#3028a0"/>
<rect x="368.61" y="280.11" width="4.53" height="4.48" fill="#2d2ea2"/>
<rect x="374.24" y="280.11" width="4.53" height="4.48" fill="#382cab"/>
<rect x="379.86" y="280.11" width="4.53" height="4.48" fill="#f4e6f0"/>
<rect x="385.49" y="280.11" width="4.53" height="4.48" fill="#f4e6f0"/>
<rect x="391.12" y="280.11" width="4.53" height="4.48" fill="#aaaae4"/>
<rect x="396.74" y="280.11" width="4.53" height="4.48" fill="#6a6cca"/>
<rect x="402.37" y="280.11" width="4.53" height="4.48" fill="#382cab"/>
<rect x="408.00" y="280.11" width="4.53" height="4.48" fill="#3529a6"/>
<rect x="413.62" y="280.11" width="4.53" height="4.48" fill="#2d2ea2"/>
<rect x="419.25" y="280.11" width="4.53" height="4.48" fill="#3529a6"/>
<rect x="424.88" y="280.11" width="4.53" height="4.48" fill="#6a6cca"/>
<rect x="430.50" y="280.11" width="4.53" height="4.48" fill="#2d2ea2"/>
<rect x="436.13" y="280.11" width="4.53" height="4.48" fill="#3028a0"/>
<rect x="441.76" y="280.11" width="4.53" height="4.48" fill="#2d2ea2"/>
<rect x="447.38" y="280.11" width="4.53" height="4.48" fill="#3529a6"/>
<rect x="453.01" y="280.11" width="4.53" height="4.48" fill="#3529a6"/>
<rect x="458.64" y="280.11" width="4.53" height="4.48" fill="#aaaae4"/>
<rect x="464.26" y="280.11" width="4.53" height="4.48" fill="#3a42b2"/>
<rect x="469.89" y="280.11" width="4.53" height="4.48" fill="#382cab"/>
<rect x="475.52" y="280.11" width="4.53" height="4.48" fill="#2d2ea2"/>
<rect x="481.14" y="280.11" width="4.53" height="4.48" fill="#382cab"/>
<rect x="486.77" y="280.11" width="4.53" height="4.48" fill="#3028a0"/>
<rect x="492.40" y="280.11" width="4.53" height="4.48" fill="#382cab"/>
<rect x="498.02" y="280.11" width="4.53" height="4.48" fill="#382cab"/>
<rect x="334.85" y="285.70" width="4.53" height="4.48" fill="#2d2ea2"/>
<rect x="340.48" y="285.70" width="4.53" height="4.48" fill="#f4e6f0"/>
<rect x="346.10" y="285.70" width="4.53" height="4.48" fill="#aaaae4"/>
<rect x="351.73" y="285.70" width="4.53" height="4.48" fill="#f4e6f0"/>
<rect x="357.36" y="285.70" width="4.53" height="4.48" fill="#f4e6f0"/>
<rect x="362.98" y="285.70" width="4.53" height="4.48" fill="#f4e6f0"/>
<rect x="368.61" y="285.70" width="4.53" height="4.48" fill="#f4e6f0"/>
<rect x="374.24" y="285.70" width="4.53" height="4.48" fill="#6a6cca"/>
<rect x="379.86" y="285.70" width="4.53" height="4.48" fill="#3028a0"/>
<rect x="385.49" y="285.70" width="4.53" height="4.48" fill="#2c33a0"/>
<rect x="391.12" y="285.70" width="4.53" height="4.48" fill="#2d2ea2"/>
<rect x="396.74" y="285.70" width="4.53" height="4.48" fill="#aaaae4"/>
<rect x="402.37" y="285.70" width="4.53" height="4.48" fill="#ee8890"/>
<rect x="408.00" y="285.70" width="4.53" height="4.48" fill="#f4e6f0"/>
<rect x="413.62" y="285.70" width="4.53" height="4.48" fill="#6a6cca"/>
<rect x="419.25" y="285.70" width="4.53" height="4.48" fill="#2d2ea2"/>
<rect x="424.88" y="285.70" width="4.53" height="4.48" fill="#f4e6f0"/>
<rect x="430.50" y="285.70" width="4.53" height="4.48" fill="#382cab"/>
<rect x="436.13" y="285.70" width="4.53" height="4.48" fill="#6a6cca"/>
<rect x="441.76" y="285.70" width="4.53" height="4.48" fill="#2c33a0"/>
<rect x="447.38" y="285.70" width="4.53" height="4.48" fill="#aaaae4"/>
<rect x="453.01" y="285.70" width="4.53" height="4.48" fill="#aaaae4"/>
<rect x="458.64" y="285.70" width="4.53" height="4.48" fill="#3529a6"/>
<rect x="464.26" y="285.70" width="4.53" height="4.48" fill="#6a6cca"/>
<rect x="469.89" y="285.70" width="4.53" height="4.48" fill="#6a6cca"/>
<rect x="475.52" y="285.70" width="4.53" height="4.48" fill="#2d2ea2"/>
<rect x="481.14" y="285.70" width="4.53" height="4.48" fill="#f4e6f0"/>
<rect x="486.77" y="285.70" width="4.53" height="4.48" fill="#aaaae4"/>
<rect x="492.40" y="285.70" width="4.53" height="4.48" fill="#aaaae4"/>
<rect x="498.02" y="285.70" width="4.53" height="4.48" fill="#382cab"/>
<rect x="334.85" y="291.28" width="4.53" height="4.48" fill="#6a6cca"/>
<rect x="340.48" y="291.28" width="4.53" height="4.48" fill="#2d2ea2"/>
<rect x="346.10" y="291.28" width="4.53" height="4.48" fill="#382cab"/>
<rect x="351.73" y="291.28" width="4.53" height="4.48" fill="#2c33a0"/>
<rect x="357.36" y="291.28" width="4.53" height="4.48" fill="#6a6cca"/>
<rect x="362.98" y="291.28" width="4.53" height="4.48" fill="#3529a6"/>
<rect x="368.61" y="291.28" width="4.53" height="4.48" fill="#6a6cca"/>
<rect x="374.24" y="291.28" width="4.53" height="4.48" fill="#2d2ea2"/>
<rect x="379.86" y="291.28" width="4.53" height="4.48" fill="#382cab"/>
<rect x="385.49" y="291.28" width="4.53" height="4.48" fill="#f4e6f0"/>
<rect x="391.12" y="291.28" width="4.53" height="4.48" fill="#2c33a0"/>
<rect x="396.74" y="291.28" width="4.53" height="4.48" fill="#2c33a0"/>
<rect x="402.37" y="291.28" width="4.53" height="4.48" fill="#382cab"/>
<rect x="408.00" y="291.28" width="4.53" height="4.48" fill="#6a6cca"/>
<rect x="413.62" y="291.28" width="4.53" height="4.48" fill="#6a6cca"/>
<rect x="419.25" y="291.28" width="4.53" height="4.48" fill="#3529a6"/>
<rect x="424.88" y="291.28" width="4.53" height="4.48" fill="#382cab"/>
<rect x="430.50" y="291.28" width="4.53" height="4.48" fill="#2d2ea2"/>
<rect x="436.13" y="291.28" width="4.53" height="4.48" fill="#3529a6"/>
<rect x="441.76" y="291.28" width="4.53" height="4.48" fill="#f4e6f0"/>
<rect x="447.38" y="291.28" width="4.53" height="4.48" fill="#2d2ea2"/>
<rect x="453.01" y="291.28" width="4.53" height="4.48" fill="#3028a0"/>
<rect x="458.64" y="291.28" width="4.53" height="4.48" fill="#f4e6f0"/>
<rect x="464.26" y="291.28" width="4.53" height="4.48" fill="#aaaae4"/>
<rect x="469.89" y="291.28" width="4.53" height="4.48" fill="#2d2ea2"/>
<rect x="475.52" y="291.28" width="4.53" height="4.48" fill="#2d2ea2"/>
<rect x="481.14" y="291.28" width="4.53" height="4.48" fill="#6a6cca"/>
<rect x="486.77" y="291.28" width="4.53" height="4.48" fill="#3529a6"/>
<rect x="492.40" y="291.28" width="4.53" height="4.48" fill="#3a42b2"/>
<rect x="498.02" y="291.28" width="4.53" height="4.48" fill="#3529a6"/>
<rect x="334.85" y="296.87" width="4.53" height="4.48" fill="#2d2ea2"/>
<rect x="340.48" y="296.87" width="4.53" height="4.48" fill="#f4e6f0"/>
<rect x="346.10" y="296.87" width="4.53" height="4.48" fill="#f4e6f0"/>
<rect x="351.73" y="296.87" width="4.53" height="4.48" fill="#382cab"/>
<rect x="357.36" y="296.87" width="4.53" height="4.48" fill="#6a6cca"/>
<rect x="362.98" y="296.87" width="4.53" height="4.48" fill="#6a6cca"/>
<rect x="368.61" y="296.87" width="4.53" height="4.48" fill="#3529a6"/>
<rect x="374.24" y="296.87" width="4.53" height="4.48" fill="#f4e6f0"/>
<rect x="379.86" y="296.87" width="4.53" height="4.48" fill="#382cab"/>
<rect x="385.49" y="296.87" width="4.53" height="4.48" fill="#f4e6f0"/>
<rect x="391.12" y="296.87" width="4.53" height="4.48" fill="#6a6cca"/>
<rect x="396.74" y="296.87" width="4.53" height="4.48" fill="#6a6cca"/>
<rect x="402.37" y="296.87" width="4.53" height="4.48" fill="#2d2ea2"/>
<rect x="408.00" y="296.87" width="4.53" height="4.48" fill="#f4e6f0"/>
<rect x="413.62" y="296.87" width="4.53" height="4.48" fill="#382cab"/>
<rect x="419.25" y="296.87" width="4.53" height="4.48" fill="#3028a0"/>
<rect x="424.88" y="296.87" width="4.53" height="4.48" fill="#3028a0"/>
<rect x="430.50" y="296.87" width="4.53" height="4.48" fill="#2c33a0"/>
<rect x="436.13" y="296.87" width="4.53" height="4.48" fill="#2c33a0"/>
<rect x="441.76" y="296.87" width="4.53" height="4.48" fill="#6a6cca"/>
<rect x="447.38" y="296.87" width="4.53" height="4.48" fill="#3529a6"/>
<rect x="453.01" y="296.87" width="4.53" height="4.48" fill="#3028a0"/>
<rect x="458.64" y="296.87" width="4.53" height="4.48" fill="#6a6cca"/>
<rect x="464.26" y="296.87" width="4.53" height="4.48" fill="#6a6cca"/>
<rect x="469.89" y="296.87" width="4.53" height="4.48" fill="#6a6cca"/>
<rect x="475.52" y="296.87" width="4.53" height="4.48" fill="#2c33a0"/>
<rect x="481.14" y="296.87" width="4.53" height="4.48" fill="#6a6cca"/>
<rect x="486.77" y="296.87" width="4.53" height="4.48" fill="#2d2ea2"/>
<rect x="492.40" y="296.87" width="4.53" height="4.48" fill="#3529a6"/>
<rect x="498.02" y="296.87" width="4.53" height="4.48" fill="#2c33a0"/>
<rect x="135.00" y="754.50" width="168.00" height="73.00" fill="#141238"/>
<rect x="135.55" y="755.05" width="4.50" height="4.52" fill="#f4e6f0"/>
<rect x="141.15" y="755.05" width="4.50" height="4.52" fill="#6a6cca"/>
<rect x="146.75" y="755.05" width="4.50" height="4.52" fill="#382cab"/>
<rect x="152.35" y="755.05" width="4.50" height="4.52" fill="#3529a6"/>
<rect x="157.95" y="755.05" width="4.50" height="4.52" fill="#f4e6f0"/>
<rect x="163.55" y="755.05" width="4.50" height="4.52" fill="#f4e6f0"/>
<rect x="169.15" y="755.05" width="4.50" height="4.52" fill="#2d2ea2"/>
<rect x="174.75" y="755.05" width="4.50" height="4.52" fill="#f4e6f0"/>
<rect x="180.35" y="755.05" width="4.50" height="4.52" fill="#382cab"/>
<rect x="185.95" y="755.05" width="4.50" height="4.52" fill="#6a6cca"/>
<rect x="191.55" y="755.05" width="4.50" height="4.52" fill="#382cab"/>
<rect x="197.15" y="755.05" width="4.50" height="4.52" fill="#2c33a0"/>
<rect x="202.75" y="755.05" width="4.50" height="4.52" fill="#6a6cca"/>
<rect x="208.35" y="755.05" width="4.50" height="4.52" fill="#f4e6f0"/>
<rect x="213.95" y="755.05" width="4.50" height="4.52" fill="#2c33a0"/>
<rect x="219.55" y="755.05" width="4.50" height="4.52" fill="#2c33a0"/>
<rect x="225.15" y="755.05" width="4.50" height="4.52" fill="#f4e6f0"/>
<rect x="230.75" y="755.05" width="4.50" height="4.52" fill="#f4e6f0"/>
<rect x="236.35" y="755.05" width="4.50" height="4.52" fill="#6a6cca"/>
<rect x="241.95" y="755.05" width="4.50" height="4.52" fill="#2c33a0"/>
<rect x="247.55" y="755.05" width="4.50" height="4.52" fill="#2d2ea2"/>
<rect x="253.15" y="755.05" width="4.50" height="4.52" fill="#3529a6"/>
<rect x="258.75" y="755.05" width="4.50" height="4.52" fill="#3028a0"/>
<rect x="264.35" y="755.05" width="4.50" height="4.52" fill="#3028a0"/>
<rect x="269.95" y="755.05" width="4.50" height="4.52" fill="#6a6cca"/>
<rect x="275.55" y="755.05" width="4.50" height="4.52" fill="#ee8890"/>
<rect x="281.15" y="755.05" width="4.50" height="4.52" fill="#aaaae4"/>
<rect x="286.75" y="755.05" width="4.50" height="4.52" fill="#2d2ea2"/>
<rect x="292.35" y="755.05" width="4.50" height="4.52" fill="#3028a0"/>
<rect x="297.95" y="755.05" width="4.50" height="4.52" fill="#aaaae4"/>
<rect x="135.55" y="760.67" width="4.50" height="4.52" fill="#2c33a0"/>
<rect x="141.15" y="760.67" width="4.50" height="4.52" fill="#f4e6f0"/>
<rect x="146.75" y="760.67" width="4.50" height="4.52" fill="#aaaae4"/>
<rect x="152.35" y="760.67" width="4.50" height="4.52" fill="#f4e6f0"/>
<rect x="157.95" y="760.67" width="4.50" height="4.52" fill="#3028a0"/>
<rect x="163.55" y="760.67" width="4.50" height="4.52" fill="#3028a0"/>
<rect x="169.15" y="760.67" width="4.50" height="4.52" fill="#f4e6f0"/>
<rect x="174.75" y="760.67" width="4.50" height="4.52" fill="#6a6cca"/>
<rect x="180.35" y="760.67" width="4.50" height="4.52" fill="#f4e6f0"/>
<rect x="185.95" y="760.67" width="4.50" height="4.52" fill="#f4e6f0"/>
<rect x="191.55" y="760.67" width="4.50" height="4.52" fill="#382cab"/>
<rect x="197.15" y="760.67" width="4.50" height="4.52" fill="#aaaae4"/>
<rect x="202.75" y="760.67" width="4.50" height="4.52" fill="#ee8890"/>
<rect x="208.35" y="760.67" width="4.50" height="4.52" fill="#2d2ea2"/>
<rect x="213.95" y="760.67" width="4.50" height="4.52" fill="#2d2ea2"/>
<rect x="219.55" y="760.67" width="4.50" height="4.52" fill="#aaaae4"/>
<rect x="225.15" y="760.67" width="4.50" height="4.52" fill="#f4e6f0"/>
<rect x="230.75" y="760.67" width="4.50" height="4.52" fill="#2c33a0"/>
<rect x="236.35" y="760.67" width="4.50" height="4.52" fill="#2c33a0"/>
<rect x="241.95" y="760.67" width="4.50" height="4.52" fill="#ee8890"/>
<rect x="247.55" y="760.67" width="4.50" height="4.52" fill="#e0282e"/>
<rect x="253.15" y="760.67" width="4.50" height="4.52" fill="#ee8890"/>
<rect x="258.75" y="760.67" width="4.50" height="4.52" fill="#ee8890"/>
<rect x="264.35" y="760.67" width="4.50" height="4.52" fill="#f4e6f0"/>
<rect x="269.95" y="760.67" width="4.50" height="4.52" fill="#f4e6f0"/>
<rect x="275.55" y="760.67" width="4.50" height="4.52" fill="#aaaae4"/>
<rect x="281.15" y="760.67" width="4.50" height="4.52" fill="#f4e6f0"/>
<rect x="286.75" y="760.67" width="4.50" height="4.52" fill="#ee8890"/>
<rect x="292.35" y="760.67" width="4.50" height="4.52" fill="#f4e6f0"/>
<rect x="297.95" y="760.67" width="4.50" height="4.52" fill="#2c33a0"/>
<rect x="135.55" y="766.28" width="4.50" height="4.52" fill="#2d2ea2"/>
<rect x="141.15" y="766.28" width="4.50" height="4.52" fill="#3529a6"/>
<rect x="146.75" y="766.28" width="4.50" height="4.52" fill="#3028a0"/>
<rect x="152.35" y="766.28" width="4.50" height="4.52" fill="#382cab"/>
<rect x="157.95" y="766.28" width="4.50" height="4.52" fill="#382cab"/>
<rect x="163.55" y="766.28" width="4.50" height="4.52" fill="#3529a6"/>
<rect x="169.15" y="766.28" width="4.50" height="4.52" fill="#2d2ea2"/>
<rect x="174.75" y="766.28" width="4.50" height="4.52" fill="#f4e6f0"/>
<rect x="180.35" y="766.28" width="4.50" height="4.52" fill="#6a6cca"/>
<rect x="185.95" y="766.28" width="4.50" height="4.52" fill="#382cab"/>
<rect x="191.55" y="766.28" width="4.50" height="4.52" fill="#2d2ea2"/>
<rect x="197.15" y="766.28" width="4.50" height="4.52" fill="#f4e6f0"/>
<rect x="202.75" y="766.28" width="4.50" height="4.52" fill="#3529a6"/>
<rect x="208.35" y="766.28" width="4.50" height="4.52" fill="#3529a6"/>
<rect x="213.95" y="766.28" width="4.50" height="4.52" fill="#382cab"/>
<rect x="219.55" y="766.28" width="4.50" height="4.52" fill="#f4e6f0"/>
<rect x="225.15" y="766.28" width="4.50" height="4.52" fill="#382cab"/>
<rect x="230.75" y="766.28" width="4.50" height="4.52" fill="#aaaae4"/>
<rect x="236.35" y="766.28" width="4.50" height="4.52" fill="#382cab"/>
<rect x="241.95" y="766.28" width="4.50" height="4.52" fill="#2c33a0"/>
<rect x="247.55" y="766.28" width="4.50" height="4.52" fill="#3529a6"/>
<rect x="253.15" y="766.28" width="4.50" height="4.52" fill="#2d2ea2"/>
<rect x="258.75" y="766.28" width="4.50" height="4.52" fill="#2d2ea2"/>
<rect x="264.35" y="766.28" width="4.50" height="4.52" fill="#f4e6f0"/>
<rect x="269.95" y="766.28" width="4.50" height="4.52" fill="#3529a6"/>
<rect x="275.55" y="766.28" width="4.50" height="4.52" fill="#2d2ea2"/>
<rect x="281.15" y="766.28" width="4.50" height="4.52" fill="#f4e6f0"/>
<rect x="286.75" y="766.28" width="4.50" height="4.52" fill="#382cab"/>
<rect x="292.35" y="766.28" width="4.50" height="4.52" fill="#2c33a0"/>
<rect x="297.95" y="766.28" width="4.50" height="4.52" fill="#382cab"/>
<rect x="135.55" y="771.90" width="4.50" height="4.52" fill="#6a6cca"/>
<rect x="141.15" y="771.90" width="4.50" height="4.52" fill="#3529a6"/>
<rect x="146.75" y="771.90" width="4.50" height="4.52" fill="#382cab"/>
<rect x="152.35" y="771.90" width="4.50" height="4.52" fill="#f4e6f0"/>
<rect x="157.95" y="771.90" width="4.50" height="4.52" fill="#ee8890"/>
<rect x="163.55" y="771.90" width="4.50" height="4.52" fill="#aaaae4"/>
<rect x="169.15" y="771.90" width="4.50" height="4.52" fill="#6a6cca"/>
<rect x="174.75" y="771.90" width="4.50" height="4.52" fill="#2c33a0"/>
<rect x="180.35" y="771.90" width="4.50" height="4.52" fill="#382cab"/>
<rect x="185.95" y="771.90" width="4.50" height="4.52" fill="#ee8890"/>
<rect x="191.55" y="771.90" width="4.50" height="4.52" fill="#3529a6"/>
<rect x="197.15" y="771.90" width="4.50" height="4.52" fill="#aaaae4"/>
<rect x="202.75" y="771.90" width="4.50" height="4.52" fill="#3028a0"/>
<rect x="208.35" y="771.90" width="4.50" height="4.52" fill="#aaaae4"/>
<rect x="213.95" y="771.90" width="4.50" height="4.52" fill="#ee8890"/>
<rect x="219.55" y="771.90" width="4.50" height="4.52" fill="#ee8890"/>
<rect x="225.15" y="771.90" width="4.50" height="4.52" fill="#f4e6f0"/>
<rect x="230.75" y="771.90" width="4.50" height="4.52" fill="#aaaae4"/>
<rect x="236.35" y="771.90" width="4.50" height="4.52" fill="#f4e6f0"/>
<rect x="241.95" y="771.90" width="4.50" height="4.52" fill="#f4e6f0"/>
<rect x="247.55" y="771.90" width="4.50" height="4.52" fill="#6a6cca"/>
<rect x="253.15" y="771.90" width="4.50" height="4.52" fill="#6a6cca"/>
<rect x="258.75" y="771.90" width="4.50" height="4.52" fill="#6a6cca"/>
<rect x="264.35" y="771.90" width="4.50" height="4.52" fill="#2c33a0"/>
<rect x="269.95" y="771.90" width="4.50" height="4.52" fill="#ee8890"/>
<rect x="275.55" y="771.90" width="4.50" height="4.52" fill="#3529a6"/>
<rect x="281.15" y="771.90" width="4.50" height="4.52" fill="#f4e6f0"/>
<rect x="286.75" y="771.90" width="4.50" height="4.52" fill="#f4e6f0"/>
<rect x="292.35" y="771.90" width="4.50" height="4.52" fill="#6a6cca"/>
<rect x="297.95" y="771.90" width="4.50" height="4.52" fill="#e0282e"/>
<rect x="135.55" y="777.51" width="4.50" height="4.52" fill="#6a6cca"/>
<rect x="141.15" y="777.51" width="4.50" height="4.52" fill="#382cab"/>
<rect x="146.75" y="777.51" width="4.50" height="4.52" fill="#2c33a0"/>
<rect x="152.35" y="777.51" width="4.50" height="4.52" fill="#3028a0"/>
<rect x="157.95" y="777.51" width="4.50" height="4.52" fill="#3028a0"/>
<rect x="163.55" y="777.51" width="4.50" height="4.52" fill="#2d2ea2"/>
<rect x="169.15" y="777.51" width="4.50" height="4.52" fill="#f4e6f0"/>
<rect x="174.75" y="777.51" width="4.50" height="4.52" fill="#382cab"/>
<rect x="180.35" y="777.51" width="4.50" height="4.52" fill="#3028a0"/>
<rect x="185.95" y="777.51" width="4.50" height="4.52" fill="#ee8890"/>
<rect x="191.55" y="777.51" width="4.50" height="4.52" fill="#2d2ea2"/>
<rect x="197.15" y="777.51" width="4.50" height="4.52" fill="#f4e6f0"/>
<rect x="202.75" y="777.51" width="4.50" height="4.52" fill="#6a6cca"/>
<rect x="208.35" y="777.51" width="4.50" height="4.52" fill="#f4e6f0"/>
<rect x="213.95" y="777.51" width="4.50" height="4.52" fill="#3028a0"/>
<rect x="219.55" y="777.51" width="4.50" height="4.52" fill="#f4e6f0"/>
<rect x="225.15" y="777.51" width="4.50" height="4.52" fill="#f4e6f0"/>
<rect x="230.75" y="777.51" width="4.50" height="4.52" fill="#f4e6f0"/>
<rect x="236.35" y="777.51" width="4.50" height="4.52" fill="#2c33a0"/>
<rect x="241.95" y="777.51" width="4.50" height="4.52" fill="#2c33a0"/>
<rect x="247.55" y="777.51" width="4.50" height="4.52" fill="#aaaae4"/>
<rect x="253.15" y="777.51" width="4.50" height="4.52" fill="#6a6cca"/>
<rect x="258.75" y="777.51" width="4.50" height="4.52" fill="#2d2ea2"/>
<rect x="264.35" y="777.51" width="4.50" height="4.52" fill="#3028a0"/>
<rect x="269.95" y="777.51" width="4.50" height="4.52" fill="#ee8890"/>
<rect x="275.55" y="777.51" width="4.50" height="4.52" fill="#2c33a0"/>
<rect x="281.15" y="777.51" width="4.50" height="4.52" fill="#2d2ea2"/>
<rect x="286.75" y="777.51" width="4.50" height="4.52" fill="#382cab"/>
<rect x="292.35" y="777.51" width="4.50" height="4.52" fill="#2d2ea2"/>
<rect x="297.95" y="777.51" width="4.50" height="4.52" fill="#ee8890"/>
<rect x="135.55" y="783.13" width="4.50" height="4.52" fill="#3529a6"/>
<rect x="141.15" y="783.13" width="4.50" height="4.52" fill="#6a6cca"/>
<rect x="146.75" y="783.13" width="4.50" height="4.52" fill="#3529a6"/>
<rect x="152.35" y="783.13" width="4.50" height="4.52" fill="#6a6cca"/>
<rect x="157.95" y="783.13" width="4.50" height="4.52" fill="#f4e6f0"/>
<rect x="163.55" y="783.13" width="4.50" height="4.52" fill="#f4e6f0"/>
<rect x="169.15" y="783.13" width="4.50" height="4.52" fill="#f4e6f0"/>
<rect x="174.75" y="783.13" width="4.50" height="4.52" fill="#6a6cca"/>
<rect x="180.35" y="783.13" width="4.50" height="4.52" fill="#2c33a0"/>
<rect x="185.95" y="783.13" width="4.50" height="4.52" fill="#3028a0"/>
<rect x="191.55" y="783.13" width="4.50" height="4.52" fill="#382cab"/>
<rect x="197.15" y="783.13" width="4.50" height="4.52" fill="#ee8890"/>
<rect x="202.75" y="783.13" width="4.50" height="4.52" fill="#ee8890"/>
<rect x="208.35" y="783.13" width="4.50" height="4.52" fill="#ee8890"/>
<rect x="213.95" y="783.13" width="4.50" height="4.52" fill="#6a6cca"/>
<rect x="219.55" y="783.13" width="4.50" height="4.52" fill="#f4e6f0"/>
<rect x="225.15" y="783.13" width="4.50" height="4.52" fill="#3028a0"/>
<rect x="230.75" y="783.13" width="4.50" height="4.52" fill="#6a6cca"/>
<rect x="236.35" y="783.13" width="4.50" height="4.52" fill="#f4e6f0"/>
<rect x="241.95" y="783.13" width="4.50" height="4.52" fill="#3028a0"/>
<rect x="247.55" y="783.13" width="4.50" height="4.52" fill="#f4e6f0"/>
<rect x="253.15" y="783.13" width="4.50" height="4.52" fill="#aaaae4"/>
<rect x="258.75" y="783.13" width="4.50" height="4.52" fill="#aaaae4"/>
<rect x="264.35" y="783.13" width="4.50" height="4.52" fill="#6a6cca"/>
<rect x="269.95" y="783.13" width="4.50" height="4.52" fill="#2d2ea2"/>
<rect x="275.55" y="783.13" width="4.50" height="4.52" fill="#2c33a0"/>
<rect x="281.15" y="783.13" width="4.50" height="4.52" fill="#aaaae4"/>
<rect x="286.75" y="783.13" width="4.50" height="4.52" fill="#3529a6"/>
<rect x="292.35" y="783.13" width="4.50" height="4.52" fill="#aaaae4"/>
<rect x="297.95" y="783.13" width="4.50" height="4.52" fill="#ee8890"/>
<rect x="135.55" y="788.74" width="4.50" height="4.52" fill="#2c33a0"/>
<rect x="141.15" y="788.74" width="4.50" height="4.52" fill="#2d2ea2"/>
<rect x="146.75" y="788.74" width="4.50" height="4.52" fill="#3529a6"/>
<rect x="152.35" y="788.74" width="4.50" height="4.52" fill="#382cab"/>
<rect x="157.95" y="788.74" width="4.50" height="4.52" fill="#3028a0"/>
<rect x="163.55" y="788.74" width="4.50" height="4.52" fill="#382cab"/>
<rect x="169.15" y="788.74" width="4.50" height="4.52" fill="#3529a6"/>
<rect x="174.75" y="788.74" width="4.50" height="4.52" fill="#aaaae4"/>
<rect x="180.35" y="788.74" width="4.50" height="4.52" fill="#f4e6f0"/>
<rect x="185.95" y="788.74" width="4.50" height="4.52" fill="#3529a6"/>
<rect x="191.55" y="788.74" width="4.50" height="4.52" fill="#3028a0"/>
<rect x="197.15" y="788.74" width="4.50" height="4.52" fill="#aaaae4"/>
<rect x="202.75" y="788.74" width="4.50" height="4.52" fill="#6a6cca"/>
<rect x="208.35" y="788.74" width="4.50" height="4.52" fill="#f4e6f0"/>
<rect x="213.95" y="788.74" width="4.50" height="4.52" fill="#382cab"/>
<rect x="219.55" y="788.74" width="4.50" height="4.52" fill="#3a42b2"/>
<rect x="225.15" y="788.74" width="4.50" height="4.52" fill="#3529a6"/>
<rect x="230.75" y="788.74" width="4.50" height="4.52" fill="#f4e6f0"/>
<rect x="236.35" y="788.74" width="4.50" height="4.52" fill="#2d2ea2"/>
<rect x="241.95" y="788.74" width="4.50" height="4.52" fill="#2d2ea2"/>
<rect x="247.55" y="788.74" width="4.50" height="4.52" fill="#2d2ea2"/>
<rect x="253.15" y="788.74" width="4.50" height="4.52" fill="#3028a0"/>
<rect x="258.75" y="788.74" width="4.50" height="4.52" fill="#ee8890"/>
<rect x="264.35" y="788.74" width="4.50" height="4.52" fill="#6a6cca"/>
<rect x="269.95" y="788.74" width="4.50" height="4.52" fill="#6a6cca"/>
<rect x="275.55" y="788.74" width="4.50" height="4.52" fill="#ee8890"/>
<rect x="281.15" y="788.74" width="4.50" height="4.52" fill="#f4e6f0"/>
<rect x="286.75" y="788.74" width="4.50" height="4.52" fill="#2c33a0"/>
<rect x="292.35" y="788.74" width="4.50" height="4.52" fill="#3529a6"/>
<rect x="297.95" y="788.74" width="4.50" height="4.52" fill="#2c33a0"/>
<rect x="135.55" y="794.36" width="4.50" height="4.52" fill="#3529a6"/>
<rect x="141.15" y="794.36" width="4.50" height="4.52" fill="#2d2ea2"/>
<rect x="146.75" y="794.36" width="4.50" height="4.52" fill="#aaaae4"/>
<rect x="152.35" y="794.36" width="4.50" height="4.52" fill="#2c33a0"/>
<rect x="157.95" y="794.36" width="4.50" height="4.52" fill="#3028a0"/>
<rect x="163.55" y="794.36" width="4.50" height="4.52" fill="#3028a0"/>
<rect x="169.15" y="794.36" width="4.50" height="4.52" fill="#3529a6"/>
<rect x="174.75" y="794.36" width="4.50" height="4.52" fill="#6a6cca"/>
<rect x="180.35" y="794.36" width="4.50" height="4.52" fill="#3529a6"/>
<rect x="185.95" y="794.36" width="4.50" height="4.52" fill="#3529a6"/>
<rect x="191.55" y="794.36" width="4.50" height="4.52" fill="#2c33a0"/>
<rect x="197.15" y="794.36" width="4.50" height="4.52" fill="#aaaae4"/>
<rect x="202.75" y="794.36" width="4.50" height="4.52" fill="#3028a0"/>
<rect x="208.35" y="794.36" width="4.50" height="4.52" fill="#3028a0"/>
<rect x="213.95" y="794.36" width="4.50" height="4.52" fill="#2c33a0"/>
<rect x="219.55" y="794.36" width="4.50" height="4.52" fill="#ee8890"/>
<rect x="225.15" y="794.36" width="4.50" height="4.52" fill="#382cab"/>
<rect x="230.75" y="794.36" width="4.50" height="4.52" fill="#ee8890"/>
<rect x="236.35" y="794.36" width="4.50" height="4.52" fill="#3529a6"/>
<rect x="241.95" y="794.36" width="4.50" height="4.52" fill="#f4e6f0"/>
<rect x="247.55" y="794.36" width="4.50" height="4.52" fill="#f4e6f0"/>
<rect x="253.15" y="794.36" width="4.50" height="4.52" fill="#2d2ea2"/>
<rect x="258.75" y="794.36" width="4.50" height="4.52" fill="#3529a6"/>
<rect x="264.35" y="794.36" width="4.50" height="4.52" fill="#6a6cca"/>
<rect x="269.95" y="794.36" width="4.50" height="4.52" fill="#aaaae4"/>
<rect x="275.55" y="794.36" width="4.50" height="4.52" fill="#6a6cca"/>
<rect x="281.15" y="794.36" width="4.50" height="4.52" fill="#f4e6f0"/>
<rect x="286.75" y="794.36" width="4.50" height="4.52" fill="#2c33a0"/>
<rect x="292.35" y="794.36" width="4.50" height="4.52" fill="#f4e6f0"/>
<rect x="297.95" y="794.36" width="4.50" height="4.52" fill="#2c33a0"/>
<rect x="135.55" y="799.97" width="4.50" height="4.52" fill="#f4e6f0"/>
<rect x="141.15" y="799.97" width="4.50" height="4.52" fill="#f4e6f0"/>
<rect x="146.75" y="799.97" width="4.50" height="4.52" fill="#e0282e"/>
<rect x="152.35" y="799.97" width="4.50" height="4.52" fill="#e0282e"/>
<rect x="157.95" y="799.97" width="4.50" height="4.52" fill="#ee8890"/>
<rect x="163.55" y="799.97" width="4.50" height="4.52" fill="#f4e6f0"/>
<rect x="169.15" y="799.97" width="4.50" height="4.52" fill="#ee8890"/>
<rect x="174.75" y="799.97" width="4.50" height="4.52" fill="#e0282e"/>
<rect x="180.35" y="799.97" width="4.50" height="4.52" fill="#aaaae4"/>
<rect x="185.95" y="799.97" width="4.50" height="4.52" fill="#e0282e"/>
<rect x="191.55" y="799.97" width="4.50" height="4.52" fill="#2c33a0"/>
<rect x="197.15" y="799.97" width="4.50" height="4.52" fill="#f4e6f0"/>
<rect x="202.75" y="799.97" width="4.50" height="4.52" fill="#f4e6f0"/>
<rect x="208.35" y="799.97" width="4.50" height="4.52" fill="#e0282e"/>
<rect x="213.95" y="799.97" width="4.50" height="4.52" fill="#f4e6f0"/>
<rect x="219.55" y="799.97" width="4.50" height="4.52" fill="#ee8890"/>
<rect x="225.15" y="799.97" width="4.50" height="4.52" fill="#aaaae4"/>
<rect x="230.75" y="799.97" width="4.50" height="4.52" fill="#ee8890"/>
<rect x="236.35" y="799.97" width="4.50" height="4.52" fill="#f4e6f0"/>
<rect x="241.95" y="799.97" width="4.50" height="4.52" fill="#f4e6f0"/>
<rect x="247.55" y="799.97" width="4.50" height="4.52" fill="#ee8890"/>
<rect x="253.15" y="799.97" width="4.50" height="4.52" fill="#ee8890"/>
<rect x="258.75" y="799.97" width="4.50" height="4.52" fill="#e0282e"/>
<rect x="264.35" y="799.97" width="4.50" height="4.52" fill="#e0282e"/>
<rect x="269.95" y="799.97" width="4.50" height="4.52" fill="#ee8890"/>
<rect x="275.55" y="799.97" width="4.50" height="4.52" fill="#e0282e"/>
<rect x="281.15" y="799.97" width="4.50" height="4.52" fill="#e0282e"/>
<rect x="286.75" y="799.97" width="4.50" height="4.52" fill="#e0282e"/>
<rect x="292.35" y="799.97" width="4.50" height="4.52" fill="#e0282e"/>
<rect x="297.95" y="799.97" width="4.50" height="4.52" fill="#ee8890"/>
<rect x="135.55" y="805.59" width="4.50" height="4.52" fill="#e0282e"/>
<rect x="141.15" y="805.59" width="4.50" height="4.52" fill="#e0282e"/>
<rect x="146.75" y="805.59" width="4.50" height="4.52" fill="#f4e6f0"/>
<rect x="152.35" y="805.59" width="4.50" height="4.52" fill="#e0282e"/>
<rect x="157.95" y="805.59" width="4.50" height="4.52" fill="#f4e6f0"/>
<rect x="163.55" y="805.59" width="4.50" height="4.52" fill="#f4e6f0"/>
<rect x="169.15" y="805.59" width="4.50" height="4.52" fill="#e0282e"/>
<rect x="174.75" y="805.59" width="4.50" height="4.52" fill="#ee8890"/>
<rect x="180.35" y="805.59" width="4.50" height="4.52" fill="#ee8890"/>
<rect x="185.95" y="805.59" width="4.50" height="4.52" fill="#ee8890"/>
<rect x="191.55" y="805.59" width="4.50" height="4.52" fill="#ee8890"/>
<rect x="197.15" y="805.59" width="4.50" height="4.52" fill="#e0282e"/>
<rect x="202.75" y="805.59" width="4.50" height="4.52" fill="#ee8890"/>
<rect x="208.35" y="805.59" width="4.50" height="4.52" fill="#e0282e"/>
<rect x="213.95" y="805.59" width="4.50" height="4.52" fill="#e0282e"/>
<rect x="219.55" y="805.59" width="4.50" height="4.52" fill="#e0282e"/>
<rect x="225.15" y="805.59" width="4.50" height="4.52" fill="#e0282e"/>
<rect x="230.75" y="805.59" width="4.50" height="4.52" fill="#f4e6f0"/>
<rect x="236.35" y="805.59" width="4.50" height="4.52" fill="#f4e6f0"/>
<rect x="241.95" y="805.59" width="4.50" height="4.52" fill="#ee8890"/>
<rect x="247.55" y="805.59" width="4.50" height="4.52" fill="#e0282e"/>
<rect x="253.15" y="805.59" width="4.50" height="4.52" fill="#ee8890"/>
<rect x="258.75" y="805.59" width="4.50" height="4.52" fill="#6a6cca"/>
<rect x="264.35" y="805.59" width="4.50" height="4.52" fill="#aaaae4"/>
<rect x="269.95" y="805.59" width="4.50" height="4.52" fill="#6a6cca"/>
<rect x="275.55" y="805.59" width="4.50" height="4.52" fill="#e0282e"/>
<rect x="281.15" y="805.59" width="4.50" height="4.52" fill="#f4e6f0"/>
<rect x="286.75" y="805.59" width="4.50" height="4.52" fill="#f4e6f0"/>
<rect x="292.35" y="805.59" width="4.50" height="4.52" fill="#f4e6f0"/>
<rect x="297.95" y="805.59" width="4.50" height="4.52" fill="#e0282e"/>
<rect x="135.55" y="811.20" width="4.50" height="4.52" fill="#ee8890"/>
<rect x="141.15" y="811.20" width="4.50" height="4.52" fill="#f4e6f0"/>
<rect x="146.75" y="811.20" width="4.50" height="4.52" fill="#6a6cca"/>
<rect x="152.35" y="811.20" width="4.50" height="4.52" fill="#f4e6f0"/>
<rect x="157.95" y="811.20" width="4.50" height="4.52" fill="#e0282e"/>
<rect x="163.55" y="811.20" width="4.50" height="4.52" fill="#ee8890"/>
<rect x="169.15" y="811.20" width="4.50" height="4.52" fill="#f4e6f0"/>
<rect x="174.75" y="811.20" width="4.50" height="4.52" fill="#3529a6"/>
<rect x="180.35" y="811.20" width="4.50" height="4.52" fill="#f4e6f0"/>
<rect x="185.95" y="811.20" width="4.50" height="4.52" fill="#ee8890"/>
<rect x="191.55" y="811.20" width="4.50" height="4.52" fill="#3a42b2"/>
<rect x="197.15" y="811.20" width="4.50" height="4.52" fill="#e0282e"/>
<rect x="202.75" y="811.20" width="4.50" height="4.52" fill="#f4e6f0"/>
<rect x="208.35" y="811.20" width="4.50" height="4.52" fill="#e0282e"/>
<rect x="213.95" y="811.20" width="4.50" height="4.52" fill="#6a6cca"/>
<rect x="219.55" y="811.20" width="4.50" height="4.52" fill="#e0282e"/>
<rect x="225.15" y="811.20" width="4.50" height="4.52" fill="#f4e6f0"/>
<rect x="230.75" y="811.20" width="4.50" height="4.52" fill="#e0282e"/>
<rect x="236.35" y="811.20" width="4.50" height="4.52" fill="#e0282e"/>
<rect x="241.95" y="811.20" width="4.50" height="4.52" fill="#e0282e"/>
<rect x="247.55" y="811.20" width="4.50" height="4.52" fill="#aaaae4"/>
<rect x="253.15" y="811.20" width="4.50" height="4.52" fill="#f4e6f0"/>
<rect x="258.75" y="811.20" width="4.50" height="4.52" fill="#f4e6f0"/>
<rect x="264.35" y="811.20" width="4.50" height="4.52" fill="#ee8890"/>
<rect x="269.95" y="811.20" width="4.50" height="4.52" fill="#aaaae4"/>
<rect x="275.55" y="811.20" width="4.50" height="4.52" fill="#3a42b2"/>
<rect x="281.15" y="811.20" width="4.50" height="4.52" fill="#aaaae4"/>
<rect x="286.75" y="811.20" width="4.50" height="4.52" fill="#f4e6f0"/>
<rect x="292.35" y="811.20" width="4.50" height="4.52" fill="#f4e6f0"/>
<rect x="297.95" y="811.20" width="4.50" height="4.52" fill="#ee8890"/>
<rect x="135.55" y="816.82" width="4.50" height="4.52" fill="#e0282e"/>
<rect x="141.15" y="816.82" width="4.50" height="4.52" fill="#ee8890"/>
<rect x="146.75" y="816.82" width="4.50" height="4.52" fill="#ee8890"/>
<rect x="152.35" y="816.82" width="4.50" height="4.52" fill="#f4e6f0"/>
<rect x="157.95" y="816.82" width="4.50" height="4.52" fill="#f4c0c8"/>
<rect x="163.55" y="816.82" width="4.50" height="4.52" fill="#e0282e"/>
<rect x="169.15" y="816.82" width="4.50" height="4.52" fill="#e0282e"/>
<rect x="174.75" y="816.82" width="4.50" height="4.52" fill="#e0282e"/>
<rect x="180.35" y="816.82" width="4.50" height="4.52" fill="#f4e6f0"/>
<rect x="185.95" y="816.82" width="4.50" height="4.52" fill="#f4e6f0"/>
<rect x="191.55" y="816.82" width="4.50" height="4.52" fill="#e0282e"/>
<rect x="197.15" y="816.82" width="4.50" height="4.52" fill="#ee8890"/>
<rect x="202.75" y="816.82" width="4.50" height="4.52" fill="#e0282e"/>
<rect x="208.35" y="816.82" width="4.50" height="4.52" fill="#ee8890"/>
<rect x="213.95" y="816.82" width="4.50" height="4.52" fill="#e0282e"/>
<rect x="219.55" y="816.82" width="4.50" height="4.52" fill="#ee8890"/>
<rect x="225.15" y="816.82" width="4.50" height="4.52" fill="#ee8890"/>
<rect x="230.75" y="816.82" width="4.50" height="4.52" fill="#e0282e"/>
<rect x="236.35" y="816.82" width="4.50" height="4.52" fill="#ee8890"/>
<rect x="241.95" y="816.82" width="4.50" height="4.52" fill="#f4e6f0"/>
<rect x="247.55" y="816.82" width="4.50" height="4.52" fill="#e0282e"/>
<rect x="253.15" y="816.82" width="4.50" height="4.52" fill="#ee8890"/>
<rect x="258.75" y="816.82" width="4.50" height="4.52" fill="#ee8890"/>
<rect x="264.35" y="816.82" width="4.50" height="4.52" fill="#ee8890"/>
<rect x="269.95" y="816.82" width="4.50" height="4.52" fill="#e0282e"/>
<rect x="275.55" y="816.82" width="4.50" height="4.52" fill="#ee8890"/>
<rect x="281.15" y="816.82" width="4.50" height="4.52" fill="#e0282e"/>
<rect x="286.75" y="816.82" width="4.50" height="4.52" fill="#f4e6f0"/>
<rect x="292.35" y="816.82" width="4.50" height="4.52" fill="#f4e6f0"/>
<rect x="297.95" y="816.82" width="4.50" height="4.52" fill="#ee8890"/>
<rect x="135.55" y="822.43" width="4.50" height="4.52" fill="#e0282e"/>
<rect x="141.15" y="822.43" width="4.50" height="4.52" fill="#e0282e"/>
<rect x="146.75" y="822.43" width="4.50" height="4.52" fill="#e0282e"/>
<rect x="152.35" y="822.43" width="4.50" height="4.52" fill="#ee8890"/>
<rect x="157.95" y="822.43" width="4.50" height="4.52" fill="#ee8890"/>
<rect x="163.55" y="822.43" width="4.50" height="4.52" fill="#ee8890"/>
<rect x="169.15" y="822.43" width="4.50" height="4.52" fill="#e0282e"/>
<rect x="174.75" y="822.43" width="4.50" height="4.52" fill="#ee8890"/>
<rect x="180.35" y="822.43" width="4.50" height="4.52" fill="#e0282e"/>
<rect x="185.95" y="822.43" width="4.50" height="4.52" fill="#ee8890"/>
<rect x="191.55" y="822.43" width="4.50" height="4.52" fill="#e0282e"/>
<rect x="197.15" y="822.43" width="4.50" height="4.52" fill="#e0282e"/>
<rect x="202.75" y="822.43" width="4.50" height="4.52" fill="#e0282e"/>
<rect x="208.35" y="822.43" width="4.50" height="4.52" fill="#e0282e"/>
<rect x="213.95" y="822.43" width="4.50" height="4.52" fill="#ee8890"/>
<rect x="219.55" y="822.43" width="4.50" height="4.52" fill="#ee8890"/>
<rect x="225.15" y="822.43" width="4.50" height="4.52" fill="#e0282e"/>
<rect x="230.75" y="822.43" width="4.50" height="4.52" fill="#e0282e"/>
<rect x="236.35" y="822.43" width="4.50" height="4.52" fill="#f4e6f0"/>
<rect x="241.95" y="822.43" width="4.50" height="4.52" fill="#ee8890"/>
<rect x="247.55" y="822.43" width="4.50" height="4.52" fill="#ee8890"/>
<rect x="253.15" y="822.43" width="4.50" height="4.52" fill="#e0282e"/>
<rect x="258.75" y="822.43" width="4.50" height="4.52" fill="#e0282e"/>
<rect x="264.35" y="822.43" width="4.50" height="4.52" fill="#e0282e"/>
<rect x="269.95" y="822.43" width="4.50" height="4.52" fill="#f4e6f0"/>
<rect x="275.55" y="822.43" width="4.50" height="4.52" fill="#ee8890"/>
<rect x="281.15" y="822.43" width="4.50" height="4.52" fill="#f4e6f0"/>
<rect x="286.75" y="822.43" width="4.50" height="4.52" fill="#ee8890"/>
<rect x="292.35" y="822.43" width="4.50" height="4.52" fill="#f4e6f0"/>
<rect x="297.95" y="822.43" width="4.50" height="4.52" fill="#e0282e"/>
<rect x="334.60" y="754.00" width="169.30" height="73.00" fill="#141238"/>
<rect x="335.15" y="754.55" width="4.54" height="4.52" fill="#6a6cca"/>
<rect x="340.79" y="754.55" width="4.54" height="4.52" fill="#f4e6f0"/>
<rect x="346.44" y="754.55" width="4.54" height="4.52" fill="#6a6cca"/>
<rect x="352.08" y="754.55" width="4.54" height="4.52" fill="#aaaae4"/>
<rect x="357.72" y="754.55" width="4.54" height="4.52" fill="#6a6cca"/>
<rect x="363.37" y="754.55" width="4.54" height="4.52" fill="#6a6cca"/>
<rect x="369.01" y="754.55" width="4.54" height="4.52" fill="#aaaae4"/>
<rect x="374.65" y="754.55" width="4.54" height="4.52" fill="#f4e6f0"/>
<rect x="380.30" y="754.55" width="4.54" height="4.52" fill="#2d2ea2"/>
<rect x="385.94" y="754.55" width="4.54" height="4.52" fill="#f4e6f0"/>
<rect x="391.58" y="754.55" width="4.54" height="4.52" fill="#f4e6f0"/>
<rect x="397.23" y="754.55" width="4.54" height="4.52" fill="#6a6cca"/>
<rect x="402.87" y="754.55" width="4.54" height="4.52" fill="#f4e6f0"/>
<rect x="408.51" y="754.55" width="4.54" height="4.52" fill="#aaaae4"/>
<rect x="414.16" y="754.55" width="4.54" height="4.52" fill="#f4e6f0"/>
<rect x="419.80" y="754.55" width="4.54" height="4.52" fill="#f4e6f0"/>
<rect x="425.44" y="754.55" width="4.54" height="4.52" fill="#f4e6f0"/>
<rect x="431.09" y="754.55" width="4.54" height="4.52" fill="#aaaae4"/>
<rect x="436.73" y="754.55" width="4.54" height="4.52" fill="#f4e6f0"/>
<rect x="442.37" y="754.55" width="4.54" height="4.52" fill="#3028a0"/>
<rect x="448.02" y="754.55" width="4.54" height="4.52" fill="#ee8890"/>
<rect x="453.66" y="754.55" width="4.54" height="4.52" fill="#2d2ea2"/>
<rect x="459.30" y="754.55" width="4.54" height="4.52" fill="#6a6cca"/>
<rect x="464.95" y="754.55" width="4.54" height="4.52" fill="#6a6cca"/>
<rect x="470.59" y="754.55" width="4.54" height="4.52" fill="#6a6cca"/>
<rect x="476.23" y="754.55" width="4.54" height="4.52" fill="#f4e6f0"/>
<rect x="481.88" y="754.55" width="4.54" height="4.52" fill="#ee8890"/>
<rect x="487.52" y="754.55" width="4.54" height="4.52" fill="#ee8890"/>
<rect x="493.16" y="754.55" width="4.54" height="4.52" fill="#f4e6f0"/>
<rect x="498.81" y="754.55" width="4.54" height="4.52" fill="#ee8890"/>
<rect x="335.15" y="760.17" width="4.54" height="4.52" fill="#f4e6f0"/>
<rect x="340.79" y="760.17" width="4.54" height="4.52" fill="#e0282e"/>
<rect x="346.44" y="760.17" width="4.54" height="4.52" fill="#ee8890"/>
<rect x="352.08" y="760.17" width="4.54" height="4.52" fill="#e0282e"/>
<rect x="357.72" y="760.17" width="4.54" height="4.52" fill="#e0282e"/>
<rect x="363.37" y="760.17" width="4.54" height="4.52" fill="#ee8890"/>
<rect x="369.01" y="760.17" width="4.54" height="4.52" fill="#f4e6f0"/>
<rect x="374.65" y="760.17" width="4.54" height="4.52" fill="#ee8890"/>
<rect x="380.30" y="760.17" width="4.54" height="4.52" fill="#f4e6f0"/>
<rect x="385.94" y="760.17" width="4.54" height="4.52" fill="#f4e6f0"/>
<rect x="391.58" y="760.17" width="4.54" height="4.52" fill="#e0282e"/>
<rect x="397.23" y="760.17" width="4.54" height="4.52" fill="#e0282e"/>
<rect x="402.87" y="760.17" width="4.54" height="4.52" fill="#f4e6f0"/>
<rect x="408.51" y="760.17" width="4.54" height="4.52" fill="#e0282e"/>
<rect x="414.16" y="760.17" width="4.54" height="4.52" fill="#f4e6f0"/>
<rect x="419.80" y="760.17" width="4.54" height="4.52" fill="#e0282e"/>
<rect x="425.44" y="760.17" width="4.54" height="4.52" fill="#ee8890"/>
<rect x="431.09" y="760.17" width="4.54" height="4.52" fill="#f4e6f0"/>
<rect x="436.73" y="760.17" width="4.54" height="4.52" fill="#ee8890"/>
<rect x="442.37" y="760.17" width="4.54" height="4.52" fill="#ee8890"/>
<rect x="448.02" y="760.17" width="4.54" height="4.52" fill="#ee8890"/>
<rect x="453.66" y="760.17" width="4.54" height="4.52" fill="#ee8890"/>
<rect x="459.30" y="760.17" width="4.54" height="4.52" fill="#ee8890"/>
<rect x="464.95" y="760.17" width="4.54" height="4.52" fill="#e0282e"/>
<rect x="470.59" y="760.17" width="4.54" height="4.52" fill="#f4e6f0"/>
<rect x="476.23" y="760.17" width="4.54" height="4.52" fill="#e0282e"/>
<rect x="481.88" y="760.17" width="4.54" height="4.52" fill="#6a6cca"/>
<rect x="487.52" y="760.17" width="4.54" height="4.52" fill="#382cab"/>
<rect x="493.16" y="760.17" width="4.54" height="4.52" fill="#ee8890"/>
<rect x="498.81" y="760.17" width="4.54" height="4.52" fill="#f4e6f0"/>
<rect x="335.15" y="765.78" width="4.54" height="4.52" fill="#ee8890"/>
<rect x="340.79" y="765.78" width="4.54" height="4.52" fill="#ee8890"/>
<rect x="346.44" y="765.78" width="4.54" height="4.52" fill="#e0282e"/>
<rect x="352.08" y="765.78" width="4.54" height="4.52" fill="#ee8890"/>
<rect x="357.72" y="765.78" width="4.54" height="4.52" fill="#ee8890"/>
<rect x="363.37" y="765.78" width="4.54" height="4.52" fill="#ee8890"/>
<rect x="369.01" y="765.78" width="4.54" height="4.52" fill="#e0282e"/>
<rect x="374.65" y="765.78" width="4.54" height="4.52" fill="#f4e6f0"/>
<rect x="380.30" y="765.78" width="4.54" height="4.52" fill="#ee8890"/>
<rect x="385.94" y="765.78" width="4.54" height="4.52" fill="#ee8890"/>
<rect x="391.58" y="765.78" width="4.54" height="4.52" fill="#ee8890"/>
<rect x="397.23" y="765.78" width="4.54" height="4.52" fill="#f4e6f0"/>
<rect x="402.87" y="765.78" width="4.54" height="4.52" fill="#f4e6f0"/>
<rect x="408.51" y="765.78" width="4.54" height="4.52" fill="#ee8890"/>
<rect x="414.16" y="765.78" width="4.54" height="4.52" fill="#f4e6f0"/>
<rect x="419.80" y="765.78" width="4.54" height="4.52" fill="#ee8890"/>
<rect x="425.44" y="765.78" width="4.54" height="4.52" fill="#e0282e"/>
<rect x="431.09" y="765.78" width="4.54" height="4.52" fill="#f4e6f0"/>
<rect x="436.73" y="765.78" width="4.54" height="4.52" fill="#ee8890"/>
<rect x="442.37" y="765.78" width="4.54" height="4.52" fill="#e0282e"/>
<rect x="448.02" y="765.78" width="4.54" height="4.52" fill="#e0282e"/>
<rect x="453.66" y="765.78" width="4.54" height="4.52" fill="#e0282e"/>
<rect x="459.30" y="765.78" width="4.54" height="4.52" fill="#ee8890"/>
<rect x="464.95" y="765.78" width="4.54" height="4.52" fill="#e0282e"/>
<rect x="470.59" y="765.78" width="4.54" height="4.52" fill="#ee8890"/>
<rect x="476.23" y="765.78" width="4.54" height="4.52" fill="#ee8890"/>
<rect x="481.88" y="765.78" width="4.54" height="4.52" fill="#e0282e"/>
<rect x="487.52" y="765.78" width="4.54" height="4.52" fill="#ee8890"/>
<rect x="493.16" y="765.78" width="4.54" height="4.52" fill="#ee8890"/>
<rect x="498.81" y="765.78" width="4.54" height="4.52" fill="#e0282e"/>
<rect x="335.15" y="771.40" width="4.54" height="4.52" fill="#ee8890"/>
<rect x="340.79" y="771.40" width="4.54" height="4.52" fill="#ee8890"/>
<rect x="346.44" y="771.40" width="4.54" height="4.52" fill="#f4e6f0"/>
<rect x="352.08" y="771.40" width="4.54" height="4.52" fill="#e0282e"/>
<rect x="357.72" y="771.40" width="4.54" height="4.52" fill="#ee8890"/>
<rect x="363.37" y="771.40" width="4.54" height="4.52" fill="#e0282e"/>
<rect x="369.01" y="771.40" width="4.54" height="4.52" fill="#ee8890"/>
<rect x="374.65" y="771.40" width="4.54" height="4.52" fill="#ee8890"/>
<rect x="380.30" y="771.40" width="4.54" height="4.52" fill="#f4e6f0"/>
<rect x="385.94" y="771.40" width="4.54" height="4.52" fill="#ee8890"/>
<rect x="391.58" y="771.40" width="4.54" height="4.52" fill="#e0282e"/>
<rect x="397.23" y="771.40" width="4.54" height="4.52" fill="#ee8890"/>
<rect x="402.87" y="771.40" width="4.54" height="4.52" fill="#3529a6"/>
<rect x="408.51" y="771.40" width="4.54" height="4.52" fill="#ee8890"/>
<rect x="414.16" y="771.40" width="4.54" height="4.52" fill="#e0282e"/>
<rect x="419.80" y="771.40" width="4.54" height="4.52" fill="#ee8890"/>
<rect x="425.44" y="771.40" width="4.54" height="4.52" fill="#e0282e"/>
<rect x="431.09" y="771.40" width="4.54" height="4.52" fill="#f4e6f0"/>
<rect x="436.73" y="771.40" width="4.54" height="4.52" fill="#ee8890"/>
<rect x="442.37" y="771.40" width="4.54" height="4.52" fill="#e0282e"/>
<rect x="448.02" y="771.40" width="4.54" height="4.52" fill="#ee8890"/>
<rect x="453.66" y="771.40" width="4.54" height="4.52" fill="#ee8890"/>
<rect x="459.30" y="771.40" width="4.54" height="4.52" fill="#e0282e"/>
<rect x="464.95" y="771.40" width="4.54" height="4.52" fill="#ee8890"/>
<rect x="470.59" y="771.40" width="4.54" height="4.52" fill="#ee8890"/>
<rect x="476.23" y="771.40" width="4.54" height="4.52" fill="#e0282e"/>
<rect x="481.88" y="771.40" width="4.54" height="4.52" fill="#f4e6f0"/>
<rect x="487.52" y="771.40" width="4.54" height="4.52" fill="#f4e6f0"/>
<rect x="493.16" y="771.40" width="4.54" height="4.52" fill="#e0282e"/>
<rect x="498.81" y="771.40" width="4.54" height="4.52" fill="#6a6cca"/>
<rect x="335.15" y="777.01" width="4.54" height="4.52" fill="#f4e6f0"/>
<rect x="340.79" y="777.01" width="4.54" height="4.52" fill="#2d2ea2"/>
<rect x="346.44" y="777.01" width="4.54" height="4.52" fill="#6a6cca"/>
<rect x="352.08" y="777.01" width="4.54" height="4.52" fill="#6a6cca"/>
<rect x="357.72" y="777.01" width="4.54" height="4.52" fill="#3529a6"/>
<rect x="363.37" y="777.01" width="4.54" height="4.52" fill="#3028a0"/>
<rect x="369.01" y="777.01" width="4.54" height="4.52" fill="#6a6cca"/>
<rect x="374.65" y="777.01" width="4.54" height="4.52" fill="#3529a6"/>
<rect x="380.30" y="777.01" width="4.54" height="4.52" fill="#f4e6f0"/>
<rect x="385.94" y="777.01" width="4.54" height="4.52" fill="#f4e6f0"/>
<rect x="391.58" y="777.01" width="4.54" height="4.52" fill="#382cab"/>
<rect x="397.23" y="777.01" width="4.54" height="4.52" fill="#2c33a0"/>
<rect x="402.87" y="777.01" width="4.54" height="4.52" fill="#f4e6f0"/>
<rect x="408.51" y="777.01" width="4.54" height="4.52" fill="#3028a0"/>
<rect x="414.16" y="777.01" width="4.54" height="4.52" fill="#aaaae4"/>
<rect x="419.80" y="777.01" width="4.54" height="4.52" fill="#e0282e"/>
<rect x="425.44" y="777.01" width="4.54" height="4.52" fill="#6a6cca"/>
<rect x="431.09" y="777.01" width="4.54" height="4.52" fill="#e0282e"/>
<rect x="436.73" y="777.01" width="4.54" height="4.52" fill="#3529a6"/>
<rect x="442.37" y="777.01" width="4.54" height="4.52" fill="#382cab"/>
<rect x="448.02" y="777.01" width="4.54" height="4.52" fill="#f4e6f0"/>
<rect x="453.66" y="777.01" width="4.54" height="4.52" fill="#f4e6f0"/>
<rect x="459.30" y="777.01" width="4.54" height="4.52" fill="#f4e6f0"/>
<rect x="464.95" y="777.01" width="4.54" height="4.52" fill="#3028a0"/>
<rect x="470.59" y="777.01" width="4.54" height="4.52" fill="#3529a6"/>
<rect x="476.23" y="777.01" width="4.54" height="4.52" fill="#2c33a0"/>
<rect x="481.88" y="777.01" width="4.54" height="4.52" fill="#f4e6f0"/>
<rect x="487.52" y="777.01" width="4.54" height="4.52" fill="#ee8890"/>
<rect x="493.16" y="777.01" width="4.54" height="4.52" fill="#f4e6f0"/>
<rect x="498.81" y="777.01" width="4.54" height="4.52" fill="#ee8890"/>
<rect x="335.15" y="782.63" width="4.54" height="4.52" fill="#e0282e"/>
<rect x="340.79" y="782.63" width="4.54" height="4.52" fill="#ee8890"/>
<rect x="346.44" y="782.63" width="4.54" height="4.52" fill="#e0282e"/>
<rect x="352.08" y="782.63" width="4.54" height="4.52" fill="#e0282e"/>
<rect x="357.72" y="782.63" width="4.54" height="4.52" fill="#ee8890"/>
<rect x="363.37" y="782.63" width="4.54" height="4.52" fill="#e0282e"/>
<rect x="369.01" y="782.63" width="4.54" height="4.52" fill="#ee8890"/>
<rect x="374.65" y="782.63" width="4.54" height="4.52" fill="#e0282e"/>
<rect x="380.30" y="782.63" width="4.54" height="4.52" fill="#e0282e"/>
<rect x="385.94" y="782.63" width="4.54" height="4.52" fill="#e0282e"/>
<rect x="391.58" y="782.63" width="4.54" height="4.52" fill="#ee8890"/>
<rect x="397.23" y="782.63" width="4.54" height="4.52" fill="#ee8890"/>
<rect x="402.87" y="782.63" width="4.54" height="4.52" fill="#ee8890"/>
<rect x="408.51" y="782.63" width="4.54" height="4.52" fill="#e0282e"/>
<rect x="414.16" y="782.63" width="4.54" height="4.52" fill="#ee8890"/>
<rect x="419.80" y="782.63" width="4.54" height="4.52" fill="#f4e6f0"/>
<rect x="425.44" y="782.63" width="4.54" height="4.52" fill="#e0282e"/>
<rect x="431.09" y="782.63" width="4.54" height="4.52" fill="#aaaae4"/>
<rect x="436.73" y="782.63" width="4.54" height="4.52" fill="#ee8890"/>
<rect x="442.37" y="782.63" width="4.54" height="4.52" fill="#e0282e"/>
<rect x="448.02" y="782.63" width="4.54" height="4.52" fill="#e0282e"/>
<rect x="453.66" y="782.63" width="4.54" height="4.52" fill="#e0282e"/>
<rect x="459.30" y="782.63" width="4.54" height="4.52" fill="#ee8890"/>
<rect x="464.95" y="782.63" width="4.54" height="4.52" fill="#e0282e"/>
<rect x="470.59" y="782.63" width="4.54" height="4.52" fill="#e0282e"/>
<rect x="476.23" y="782.63" width="4.54" height="4.52" fill="#e0282e"/>
<rect x="481.88" y="782.63" width="4.54" height="4.52" fill="#ee8890"/>
<rect x="487.52" y="782.63" width="4.54" height="4.52" fill="#ee8890"/>
<rect x="493.16" y="782.63" width="4.54" height="4.52" fill="#ee8890"/>
<rect x="498.81" y="782.63" width="4.54" height="4.52" fill="#ee8890"/>
<rect x="335.15" y="788.24" width="4.54" height="4.52" fill="#f4e6f0"/>
<rect x="340.79" y="788.24" width="4.54" height="4.52" fill="#ee8890"/>
<rect x="346.44" y="788.24" width="4.54" height="4.52" fill="#f4e6f0"/>
<rect x="352.08" y="788.24" width="4.54" height="4.52" fill="#f4e6f0"/>
<rect x="357.72" y="788.24" width="4.54" height="4.52" fill="#f4e6f0"/>
<rect x="363.37" y="788.24" width="4.54" height="4.52" fill="#f4e6f0"/>
<rect x="369.01" y="788.24" width="4.54" height="4.52" fill="#382cab"/>
<rect x="374.65" y="788.24" width="4.54" height="4.52" fill="#f4e6f0"/>
<rect x="380.30" y="788.24" width="4.54" height="4.52" fill="#e0282e"/>
<rect x="385.94" y="788.24" width="4.54" height="4.52" fill="#f4e6f0"/>
<rect x="391.58" y="788.24" width="4.54" height="4.52" fill="#f4e6f0"/>
<rect x="397.23" y="788.24" width="4.54" height="4.52" fill="#ee8890"/>
<rect x="402.87" y="788.24" width="4.54" height="4.52" fill="#f4e6f0"/>
<rect x="408.51" y="788.24" width="4.54" height="4.52" fill="#aaaae4"/>
<rect x="414.16" y="788.24" width="4.54" height="4.52" fill="#f4e6f0"/>
<rect x="419.80" y="788.24" width="4.54" height="4.52" fill="#f4e6f0"/>
<rect x="425.44" y="788.24" width="4.54" height="4.52" fill="#aaaae4"/>
<rect x="431.09" y="788.24" width="4.54" height="4.52" fill="#e0282e"/>
<rect x="436.73" y="788.24" width="4.54" height="4.52" fill="#f4e6f0"/>
<rect x="442.37" y="788.24" width="4.54" height="4.52" fill="#f4e6f0"/>
<rect x="448.02" y="788.24" width="4.54" height="4.52" fill="#e0282e"/>
<rect x="453.66" y="788.24" width="4.54" height="4.52" fill="#f4e6f0"/>
<rect x="459.30" y="788.24" width="4.54" height="4.52" fill="#aaaae4"/>
<rect x="464.95" y="788.24" width="4.54" height="4.52" fill="#f4e6f0"/>
<rect x="470.59" y="788.24" width="4.54" height="4.52" fill="#f4e6f0"/>
<rect x="476.23" y="788.24" width="4.54" height="4.52" fill="#f4e6f0"/>
<rect x="481.88" y="788.24" width="4.54" height="4.52" fill="#f4e6f0"/>
<rect x="487.52" y="788.24" width="4.54" height="4.52" fill="#e0282e"/>
<rect x="493.16" y="788.24" width="4.54" height="4.52" fill="#f4e6f0"/>
<rect x="498.81" y="788.24" width="4.54" height="4.52" fill="#e0282e"/>
<rect x="335.15" y="793.86" width="4.54" height="4.52" fill="#ee8890"/>
<rect x="340.79" y="793.86" width="4.54" height="4.52" fill="#ee8890"/>
<rect x="346.44" y="793.86" width="4.54" height="4.52" fill="#f4e6f0"/>
<rect x="352.08" y="793.86" width="4.54" height="4.52" fill="#ee8890"/>
<rect x="357.72" y="793.86" width="4.54" height="4.52" fill="#f4e6f0"/>
<rect x="363.37" y="793.86" width="4.54" height="4.52" fill="#ee8890"/>
<rect x="369.01" y="793.86" width="4.54" height="4.52" fill="#ee8890"/>
<rect x="374.65" y="793.86" width="4.54" height="4.52" fill="#e0282e"/>
<rect x="380.30" y="793.86" width="4.54" height="4.52" fill="#ee8890"/>
<rect x="385.94" y="793.86" width="4.54" height="4.52" fill="#f4e6f0"/>
<rect x="391.58" y="793.86" width="4.54" height="4.52" fill="#ee8890"/>
<rect x="397.23" y="793.86" width="4.54" height="4.52" fill="#f4e6f0"/>
<rect x="402.87" y="793.86" width="4.54" height="4.52" fill="#e0282e"/>
<rect x="408.51" y="793.86" width="4.54" height="4.52" fill="#ee8890"/>
<rect x="414.16" y="793.86" width="4.54" height="4.52" fill="#ee8890"/>
<rect x="419.80" y="793.86" width="4.54" height="4.52" fill="#f4e6f0"/>
<rect x="425.44" y="793.86" width="4.54" height="4.52" fill="#e0282e"/>
<rect x="431.09" y="793.86" width="4.54" height="4.52" fill="#e0282e"/>
<rect x="436.73" y="793.86" width="4.54" height="4.52" fill="#e0282e"/>
<rect x="442.37" y="793.86" width="4.54" height="4.52" fill="#ee8890"/>
<rect x="448.02" y="793.86" width="4.54" height="4.52" fill="#e0282e"/>
<rect x="453.66" y="793.86" width="4.54" height="4.52" fill="#ee8890"/>
<rect x="459.30" y="793.86" width="4.54" height="4.52" fill="#f4e6f0"/>
<rect x="464.95" y="793.86" width="4.54" height="4.52" fill="#f4e6f0"/>
<rect x="470.59" y="793.86" width="4.54" height="4.52" fill="#ee8890"/>
<rect x="476.23" y="793.86" width="4.54" height="4.52" fill="#ee8890"/>
<rect x="481.88" y="793.86" width="4.54" height="4.52" fill="#f4e6f0"/>
<rect x="487.52" y="793.86" width="4.54" height="4.52" fill="#6a6cca"/>
<rect x="493.16" y="793.86" width="4.54" height="4.52" fill="#ee8890"/>
<rect x="498.81" y="793.86" width="4.54" height="4.52" fill="#ee8890"/>
<rect x="335.15" y="799.47" width="4.54" height="4.52" fill="#2c33a0"/>
<rect x="340.79" y="799.47" width="4.54" height="4.52" fill="#3028a0"/>
<rect x="346.44" y="799.47" width="4.54" height="4.52" fill="#3529a6"/>
<rect x="352.08" y="799.47" width="4.54" height="4.52" fill="#3529a6"/>
<rect x="357.72" y="799.47" width="4.54" height="4.52" fill="#382cab"/>
<rect x="363.37" y="799.47" width="4.54" height="4.52" fill="#2d2ea2"/>
<rect x="369.01" y="799.47" width="4.54" height="4.52" fill="#2d2ea2"/>
<rect x="374.65" y="799.47" width="4.54" height="4.52" fill="#2d2ea2"/>
<rect x="380.30" y="799.47" width="4.54" height="4.52" fill="#2c33a0"/>
<rect x="385.94" y="799.47" width="4.54" height="4.52" fill="#3028a0"/>
<rect x="391.58" y="799.47" width="4.54" height="4.52" fill="#2c33a0"/>
<rect x="397.23" y="799.47" width="4.54" height="4.52" fill="#382cab"/>
<rect x="402.87" y="799.47" width="4.54" height="4.52" fill="#3028a0"/>
<rect x="408.51" y="799.47" width="4.54" height="4.52" fill="#2d2ea2"/>
<rect x="414.16" y="799.47" width="4.54" height="4.52" fill="#3529a6"/>
<rect x="419.80" y="799.47" width="4.54" height="4.52" fill="#3529a6"/>
<rect x="425.44" y="799.47" width="4.54" height="4.52" fill="#3028a0"/>
<rect x="431.09" y="799.47" width="4.54" height="4.52" fill="#2d2ea2"/>
<rect x="436.73" y="799.47" width="4.54" height="4.52" fill="#2c33a0"/>
<rect x="442.37" y="799.47" width="4.54" height="4.52" fill="#2d2ea2"/>
<rect x="448.02" y="799.47" width="4.54" height="4.52" fill="#2d2ea2"/>
<rect x="453.66" y="799.47" width="4.54" height="4.52" fill="#3028a0"/>
<rect x="459.30" y="799.47" width="4.54" height="4.52" fill="#382cab"/>
<rect x="464.95" y="799.47" width="4.54" height="4.52" fill="#382cab"/>
<rect x="470.59" y="799.47" width="4.54" height="4.52" fill="#3028a0"/>
<rect x="476.23" y="799.47" width="4.54" height="4.52" fill="#3028a0"/>
<rect x="481.88" y="799.47" width="4.54" height="4.52" fill="#2d2ea2"/>
<rect x="487.52" y="799.47" width="4.54" height="4.52" fill="#3529a6"/>
<rect x="493.16" y="799.47" width="4.54" height="4.52" fill="#2c33a0"/>
<rect x="498.81" y="799.47" width="4.54" height="4.52" fill="#2d2ea2"/>
<rect x="335.15" y="805.09" width="4.54" height="4.52" fill="#6a6cca"/>
<rect x="340.79" y="805.09" width="4.54" height="4.52" fill="#aaaae4"/>
<rect x="346.44" y="805.09" width="4.54" height="4.52" fill="#2d2ea2"/>
<rect x="352.08" y="805.09" width="4.54" height="4.52" fill="#2d2ea2"/>
<rect x="357.72" y="805.09" width="4.54" height="4.52" fill="#6a6cca"/>
<rect x="363.37" y="805.09" width="4.54" height="4.52" fill="#3028a0"/>
<rect x="369.01" y="805.09" width="4.54" height="4.52" fill="#382cab"/>
<rect x="374.65" y="805.09" width="4.54" height="4.52" fill="#2d2ea2"/>
<rect x="380.30" y="805.09" width="4.54" height="4.52" fill="#2c33a0"/>
<rect x="385.94" y="805.09" width="4.54" height="4.52" fill="#6a6cca"/>
<rect x="391.58" y="805.09" width="4.54" height="4.52" fill="#3529a6"/>
<rect x="397.23" y="805.09" width="4.54" height="4.52" fill="#aaaae4"/>
<rect x="402.87" y="805.09" width="4.54" height="4.52" fill="#2c33a0"/>
<rect x="408.51" y="805.09" width="4.54" height="4.52" fill="#3529a6"/>
<rect x="414.16" y="805.09" width="4.54" height="4.52" fill="#3028a0"/>
<rect x="419.80" y="805.09" width="4.54" height="4.52" fill="#2d2ea2"/>
<rect x="425.44" y="805.09" width="4.54" height="4.52" fill="#382cab"/>
<rect x="431.09" y="805.09" width="4.54" height="4.52" fill="#382cab"/>
<rect x="436.73" y="805.09" width="4.54" height="4.52" fill="#2c33a0"/>
<rect x="442.37" y="805.09" width="4.54" height="4.52" fill="#3529a6"/>
<rect x="448.02" y="805.09" width="4.54" height="4.52" fill="#aaaae4"/>
<rect x="453.66" y="805.09" width="4.54" height="4.52" fill="#6a6cca"/>
<rect x="459.30" y="805.09" width="4.54" height="4.52" fill="#3529a6"/>
<rect x="464.95" y="805.09" width="4.54" height="4.52" fill="#2c33a0"/>
<rect x="470.59" y="805.09" width="4.54" height="4.52" fill="#382cab"/>
<rect x="476.23" y="805.09" width="4.54" height="4.52" fill="#3028a0"/>
<rect x="481.88" y="805.09" width="4.54" height="4.52" fill="#3529a6"/>
<rect x="487.52" y="805.09" width="4.54" height="4.52" fill="#3529a6"/>
<rect x="493.16" y="805.09" width="4.54" height="4.52" fill="#6a6cca"/>
<rect x="498.81" y="805.09" width="4.54" height="4.52" fill="#2d2ea2"/>
<rect x="335.15" y="810.70" width="4.54" height="4.52" fill="#f4e6f0"/>
<rect x="340.79" y="810.70" width="4.54" height="4.52" fill="#3529a6"/>
<rect x="346.44" y="810.70" width="4.54" height="4.52" fill="#6a6cca"/>
<rect x="352.08" y="810.70" width="4.54" height="4.52" fill="#6a6cca"/>
<rect x="357.72" y="810.70" width="4.54" height="4.52" fill="#6a6cca"/>
<rect x="363.37" y="810.70" width="4.54" height="4.52" fill="#2c33a0"/>
<rect x="369.01" y="810.70" width="4.54" height="4.52" fill="#6a6cca"/>
<rect x="374.65" y="810.70" width="4.54" height="4.52" fill="#3028a0"/>
<rect x="380.30" y="810.70" width="4.54" height="4.52" fill="#f4e6f0"/>
<rect x="385.94" y="810.70" width="4.54" height="4.52" fill="#6a6cca"/>
<rect x="391.58" y="810.70" width="4.54" height="4.52" fill="#f4e6f0"/>
<rect x="397.23" y="810.70" width="4.54" height="4.52" fill="#6a6cca"/>
<rect x="402.87" y="810.70" width="4.54" height="4.52" fill="#382cab"/>
<rect x="408.51" y="810.70" width="4.54" height="4.52" fill="#3028a0"/>
<rect x="414.16" y="810.70" width="4.54" height="4.52" fill="#2c33a0"/>
<rect x="419.80" y="810.70" width="4.54" height="4.52" fill="#f4e6f0"/>
<rect x="425.44" y="810.70" width="4.54" height="4.52" fill="#f4e6f0"/>
<rect x="431.09" y="810.70" width="4.54" height="4.52" fill="#3028a0"/>
<rect x="436.73" y="810.70" width="4.54" height="4.52" fill="#6a6cca"/>
<rect x="442.37" y="810.70" width="4.54" height="4.52" fill="#3529a6"/>
<rect x="448.02" y="810.70" width="4.54" height="4.52" fill="#f4e6f0"/>
<rect x="453.66" y="810.70" width="4.54" height="4.52" fill="#aaaae4"/>
<rect x="459.30" y="810.70" width="4.54" height="4.52" fill="#6a6cca"/>
<rect x="464.95" y="810.70" width="4.54" height="4.52" fill="#6a6cca"/>
<rect x="470.59" y="810.70" width="4.54" height="4.52" fill="#3529a6"/>
<rect x="476.23" y="810.70" width="4.54" height="4.52" fill="#3529a6"/>
<rect x="481.88" y="810.70" width="4.54" height="4.52" fill="#2d2ea2"/>
<rect x="487.52" y="810.70" width="4.54" height="4.52" fill="#3028a0"/>
<rect x="493.16" y="810.70" width="4.54" height="4.52" fill="#6a6cca"/>
<rect x="498.81" y="810.70" width="4.54" height="4.52" fill="#2d2ea2"/>
<rect x="335.15" y="816.32" width="4.54" height="4.52" fill="#6a6cca"/>
<rect x="340.79" y="816.32" width="4.54" height="4.52" fill="#f4e6f0"/>
<rect x="346.44" y="816.32" width="4.54" height="4.52" fill="#3529a6"/>
<rect x="352.08" y="816.32" width="4.54" height="4.52" fill="#f4e6f0"/>
<rect x="357.72" y="816.32" width="4.54" height="4.52" fill="#f4e6f0"/>
<rect x="363.37" y="816.32" width="4.54" height="4.52" fill="#f4e6f0"/>
<rect x="369.01" y="816.32" width="4.54" height="4.52" fill="#2c33a0"/>
<rect x="374.65" y="816.32" width="4.54" height="4.52" fill="#f4e6f0"/>
<rect x="380.30" y="816.32" width="4.54" height="4.52" fill="#6a6cca"/>
<rect x="385.94" y="816.32" width="4.54" height="4.52" fill="#f4e6f0"/>
<rect x="391.58" y="816.32" width="4.54" height="4.52" fill="#6a6cca"/>
<rect x="397.23" y="816.32" width="4.54" height="4.52" fill="#382cab"/>
<rect x="402.87" y="816.32" width="4.54" height="4.52" fill="#3529a6"/>
<rect x="408.51" y="816.32" width="4.54" height="4.52" fill="#3028a0"/>
<rect x="414.16" y="816.32" width="4.54" height="4.52" fill="#3028a0"/>
<rect x="419.80" y="816.32" width="4.54" height="4.52" fill="#2c33a0"/>
<rect x="425.44" y="816.32" width="4.54" height="4.52" fill="#382cab"/>
<rect x="431.09" y="816.32" width="4.54" height="4.52" fill="#382cab"/>
<rect x="436.73" y="816.32" width="4.54" height="4.52" fill="#aaaae4"/>
<rect x="442.37" y="816.32" width="4.54" height="4.52" fill="#aaaae4"/>
<rect x="448.02" y="816.32" width="4.54" height="4.52" fill="#6a6cca"/>
<rect x="453.66" y="816.32" width="4.54" height="4.52" fill="#3028a0"/>
<rect x="459.30" y="816.32" width="4.54" height="4.52" fill="#3529a6"/>
<rect x="464.95" y="816.32" width="4.54" height="4.52" fill="#2c33a0"/>
<rect x="470.59" y="816.32" width="4.54" height="4.52" fill="#6a6cca"/>
<rect x="476.23" y="816.32" width="4.54" height="4.52" fill="#6a6cca"/>
<rect x="481.88" y="816.32" width="4.54" height="4.52" fill="#aaaae4"/>
<rect x="487.52" y="816.32" width="4.54" height="4.52" fill="#3529a6"/>
<rect x="493.16" y="816.32" width="4.54" height="4.52" fill="#2d2ea2"/>
<rect x="498.81" y="816.32" width="4.54" height="4.52" fill="#382cab"/>
<rect x="335.15" y="821.93" width="4.54" height="4.52" fill="#aaaae4"/>
<rect x="340.79" y="821.93" width="4.54" height="4.52" fill="#f4e6f0"/>
<rect x="346.44" y="821.93" width="4.54" height="4.52" fill="#f4e6f0"/>
<rect x="352.08" y="821.93" width="4.54" height="4.52" fill="#f4e6f0"/>
<rect x="357.72" y="821.93" width="4.54" height="4.52" fill="#3529a6"/>
<rect x="363.37" y="821.93" width="4.54" height="4.52" fill="#f4e6f0"/>
<rect x="369.01" y="821.93" width="4.54" height="4.52" fill="#382cab"/>
<rect x="374.65" y="821.93" width="4.54" height="4.52" fill="#f4e6f0"/>
<rect x="380.30" y="821.93" width="4.54" height="4.52" fill="#2c33a0"/>
<rect x="385.94" y="821.93" width="4.54" height="4.52" fill="#6a6cca"/>
<rect x="391.58" y="821.93" width="4.54" height="4.52" fill="#aaaae4"/>
<rect x="397.23" y="821.93" width="4.54" height="4.52" fill="#6a6cca"/>
<rect x="402.87" y="821.93" width="4.54" height="4.52" fill="#3028a0"/>
<rect x="408.51" y="821.93" width="4.54" height="4.52" fill="#6a6cca"/>
<rect x="414.16" y="821.93" width="4.54" height="4.52" fill="#f4e6f0"/>
<rect x="419.80" y="821.93" width="4.54" height="4.52" fill="#2d2ea2"/>
<rect x="425.44" y="821.93" width="4.54" height="4.52" fill="#f4e6f0"/>
<rect x="431.09" y="821.93" width="4.54" height="4.52" fill="#aaaae4"/>
<rect x="436.73" y="821.93" width="4.54" height="4.52" fill="#6a6cca"/>
<rect x="442.37" y="821.93" width="4.54" height="4.52" fill="#6a6cca"/>
<rect x="448.02" y="821.93" width="4.54" height="4.52" fill="#f4e6f0"/>
<rect x="453.66" y="821.93" width="4.54" height="4.52" fill="#6a6cca"/>
<rect x="459.30" y="821.93" width="4.54" height="4.52" fill="#6a6cca"/>
<rect x="464.95" y="821.93" width="4.54" height="4.52" fill="#2c33a0"/>
<rect x="470.59" y="821.93" width="4.54" height="4.52" fill="#6a6cca"/>
<rect x="476.23" y="821.93" width="4.54" height="4.52" fill="#3529a6"/>
<rect x="481.88" y="821.93" width="4.54" height="4.52" fill="#3529a6"/>
<rect x="487.52" y="821.93" width="4.54" height="4.52" fill="#2c33a0"/>
<rect x="493.16" y="821.93" width="4.54" height="4.52" fill="#f4e6f0"/>
<rect x="498.81" y="821.93" width="4.54" height="4.52" fill="#382cab"/>
<text x="0" y="0" font-size="4.4" fill="#1a1a1a" stroke="#1a1a1a" stroke-width="0.1" transform="translate(140.1,327.5) rotate(-90) scale(0.8,1)">NPL</text>
<text x="0" y="0" font-size="4.4" fill="#1a1a1a" stroke="#1a1a1a" stroke-width="0.1" transform="translate(145.7,327.5) rotate(-90) scale(0.8,1)">GUCY1A3</text>
<text x="0" y="0" font-size="4.4" fill="#1a1a1a" stroke="#1a1a1a" stroke-width="0.1" transform="translate(151.3,327.5) rotate(-90) scale(0.8,1)">HIST2H2AA3</text>
<text x="0" y="0" font-size="4.4" fill="#1a1a1a" stroke="#1a1a1a" stroke-width="0.1" transform="translate(156.9,327.5) rotate(-90) scale(0.8,1)">PCDH9</text>
<text x="0" y="0" font-size="4.4" fill="#1a1a1a" stroke="#1a1a1a" stroke-width="0.1" transform="translate(162.5,327.5) rotate(-90) scale(0.8,1)">MEIS1</text>
<text x="0" y="0" font-size="4.4" fill="#1a1a1a" stroke="#1a1a1a" stroke-width="0.1" transform="translate(168.1,327.5) rotate(-90) scale(0.8,1)">SLC2A5</text>
<text x="0" y="0" font-size="4.4" fill="#1a1a1a" stroke="#1a1a1a" stroke-width="0.1" transform="translate(173.7,327.5) rotate(-90) scale(0.8,1)">HIST1H1C</text>
<text x="0" y="0" font-size="4.4" fill="#1a1a1a" stroke="#1a1a1a" stroke-width="0.1" transform="translate(179.4,327.5) rotate(-90) scale(0.8,1)">HIST1H2AP</text>
<text x="0" y="0" font-size="4.4" fill="#1a1a1a" stroke="#1a1a1a" stroke-width="0.1" transform="translate(185.0,327.5) rotate(-90) scale(0.8,1)">HIST1H2BD</text>
<text x="0" y="0" font-size="4.4" fill="#1a1a1a" stroke="#1a1a1a" stroke-width="0.1" transform="translate(190.6,327.5) rotate(-90) scale(0.8,1)">CPD</text>
<text x="0" y="0" font-size="4.4" fill="#1a1a1a" stroke="#1a1a1a" stroke-width="0.1" transform="translate(196.2,327.5) rotate(-90) scale(0.8,1)">GDS</text>
<text x="0" y="0" font-size="4.4" fill="#1a1a1a" stroke="#1a1a1a" stroke-width="0.1" transform="translate(201.8,327.5) rotate(-90) scale(0.8,1)">MOBKL</text>
<text x="0" y="0" font-size="4.4" fill="#1a1a1a" stroke="#1a1a1a" stroke-width="0.1" transform="translate(207.4,327.5) rotate(-90) scale(0.8,1)">BRCC3</text>
<text x="0" y="0" font-size="4.4" fill="#1a1a1a" stroke="#1a1a1a" stroke-width="0.1" transform="translate(213.0,327.5) rotate(-90) scale(0.8,1)">ATP8B4</text>
<text x="0" y="0" font-size="4.4" fill="#1a1a1a" stroke="#1a1a1a" stroke-width="0.1" transform="translate(218.6,327.5) rotate(-90) scale(0.8,1)">HDAC9</text>
<text x="0" y="0" font-size="4.4" fill="#1a1a1a" stroke="#1a1a1a" stroke-width="0.1" transform="translate(224.2,327.5) rotate(-90) scale(0.8,1)">KLF2</text>
<text x="0" y="0" font-size="4.4" fill="#1a1a1a" stroke="#1a1a1a" stroke-width="0.1" transform="translate(229.8,327.5) rotate(-90) scale(0.8,1)">GUCY1B3</text>
<text x="0" y="0" font-size="4.4" fill="#1a1a1a" stroke="#1a1a1a" stroke-width="0.1" transform="translate(235.4,327.5) rotate(-90) scale(0.8,1)">ZFAND5</text>
<text x="0" y="0" font-size="4.4" fill="#1a1a1a" stroke="#1a1a1a" stroke-width="0.1" transform="translate(241.0,327.5) rotate(-90) scale(0.8,1)">FAM69A</text>
<text x="0" y="0" font-size="4.4" fill="#1a1a1a" stroke="#1a1a1a" stroke-width="0.1" transform="translate(246.6,327.5) rotate(-90) scale(0.8,1)">IFI16</text>
<text x="0" y="0" font-size="4.4" fill="#1a1a1a" stroke="#1a1a1a" stroke-width="0.1" transform="translate(252.2,327.5) rotate(-90) scale(0.8,1)">CD34</text>
<text x="0" y="0" font-size="4.4" fill="#1a1a1a" stroke="#1a1a1a" stroke-width="0.1" transform="translate(257.8,327.5) rotate(-90) scale(0.8,1)">ANGPT1</text>
<text x="0" y="0" font-size="4.4" fill="#1a1a1a" stroke="#1a1a1a" stroke-width="0.1" transform="translate(263.4,327.5) rotate(-90) scale(0.8,1)">PRDM16</text>
<text x="0" y="0" font-size="4.4" fill="#1a1a1a" stroke="#1a1a1a" stroke-width="0.1" transform="translate(269.1,327.5) rotate(-90) scale(0.8,1)">HLF</text>
<text x="0" y="0" font-size="4.4" fill="#1a1a1a" stroke="#1a1a1a" stroke-width="0.1" transform="translate(274.7,327.5) rotate(-90) scale(0.8,1)">CRHBP</text>
<text x="0" y="0" font-size="4.4" fill="#1a1a1a" stroke="#1a1a1a" stroke-width="0.1" transform="translate(280.3,327.5) rotate(-90) scale(0.8,1)">MECOM</text>
<text x="0" y="0" font-size="4.4" fill="#1a1a1a" stroke="#1a1a1a" stroke-width="0.1" transform="translate(285.9,327.5) rotate(-90) scale(0.8,1)">HOXA9</text>
<text x="0" y="0" font-size="4.4" fill="#1a1a1a" stroke="#1a1a1a" stroke-width="0.1" transform="translate(291.5,327.5) rotate(-90) scale(0.8,1)">MEG3</text>
<text x="0" y="0" font-size="4.4" fill="#1a1a1a" stroke="#1a1a1a" stroke-width="0.1" transform="translate(297.1,327.5) rotate(-90) scale(0.8,1)">CD109</text>
<text x="0" y="0" font-size="4.4" fill="#1a1a1a" stroke="#1a1a1a" stroke-width="0.1" transform="translate(302.7,327.5) rotate(-90) scale(0.8,1)">ABCB1</text>
<text x="0" y="0" font-size="4.4" fill="#1a1a1a" stroke="#1a1a1a" stroke-width="0.1" transform="translate(338.6,320.8) rotate(-90) scale(0.8,1)">NRPA</text>
<text x="0" y="0" font-size="4.4" fill="#1a1a1a" stroke="#1a1a1a" stroke-width="0.1" transform="translate(344.2,320.8) rotate(-90) scale(0.8,1)">NCAPG2</text>
<text x="0" y="0" font-size="4.4" fill="#1a1a1a" stroke="#1a1a1a" stroke-width="0.1" transform="translate(349.9,320.8) rotate(-90) scale(0.8,1)">HIST3B</text>
<text x="0" y="0" font-size="4.4" fill="#1a1a1a" stroke="#1a1a1a" stroke-width="0.1" transform="translate(355.5,320.8) rotate(-90) scale(0.8,1)">GGA3</text>
<text x="0" y="0" font-size="4.4" fill="#1a1a1a" stroke="#1a1a1a" stroke-width="0.1" transform="translate(361.1,320.8) rotate(-90) scale(0.8,1)">ANXA2</text>
<text x="0" y="0" font-size="4.4" fill="#1a1a1a" stroke="#1a1a1a" stroke-width="0.1" transform="translate(366.7,320.8) rotate(-90) scale(0.8,1)">ESPL1</text>
<text x="0" y="0" font-size="4.4" fill="#1a1a1a" stroke="#1a1a1a" stroke-width="0.1" transform="translate(372.4,320.8) rotate(-90) scale(0.8,1)">SLC29A1</text>
<text x="0" y="0" font-size="4.4" fill="#1a1a1a" stroke="#1a1a1a" stroke-width="0.1" transform="translate(378.0,320.8) rotate(-90) scale(0.8,1)">MOB3B</text>
<text x="0" y="0" font-size="4.4" fill="#1a1a1a" stroke="#1a1a1a" stroke-width="0.1" transform="translate(383.6,320.8) rotate(-90) scale(0.8,1)">CDC45</text>
<text x="0" y="0" font-size="4.4" fill="#1a1a1a" stroke="#1a1a1a" stroke-width="0.1" transform="translate(389.3,320.8) rotate(-90) scale(0.8,1)">HIDE1</text>
<text x="0" y="0" font-size="4.4" fill="#1a1a1a" stroke="#1a1a1a" stroke-width="0.1" transform="translate(394.9,320.8) rotate(-90) scale(0.8,1)">CDCA7</text>
<text x="0" y="0" font-size="4.4" fill="#1a1a1a" stroke="#1a1a1a" stroke-width="0.1" transform="translate(400.5,320.8) rotate(-90) scale(0.8,1)">MYB23</text>
<text x="0" y="0" font-size="4.4" fill="#1a1a1a" stroke="#1a1a1a" stroke-width="0.1" transform="translate(406.1,320.8) rotate(-90) scale(0.8,1)">PPA2</text>
<text x="0" y="0" font-size="4.4" fill="#1a1a1a" stroke="#1a1a1a" stroke-width="0.1" transform="translate(411.8,320.8) rotate(-90) scale(0.8,1)">BCL2</text>
<text x="0" y="0" font-size="4.4" fill="#1a1a1a" stroke="#1a1a1a" stroke-width="0.1" transform="translate(417.4,320.8) rotate(-90) scale(0.8,1)">GAS</text>
<text x="0" y="0" font-size="4.4" fill="#1a1a1a" stroke="#1a1a1a" stroke-width="0.1" transform="translate(423.0,320.8) rotate(-90) scale(0.8,1)">CDC6</text>
<text x="0" y="0" font-size="4.4" fill="#1a1a1a" stroke="#1a1a1a" stroke-width="0.1" transform="translate(428.6,320.8) rotate(-90) scale(0.8,1)">SLC25A4</text>
<text x="0" y="0" font-size="4.4" fill="#1a1a1a" stroke="#1a1a1a" stroke-width="0.1" transform="translate(434.3,320.8) rotate(-90) scale(0.8,1)">CNP3</text>
<text x="0" y="0" font-size="4.4" fill="#1a1a1a" stroke="#1a1a1a" stroke-width="0.1" transform="translate(439.9,320.8) rotate(-90) scale(0.8,1)">CDCA21</text>
<text x="0" y="0" font-size="4.4" fill="#1a1a1a" stroke="#1a1a1a" stroke-width="0.1" transform="translate(445.5,320.8) rotate(-90) scale(0.8,1)">APS</text>
<text x="0" y="0" font-size="4.4" fill="#1a1a1a" stroke="#1a1a1a" stroke-width="0.1" transform="translate(451.1,320.8) rotate(-90) scale(0.8,1)">ASPC3</text>
<text x="0" y="0" font-size="4.4" fill="#1a1a1a" stroke="#1a1a1a" stroke-width="0.1" transform="translate(456.8,320.8) rotate(-90) scale(0.8,1)">ERG2</text>
<text x="0" y="0" font-size="4.4" fill="#1a1a1a" stroke="#1a1a1a" stroke-width="0.1" transform="translate(462.4,320.8) rotate(-90) scale(0.8,1)">CCNB1</text>
<text x="0" y="0" font-size="4.4" fill="#1a1a1a" stroke="#1a1a1a" stroke-width="0.1" transform="translate(468.0,320.8) rotate(-90) scale(0.8,1)">LY86</text>
<text x="0" y="0" font-size="4.4" fill="#1a1a1a" stroke="#1a1a1a" stroke-width="0.1" transform="translate(473.7,320.8) rotate(-90) scale(0.8,1)">ASP1B</text>
<text x="0" y="0" font-size="4.4" fill="#1a1a1a" stroke="#1a1a1a" stroke-width="0.1" transform="translate(479.3,320.8) rotate(-90) scale(0.8,1)">IKT7</text>
<text x="0" y="0" font-size="4.4" fill="#1a1a1a" stroke="#1a1a1a" stroke-width="0.1" transform="translate(484.9,320.8) rotate(-90) scale(0.8,1)">PKM</text>
<text x="0" y="0" font-size="4.4" fill="#1a1a1a" stroke="#1a1a1a" stroke-width="0.1" transform="translate(490.5,320.8) rotate(-90) scale(0.8,1)">ADIP</text>
<text x="0" y="0" font-size="4.4" fill="#1a1a1a" stroke="#1a1a1a" stroke-width="0.1" transform="translate(496.2,320.8) rotate(-90) scale(0.8,1)">TOP2A</text>
<text x="0" y="0" font-size="4.4" fill="#1a1a1a" stroke="#1a1a1a" stroke-width="0.1" transform="translate(501.8,320.8) rotate(-90) scale(0.8,1)">MKI67</text>
<text x="0" y="0" font-size="4.4" fill="#1a1a1a" stroke="#1a1a1a" stroke-width="0.1" transform="translate(139.3,852.5) rotate(-90) scale(0.9,1)">CD22</text>
<text x="0" y="0" font-size="4.4" fill="#1a1a1a" stroke="#1a1a1a" stroke-width="0.1" transform="translate(144.9,852.5) rotate(-90) scale(0.9,1)">HOPX4P1</text>
<text x="0" y="0" font-size="4.4" fill="#1a1a1a" stroke="#1a1a1a" stroke-width="0.1" transform="translate(150.5,852.5) rotate(-90) scale(0.9,1)">HIST2H2BF</text>
<text x="0" y="0" font-size="4.4" fill="#1a1a1a" stroke="#1a1a1a" stroke-width="0.1" transform="translate(156.1,852.5) rotate(-90) scale(0.9,1)">APMSNP1</text>
<text x="0" y="0" font-size="4.4" fill="#1a1a1a" stroke="#1a1a1a" stroke-width="0.1" transform="translate(161.7,852.5) rotate(-90) scale(0.9,1)">HOXA3</text>
<text x="0" y="0" font-size="4.4" fill="#1a1a1a" stroke="#1a1a1a" stroke-width="0.1" transform="translate(167.3,852.5) rotate(-90) scale(0.9,1)">HOXA5</text>
<text x="0" y="0" font-size="4.4" fill="#1a1a1a" stroke="#1a1a1a" stroke-width="0.1" transform="translate(172.9,852.5) rotate(-90) scale(0.9,1)">LOC401378</text>
<text x="0" y="0" font-size="4.4" fill="#1a1a1a" stroke="#1a1a1a" stroke-width="0.1" transform="translate(178.5,852.5) rotate(-90) scale(0.9,1)">HIST2H3A</text>
<text x="0" y="0" font-size="4.4" fill="#1a1a1a" stroke="#1a1a1a" stroke-width="0.1" transform="translate(184.1,852.5) rotate(-90) scale(0.9,1)">RASGRP3</text>
<text x="0" y="0" font-size="4.4" fill="#1a1a1a" stroke="#1a1a1a" stroke-width="0.1" transform="translate(189.7,852.5) rotate(-90) scale(0.9,1)">PDGFB</text>
<text x="0" y="0" font-size="4.4" fill="#1a1a1a" stroke="#1a1a1a" stroke-width="0.1" transform="translate(195.3,852.5) rotate(-90) scale(0.9,1)">HOXA9</text>
<text x="0" y="0" font-size="4.4" fill="#1a1a1a" stroke="#1a1a1a" stroke-width="0.1" transform="translate(200.9,852.5) rotate(-90) scale(0.9,1)">MAPKAP1</text>
<text x="0" y="0" font-size="4.4" fill="#1a1a1a" stroke="#1a1a1a" stroke-width="0.1" transform="translate(206.5,852.5) rotate(-90) scale(0.9,1)">HOXA10</text>
<text x="0" y="0" font-size="4.4" fill="#1a1a1a" stroke="#1a1a1a" stroke-width="0.1" transform="translate(212.1,852.5) rotate(-90) scale(0.9,1)">HOPX</text>
<text x="0" y="0" font-size="4.4" fill="#1a1a1a" stroke="#1a1a1a" stroke-width="0.1" transform="translate(217.7,852.5) rotate(-90) scale(0.9,1)">PBX3</text>
<text x="0" y="0" font-size="4.4" fill="#1a1a1a" stroke="#1a1a1a" stroke-width="0.1" transform="translate(223.3,852.5) rotate(-90) scale(0.9,1)">FHOXA3</text>
<text x="0" y="0" font-size="4.4" fill="#1a1a1a" stroke="#1a1a1a" stroke-width="0.1" transform="translate(228.9,852.5) rotate(-90) scale(0.9,1)">ZNF5</text>
<text x="0" y="0" font-size="4.4" fill="#1a1a1a" stroke="#1a1a1a" stroke-width="0.1" transform="translate(234.5,852.5) rotate(-90) scale(0.9,1)">SPATA6</text>
<text x="0" y="0" font-size="4.4" fill="#1a1a1a" stroke="#1a1a1a" stroke-width="0.1" transform="translate(240.1,852.5) rotate(-90) scale(0.9,1)">CA1</text>
<text x="0" y="0" font-size="4.4" fill="#1a1a1a" stroke="#1a1a1a" stroke-width="0.1" transform="translate(245.7,852.5) rotate(-90) scale(0.9,1)">ZNF185</text>
<text x="0" y="0" font-size="4.4" fill="#1a1a1a" stroke="#1a1a1a" stroke-width="0.1" transform="translate(251.3,852.5) rotate(-90) scale(0.9,1)">LPHN1</text>
<text x="0" y="0" font-size="4.4" fill="#1a1a1a" stroke="#1a1a1a" stroke-width="0.1" transform="translate(256.9,852.5) rotate(-90) scale(0.9,1)">HMGAGP</text>
<text x="0" y="0" font-size="4.4" fill="#1a1a1a" stroke="#1a1a1a" stroke-width="0.1" transform="translate(262.5,852.5) rotate(-90) scale(0.9,1)">CD341</text>
<text x="0" y="0" font-size="4.4" fill="#1a1a1a" stroke="#1a1a1a" stroke-width="0.1" transform="translate(268.1,852.5) rotate(-90) scale(0.9,1)">HIST1H1BP</text>
<text x="0" y="0" font-size="4.4" fill="#1a1a1a" stroke="#1a1a1a" stroke-width="0.1" transform="translate(273.7,852.5) rotate(-90) scale(0.9,1)">LAPTM4B</text>
<text x="0" y="0" font-size="4.4" fill="#1a1a1a" stroke="#1a1a1a" stroke-width="0.1" transform="translate(279.3,852.5) rotate(-90) scale(0.9,1)">HOXA7</text>
<text x="0" y="0" font-size="4.4" fill="#1a1a1a" stroke="#1a1a1a" stroke-width="0.1" transform="translate(284.9,852.5) rotate(-90) scale(0.9,1)">HOXB6</text>
<text x="0" y="0" font-size="4.4" fill="#1a1a1a" stroke="#1a1a1a" stroke-width="0.1" transform="translate(290.5,852.5) rotate(-90) scale(0.9,1)">MEIS1</text>
<text x="0" y="0" font-size="4.4" fill="#1a1a1a" stroke="#1a1a1a" stroke-width="0.1" transform="translate(296.1,852.5) rotate(-90) scale(0.9,1)">NRIP1</text>
<text x="0" y="0" font-size="4.4" fill="#1a1a1a" stroke="#1a1a1a" stroke-width="0.1" transform="translate(301.7,852.5) rotate(-90) scale(0.9,1)">HLF</text>
<text x="0" y="0" font-size="4.4" fill="#1a1a1a" stroke="#1a1a1a" stroke-width="0.1" transform="translate(338.9,849.5) rotate(-90) scale(0.95,1)">FOXH1</text>
<text x="0" y="0" font-size="4.4" fill="#1a1a1a" stroke="#1a1a1a" stroke-width="0.1" transform="translate(344.6,849.5) rotate(-90) scale(0.95,1)">RPA1</text>
<text x="0" y="0" font-size="4.4" fill="#1a1a1a" stroke="#1a1a1a" stroke-width="0.1" transform="translate(350.2,849.5) rotate(-90) scale(0.95,1)">USP3C</text>
<text x="0" y="0" font-size="4.4" fill="#1a1a1a" stroke="#1a1a1a" stroke-width="0.1" transform="translate(355.9,849.5) rotate(-90) scale(0.95,1)">TPX2</text>
<text x="0" y="0" font-size="4.4" fill="#1a1a1a" stroke="#1a1a1a" stroke-width="0.1" transform="translate(361.5,849.5) rotate(-90) scale(0.95,1)">EXO1</text>
<text x="0" y="0" font-size="4.4" fill="#1a1a1a" stroke="#1a1a1a" stroke-width="0.1" transform="translate(367.1,849.5) rotate(-90) scale(0.95,1)">GHPR</text>
<text x="0" y="0" font-size="4.4" fill="#1a1a1a" stroke="#1a1a1a" stroke-width="0.1" transform="translate(372.8,849.5) rotate(-90) scale(0.95,1)">CD38</text>
<text x="0" y="0" font-size="4.4" fill="#1a1a1a" stroke="#1a1a1a" stroke-width="0.1" transform="translate(378.4,849.5) rotate(-90) scale(0.95,1)">MCM4</text>
<text x="0" y="0" font-size="4.4" fill="#1a1a1a" stroke="#1a1a1a" stroke-width="0.1" transform="translate(384.1,849.5) rotate(-90) scale(0.95,1)">SLC7A4</text>
<text x="0" y="0" font-size="4.4" fill="#1a1a1a" stroke="#1a1a1a" stroke-width="0.1" transform="translate(389.7,849.5) rotate(-90) scale(0.95,1)">RAP1GNBC</text>
<text x="0" y="0" font-size="4.4" fill="#1a1a1a" stroke="#1a1a1a" stroke-width="0.1" transform="translate(395.4,849.5) rotate(-90) scale(0.95,1)">KIF21</text>
<text x="0" y="0" font-size="4.4" fill="#1a1a1a" stroke="#1a1a1a" stroke-width="0.1" transform="translate(401.0,849.5) rotate(-90) scale(0.95,1)">TUBB1</text>
<text x="0" y="0" font-size="4.4" fill="#1a1a1a" stroke="#1a1a1a" stroke-width="0.1" transform="translate(406.6,849.5) rotate(-90) scale(0.95,1)">IPS5C</text>
<text x="0" y="0" font-size="4.4" fill="#1a1a1a" stroke="#1a1a1a" stroke-width="0.1" transform="translate(412.3,849.5) rotate(-90) scale(0.95,1)">KIF4A</text>
<text x="0" y="0" font-size="4.4" fill="#1a1a1a" stroke="#1a1a1a" stroke-width="0.1" transform="translate(417.9,849.5) rotate(-90) scale(0.95,1)">INSCS</text>
<text x="0" y="0" font-size="4.4" fill="#1a1a1a" stroke="#1a1a1a" stroke-width="0.1" transform="translate(423.6,849.5) rotate(-90) scale(0.95,1)">SHCBP1</text>
<text x="0" y="0" font-size="4.4" fill="#1a1a1a" stroke="#1a1a1a" stroke-width="0.1" transform="translate(429.2,849.5) rotate(-90) scale(0.95,1)">CDCA2</text>
<text x="0" y="0" font-size="4.4" fill="#1a1a1a" stroke="#1a1a1a" stroke-width="0.1" transform="translate(434.9,849.5) rotate(-90) scale(0.95,1)">CDK20</text>
<text x="0" y="0" font-size="4.4" fill="#1a1a1a" stroke="#1a1a1a" stroke-width="0.1" transform="translate(440.5,849.5) rotate(-90) scale(0.95,1)">BRIG2</text>
<text x="0" y="0" font-size="4.4" fill="#1a1a1a" stroke="#1a1a1a" stroke-width="0.1" transform="translate(446.1,849.5) rotate(-90) scale(0.95,1)">CDC20</text>
<text x="0" y="0" font-size="4.4" fill="#1a1a1a" stroke="#1a1a1a" stroke-width="0.1" transform="translate(451.8,849.5) rotate(-90) scale(0.95,1)">ACAT1</text>
<text x="0" y="0" font-size="4.4" fill="#1a1a1a" stroke="#1a1a1a" stroke-width="0.1" transform="translate(457.4,849.5) rotate(-90) scale(0.95,1)">CDK4B</text>
<text x="0" y="0" font-size="4.4" fill="#1a1a1a" stroke="#1a1a1a" stroke-width="0.1" transform="translate(463.1,849.5) rotate(-90) scale(0.95,1)">MKI67</text>
<text x="0" y="0" font-size="4.4" fill="#1a1a1a" stroke="#1a1a1a" stroke-width="0.1" transform="translate(468.7,849.5) rotate(-90) scale(0.95,1)">CCNB1</text>
<text x="0" y="0" font-size="4.4" fill="#1a1a1a" stroke="#1a1a1a" stroke-width="0.1" transform="translate(474.4,849.5) rotate(-90) scale(0.95,1)">PTTG1</text>
<text x="0" y="0" font-size="4.4" fill="#1a1a1a" stroke="#1a1a1a" stroke-width="0.1" transform="translate(480.0,849.5) rotate(-90) scale(0.95,1)">CCNB2</text>
<text x="0" y="0" font-size="4.4" fill="#1a1a1a" stroke="#1a1a1a" stroke-width="0.1" transform="translate(485.6,849.5) rotate(-90) scale(0.95,1)">CDK2AP27</text>
<text x="0" y="0" font-size="4.4" fill="#1a1a1a" stroke="#1a1a1a" stroke-width="0.1" transform="translate(491.3,849.5) rotate(-90) scale(0.95,1)">LY86</text>
<text x="0" y="0" font-size="4.4" fill="#1a1a1a" stroke="#1a1a1a" stroke-width="0.1" transform="translate(496.9,849.5) rotate(-90) scale(0.95,1)">CCNF</text>
<text x="0" y="0" font-size="4.4" fill="#1a1a1a" stroke="#1a1a1a" stroke-width="0.1" transform="translate(502.6,849.5) rotate(-90) scale(0.95,1)">MAP2</text>
</svg>
</body></html>
